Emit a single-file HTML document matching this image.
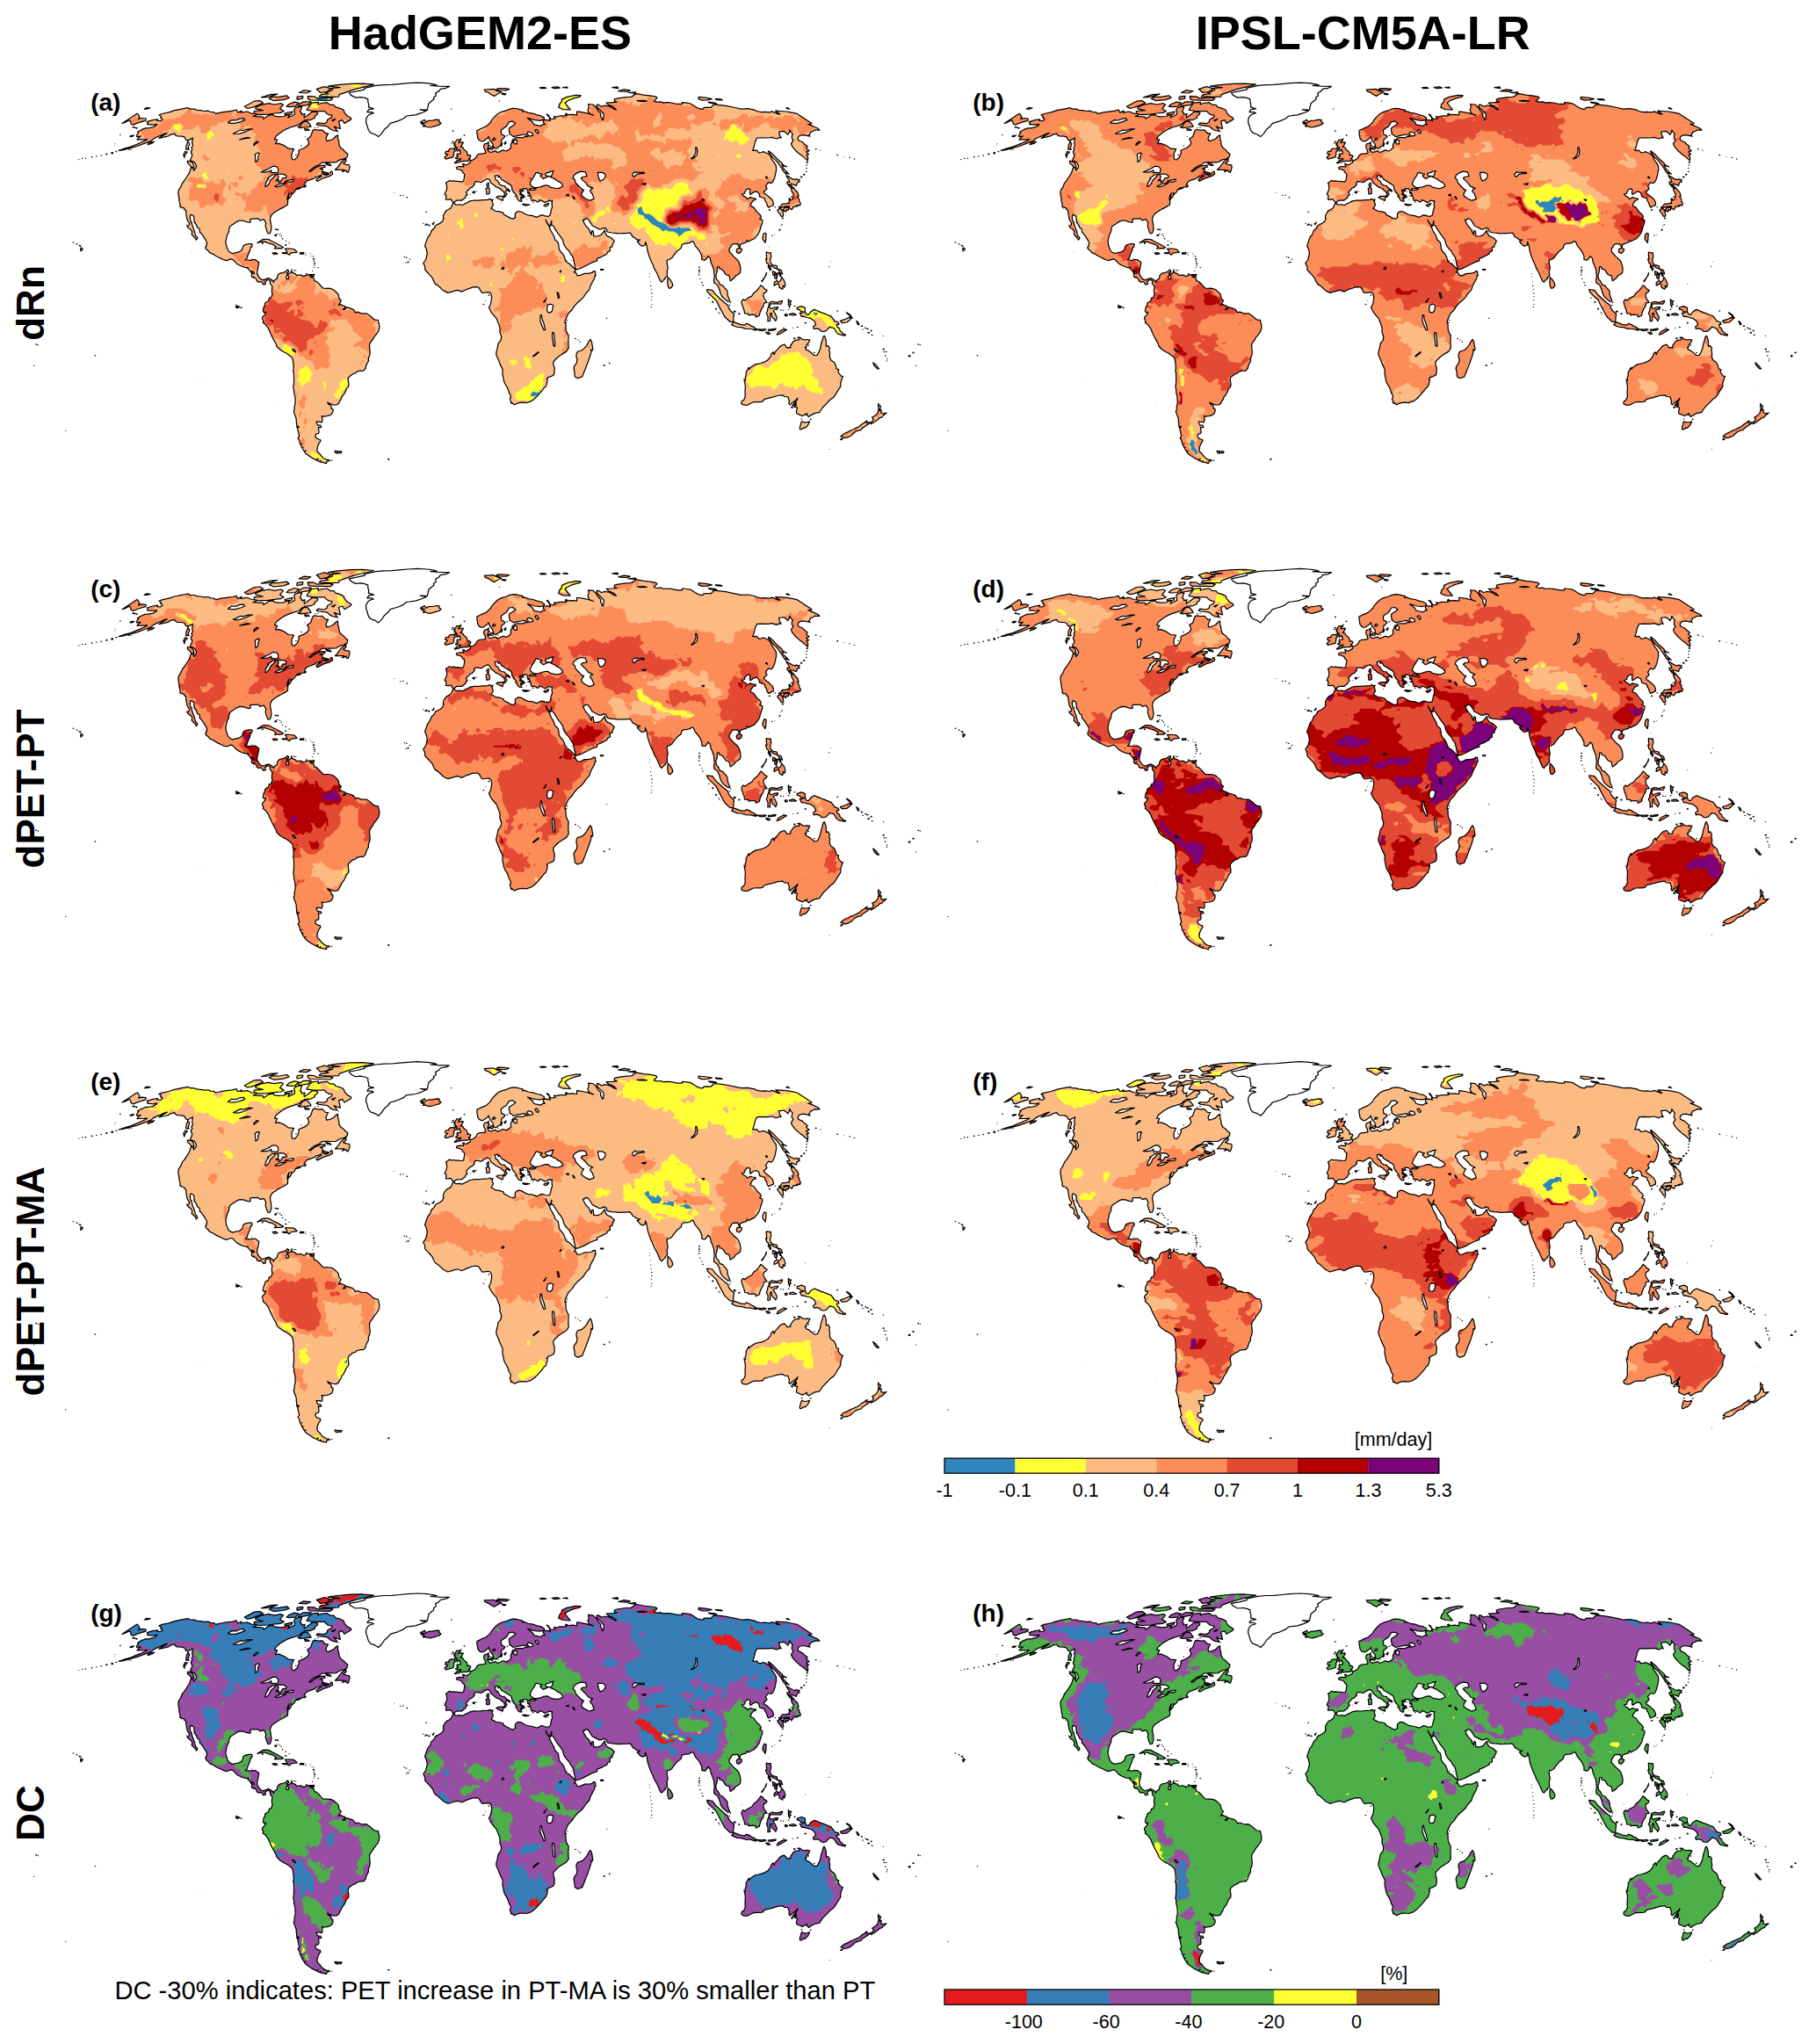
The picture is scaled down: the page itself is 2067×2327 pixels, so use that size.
<!DOCTYPE html><html><head><meta charset="utf-8"><title>fig</title><style>html,body{margin:0;padding:0;background:#fff}svg{display:block}text{font-family:"Liberation Sans",sans-serif;fill:#000}</style></head><body>
<svg xmlns="http://www.w3.org/2000/svg" width="2067" height="2327" viewBox="0 0 2067 2327">
<defs>
<path id="L" fill-rule="evenodd" clip-rule="evenodd" d="M-364.2 -208.8l6.6 -2l5.7 -0.8l-0.9 1.4l3.7 0.3l2.4 -1.4l-0.3 -1.4l-1.8 -0.6l0.6 -1.9l-2.4 -1.3l3.4 -1.5l8 -1.6l6.3 -2.2l7.1 -1.4l8.3 -1.6l2.3 1.4l4.9 0.1l2.6 1.1l4.6 0.4l4.1 0.8l4.4 -0.3l2.6 1.3l3.8 0.2l2.2 1.7l4.2 -1l4.1 -0.8l6.2 -0.8l4.7 -0.6l4.5 -1.2l0.4 1.5l1.2 1.6l4.2 -2l-1 2l7.4 -1.1l4.9 2.2l5 0.3l0.3 1.8l-3.6 1.1l6.3 0.4l5.1 0.3l0.5 2.2l3.3 -2.2l2.6 -1.9l5.3 -0.6l0.9 1.4l4.6 0.8l6.5 -0.3l3.8 -1.9l2.4 0.8l-1.4 2.5l4.2 -1.9l3.2 -1.7l0.2 -2.4l-0.8 -2.7l1.1 -2.2l4.4 -1.7l3.4 0.6l-0.8 2.4l-1.3 3l1.8 1.1l0 1.9l3.9 -0.8l-1.2 2.5l0.4 1.9l2.3 -1.6l4.2 -3.1l2.3 -1.9l4.5 0l2.1 1.4l-0.9 1.9l-2.8 1.9l0.3 1.7l-5.4 2.5l-3.9 0l-2.7 0.3l-2.4 3.4l-4.5 1.8l-4.3 1.4l-4.8 1.4l-4.3 1.8l-5.2 2.9l-3.5 2.7l-3.2 2.6l-1.7 3.6l3.1 0.2l-2 4.9l4 -0.4l5.7 2.3l5 3.6l6.2 0.5l-2.4 5.1l-0.2 3.7l0.8 3l2.5 0.4l3.2 -3.1l1.9 -5l-0.4 -2.6l6.8 -2.9l3.6 -2.7l1.4 -2.8l-0.9 -2.7l-1.1 -1.8l3.8 -2.7l1 -2.9l1.7 -4.5l2 -0.7l4.1 0.7l4.6 -0.2l2.1 2.3l1.5 1.5l3.1 0.1l-2.1 4l-0.5 2.4l1 2.3l3.7 -0.9l3.8 -1.7l2.8 -3l2.2 -1.2l0.1 4.2l1 3l0.4 4l1.7 3.3l3.4 2.5l1.8 2.1l3 2.5l-0.9 3.4l-3.8 2.3l-4.2 0.8l-4.6 2.8l-5.1 0.2l-4.9 -0.2l-6.1 0.4l-3.2 2.8l-3.8 1.3l-3.7 2.5l-3.9 3.2l1.9 0.3l5.3 -4.2l5.9 -2.5l5.1 -0.3l0.2 1.9l-5.9 1.7l3 0.8l-0.3 2.6l-0.4 2.5l2 1l2.9 0.6l1.8 -0.6l1.5 -1l2 -2.2l1.3 -0.3l0.6 3.1l-3.7 2.3l-7.1 2.2l-6.3 3.5l-1.5 -0.9l1.2 -2.3l4.7 -2.5l-0.6 -1.3l-2.2 1.3l-3.8 0.6l-0.4 1.3l-3.5 1.3l-2.4 0.9l-3.6 1.3l-1.9 1.9l-0.4 1.3l-1.1 1l0.6 1.3l1.5 0.3l-0.2 -0.9l0.2 1.2l-1.8 0.5l-2.2 0.2l-1.7 0.6l-4.6 1l3.6 -0.3l0.6 0.4l-4.3 1.2l-1.3 0l-0.3 0.9l-0.9 2l-2.8 2.4l-1.2 -1.5l0.5 2l-1 2.6l-2.7 2.7l0.5 -3.7l0.7 -3.2l-1.7 3.2l-0.7 4.2l0.9 0.3l-0.3 5.4l-3.2 2.1l-4.4 2.3l-3.5 1.9l-2.9 2l-3.3 2.2l-2.1 3.3l-0.5 3.2l0.9 4.9l0.5 5.5l-0.9 3.6l-0.9 1.6l-2 0.2l-1.4 -3.1l-0.7 -2.6l-0.9 -2.6l0.6 -3.2l-1.3 -3l-1.3 -1.6l-3.8 1.3l-2.8 -2.3l-2.8 0.4l-1.7 0l-3.3 0l-1 0.6l0.5 2.6l-0.8 1.1l-1.6 -0.4l-3.4 -0.7l-2.2 -1l-4.4 -0.3l-3.1 1.3l-3.9 2.6l-3.9 2.6l-1.4 3.9l0.1 2l-2.2 4.5l-1.5 7.2l0.7 4.5l1.9 4.9l1.6 2.2l3.2 1.8l4.4 -0.9l3.4 -0.7l3.5 -2.4l1.4 -4.6l1.3 -1.1l4.4 -1.3l3.9 0l0.6 1.8l-2.1 2.6l-0.5 2.9l-1.3 3.2l-1.2 2.6l-0.9 3.3l-2 1.9l2.8 0.2l2.9 0.3l2.6 -0.6l3.1 0l4.2 3.1l-0.6 3.2l-0.6 3.6l-0.8 2.9l-0.1 3.4l1.7 3.1l2.1 2.6l2.8 1.3l3.5 -1.3l2.9 -1.1l3.1 1.8l1.5 1.1l1.2 2.1l0.4 -1.9l3.5 -2.6l0.5 -3.3l1.8 -2.1l2.1 -0.8l3.4 -0.7l2.4 -1.3l1.5 -1.7l1.7 1.4l-0.7 1.6l-1.9 0.7l0.9 1.1l1.7 -0.1l2.1 -1.3l0.4 -0.8l0.6 -1.8l0.5 1.6l0.2 0.8l4 1.5l0.7 1.6l3.2 -0.3l2.3 0l3 1.6l2.4 -1.3l1.1 -0.5l3.8 -0.2l1.7 0l-2.1 1.3l0.8 1.3l2 0.4l1.9 1.3l0.2 2.6l2.8 0.9l2.8 2.6l1.7 2.1l2.7 2.8l3.8 0.3l2.3 -0.1l3.1 0.5l3.1 1.3l1.7 1.6l2 1.9l1.4 1.3l1.1 5.2l2.2 2l-1.4 2.9l-1.5 2.6l2.6 -1l2 1.3l2.6 0.7l0 1.9l-2.3 2l2 0l1.7 -2.8l3.8 1.1l3.7 1.3l2 2l0.9 1.9l2.6 -0.8l4 1.5l2 0.3l4.1 -0.1l4 2.7l3.5 3.3l2.3 1.3l3.4 0.3l0.7 3.2l0.9 3.1l-0.2 3.1l-1.1 3.6l-3 4.2l-2 2.3l-1.3 2.6l-2.5 3.2l-1.3 2.6l0.2 3.9l0.5 4.3l-0.5 4.5l-1.4 2.6l0.1 3.6l-1.4 2.3l-1.5 3.5l-0.2 2l-2.6 3.1l-3.3 0l-3.9 0.8l-2.1 1.9l-2.5 0.7l-4.2 3.2l-1.5 2l0 2.2l0.7 4.3l-0.2 2.9l-2.4 2.6l-1.3 3.2l-1.7 3.3l-2.3 2.8l-1.1 3l-1.6 2.1l-0.7 2.2l-2.8 1.7l-3.4 -0.1l-4.6 -1.5l-1.9 -1.4l0.5 1.9l2.5 1.3l1.2 1.6l0.1 2.3l1.8 0.7l0 2.5l-1.2 2.8l-2.6 1.8l-3.3 0.8l-3.9 0.5l-1.8 -0.5l0.6 2.1l0.2 2.6l-0.7 2.4l-3.3 -0.7l-2.9 0l1 2.8l0.6 1.3l3.1 0l1 2.1l-2 0.4l-1.4 -0.4l0.2 1.7l0.4 3.9l-0.5 1.6l-3 0.9l-0.6 2.3l0.9 1.9l2.8 1.4l1.9 0.5l0.4 1.7l-1.9 2.7l-1 2.2l-0.8 2.5l-0.3 2.8l0.5 1.9l2.7 2.4l0.6 1l0.7 1l2.3 2.5l3.7 2l3.5 0.6l0 0.9l-2.7 0.3l-0.8 2.6l-3.2 -0.9l-4 -0.9l-4.6 -2.2l-4.1 -2.1l-4.2 -2.8l-3.4 -2.5l-2.9 -4.4l-2.2 -4.1l-1.5 -3.1l-0.5 -3.2l-1.7 -2.5l1.6 -2.6l-0.8 -2.8l-0.6 -3.2l-0.6 -2.3l-1.1 -4.2l0.1 -1.9l-0.4 -1.3l-0.1 -3.8l-1.5 -4.2l-1.5 -4.3l0.9 -1.6l0.1 -3.9l1 -3.9l-0.2 -4l-0.2 -3.4l-1.4 -5.6l0.5 -1.3l-1.1 -3.5l0.7 -5.6l0 -5.5l-0.1 -5.7l-0.8 -1.9l0.7 -3.1l-0.5 -6.2l-1 -5.5l-3.1 -2.9l-4.3 -2.9l-2.9 -1.3l-4.5 -3l-3.2 -3.5l-0.5 -2.3l-2.8 -5.1l-1.8 -3.4l-1.6 -3.2l-1.3 -2.9l-1.3 -3.3l-2.8 -3.9l-3.5 -2.9l0.7 -1.3l-1.5 -3l0.3 -1.6l2 -2.2l1.1 -1l0.8 -2.6l-1.7 0.6l-1.6 -1.3l0.6 -3.9l0.7 -1.9l1 -1.5l0.2 -2.4l1.1 -0.6l2.4 -1.3l1.3 -3.8l2 -0.1l0.6 -2.3l1.2 -2l-0.9 -1.3l-0.1 -3.9l0.6 -3.5l-1.5 -2l-0.8 -1l-0.5 -1.8l0.9 -1.1l-2.2 -1.6l-1.7 -0.2l-0.9 1.2l-1.8 0.9l1 2.6l-2.6 1l-0.8 -1.3l-1.3 -1.6l-1.4 -0.7l-2.1 0.8l-1.1 -1.1l-1.1 -0.2l0.3 -1.1l-1.4 -1.9l-1.4 -0.7l-0.6 -1.3l-0.7 1.3l-1.6 -1.1l-0.4 -1.5l0.6 -1.8l-2.1 -3.4l-1.8 -1.9l-1.2 -1.2l0.8 -1.1l-1.4 0.3l-1.7 0l-3.6 -1.1l-2.8 -1.2l-3.7 -2.1l-4.3 -4.7l-2.2 -0.6l-5.3 1.8l-3.6 -1.2l-2.1 -1.1l-3.5 -1.6l-2.9 -1.5l-3.1 -2.1l-3.5 -1.3l-1.9 -2.5l-2.5 -1.9l-0.8 -2.3l1.4 -0.8l-0.5 -1.1l1.2 -2l-1 -2.9l-1.5 -2.3l-2.4 -3.9l-2 -2.6l-1.6 -1.3l-0.1 -3.5l-2.8 -2l-0.4 -1.9l-1.9 -3l-1.2 -3.5l0 -3.6l-1 -1.2l-2.8 -1.4l-0.9 2.6l0.5 3.9l1.1 2.6l1.1 3.2l0.7 2.3l1.7 4.2l0.9 3.9l0.7 2.1l1.3 0.5l0.6 2l-1.5 1.7l-0.8 -2l-3 -3l-1.3 -1.3l0.6 -3.2l-2.1 -2.9l-2 -1l-1.9 -2.5l2.2 -0.8l0.6 -2.2l-1.5 -2.3l-1.3 -2.9l-0.7 -4.6l-0.5 -2.6l0.2 -1.9l-2 -2.1l-0.4 -1l-1.7 -0.5l-2.9 -1l0.4 -2.3l-1.3 -4.5l0.2 -1.1l-0.5 -1.8l0.4 -1l-0.7 -1.3l-0.4 -3.5l0.3 -3.3l2.6 -3.8l1.6 -4.2l2.4 -2.9l2.8 -4.2l2.4 -3.8l0.8 -1.9l1.7 -5.1l2.5 0.8l0.6 2.7l2.5 -3.2l0.4 -2.2l-0.4 -0.9l-0.9 -1.6l-0.9 -1.6l-2.3 -0.9l-2.3 -0.9l0.2 -1.9l1.4 -2.5l0.5 -2.8l-1.2 -1.2l-0.2 -2.2l1.4 -2.1l-0.8 -1.9l1.5 -3l-0.9 -2.5l0.4 -2.7l0.4 -3l-5.7 3l-2.2 -0.9l-1.4 -3l-3.1 -1l-5.3 -0.2l-2.3 -1.3l-0.5 -1.6l-5.1 1.2l-2.2 1.7l-4.2 0.9l-6.4 1.5l3.3 -2.4l6 -3.5l-3.5 0.9l-4.7 2.3l-4.3 1.8l-3.4 1.8l-2.8 2.4l-8.2 3l-7.4 2.8l-7.5 2.1l-6.2 1.6l-3 0.7l-4.1 0.5l7.2 -2.5l6.4 -1.7l4.5 -1.9l6.1 -2.5l5.3 -2.4l2.9 -1.8l-3.6 0.2l-4.4 0.1l-3.6 0.2l1.5 -2l2.7 -2.1l-4.6 0.6l0.3 -2.3l1.8 -2.4l-1.1 -0.6l4.5 -2.6l4.4 -1.8l3.6 0l5.2 -1.1l4 -2.4l0.2 -1.1l-4.2 0.9l-3.3 -0.3l-3.4 -0.3l0.8 -1.4l-1.1 -1.5zM-15.9 -116.3l-1.2 3.2l-1.5 2.6l-2.1 1.3l-2.5 1.2l-2.1 2.7l-1.6 3l-0.2 2.9l0.7 0.6l-1.5 3.3l-3.1 2.4l-4.8 2.3l-1.4 3.1l-3.2 2.9l-1.5 4.2l-2.8 3.6l-1 2.9l-2.3 6.5l1.8 3.3l1 5.5l-1.6 6.8l-2.9 4.1l1.9 4l0.1 3.6l2.1 2.3l2.8 2.9l3.6 4.2l1.3 3.3l1.8 3.2l3.2 2l2 1.9l4.2 3.9l4.9 2.5l4.6 -1.3l5.7 -1.7l2.9 0.5l2.7 1.2l5.3 -2.6l3.5 -1.2l4 -1.4l2.8 -0.2l3.2 0.3l1.4 1.7l1.5 2.9l1.7 1.9l2.6 -0.3l3.7 -0.5l1.7 0.2l2 1.9l0.6 3l0 2.2l-0.7 3.9l-0.4 2.3l-2 3.6l1.7 3.9l1.1 1.9l3.7 4.6l2.5 2.9l1 3.2l0.5 1l1.7 4.6l0.5 4.2l-0.5 1.3l2 5.8l-0.7 4.4l-2.9 3.4l-1.1 5.9l-1.2 4.5l0 2.1l0.9 2.5l1.4 2.9l1.9 5.2l2.7 5.5l0.5 2.5l-0.3 3.4l1 4.8l0.7 3.8l1.5 3.4l1.9 2.9l1.5 3.4l0.8 3.1l2.1 3.6l0 1.6l-1.1 2l1.3 3.5l0 1.5l1.1 -0.7l1.1 1.2l1.8 1.1l2.9 -1.4l3.1 -1l3.5 -0.2l3.8 0.5l2.3 -0.7l3.5 -1.2l2.9 -2l3.3 -3.2l3 -3.3l3.2 -3.7l2.3 -3.1l1.8 -1.3l1.7 -4.9l0.3 -3.2l-0.9 -0.2l1.3 -2.1l2 -0.5l4.3 -2.1l1 -2l0.3 -5.8l-1.2 -3.9l-0.2 -3.4l2.5 -2.8l3.6 -3.5l3.5 -2.3l5.3 -3.3l2.6 -3.9l-0.3 -2.6l-0.1 -4l0.2 -6.4l-0.1 -1.7l-1.2 -1.5l-1.4 -3.6l-0.4 -3.9l0 -2.9l-1.1 -2.6l0.7 -2.9l1.6 -3.4l1.6 -3.6l2 -2.1l2.1 -2l2.7 -4.3l4.2 -4.6l3.8 -3.2l2.7 -2.8l2 -3.3l2.8 -3.2l1.5 -1.5l1.5 -4.7l2 -3.9l2.7 -4.9l0.3 -2.9l1.2 -0.1l-0.8 -2.2l0.2 -2.3l-2.2 -0.4l-1.1 1.4l-2.5 0.8l-3.4 0.4l-2.9 0l-2.8 1.1l-2.8 1.3l-2.8 -0.1l-1.6 -2.8l-1 -1l-1.3 0.2l1.7 -1.5l-0.1 -1.6l-1.6 -1.6l-3.1 -3l-2.7 -2.6l-2.1 -0.9l-1.9 -2l-0.9 -3.9l-2.1 -3.9l-2.2 -2.3l-1.9 -2.9l-0.5 -4.5l-0.7 -3.3l-3.6 -3.2l-0.8 -3.3l-1.7 -3.2l-2.1 -3.6l-1.5 -3.7l-1.2 -2.8l-1.8 -2.3l-1.1 -2.6l-0.2 -1.1l0.5 1.5l1.7 3l1.2 1.2l1.9 1.5l0.4 -1.5l0.4 -2.5l0.6 -1.9l-0.1 1.8l-0.4 2.9l1.7 0.3l1.5 2.1l2.4 3.8l2.5 4l2.5 2.9l2.6 4.1l1 4.3l1.7 3.2l2.4 2.9l1.8 1.6l1.9 3.6l2.7 3.6l0.9 3.6l0.6 3.2l1.1 4.9l0.6 2.1l1.6 0.2l2.8 -0.7l4.2 -1.9l3.9 -2l3.3 -1.8l3.9 -1.8l4.7 -1.6l-0.2 -2.3l2.5 -1.1l2.8 -1.1l3 -1.7l3 -1.4l0.6 -2.1l3 -1.3l-0.1 -4.3l2.2 -0.9l0.9 -2.3l1.9 -3.9l-3.7 -3.6l-4.7 -2.2l-2.1 -3.3l-0.3 -3.2l-0.8 0.9l-1.9 2.3l-2.2 2.6l-3.8 1.1l-4 -0.1l-0.2 -2.6l-0.3 -2.9l-1.2 -0.9l-0.9 2.2l0.2 2.4l-1.9 -2.8l-0.6 -2.7l-1.6 -1.8l-2.5 -2.6l-1.4 -2.5l-1.4 -2.6l-0.5 -1.9l1.7 0.2l1.4 -1.7l2.9 0.8l2.6 3.9l2.2 3.6l3.2 1.5l4.2 2.4l2.8 -0.1l3.3 -1.5l2.2 1.1l1.3 3.6l4.8 1l4.5 0.3l2.9 0.5l5.2 -0.3l3.1 0.1l5.2 -0.6l1.7 1.9l1.5 3l2.3 0.6l1.3 1.6l3.2 1.3l1.6 -0.5l-2.5 2.2l-0.9 -0.4l2 2.6l2.4 2.3l1.8 0.6l3 -1.2l0.1 -3.6l1.5 3.6l1.1 6.8l1.7 5.5l2.2 5.8l2.5 5.2l1.1 3.3l3.2 5.4l1.7 4.2l2.1 4.8l1.8 1.2l1.6 -2.3l2.3 -1.6l-0.3 -1l2.6 -2.3l-0.4 -5.2l1 -3.9l-1.1 -5.8l0.3 -3.3l2.5 -0.3l2.9 -1.9l2.4 -3.6l4 -4.6l3.9 -2.9l1.1 -3.9l2.9 -1.4l2.6 0l3.5 -0.8l2.3 -1.7l1.7 0.4l2.2 5l1.9 2.1l2.8 3.6l2.7 5.5l0.1 4.2l3.1 0.8l2.3 -1.8l1.6 -2.9l2.3 2.3l1 4.9l1.4 3.2l1.9 5.2l0.7 7.8l-0.6 3.6l0.2 3.4l2 1.1l2.2 2l2 4.9l1.2 4.5l1.8 3.3l2.8 2.6l3.7 2.9l1.7 -0.3l0.6 -0.4l-1.5 -3.5l-1.3 -3.9l0 -3.3l-1.1 -1.9l-2.5 -2.6l-1.7 -2.3l-3.2 -1l-1.7 -3.9l-2.4 -2.6l-0.6 -4.2l1.3 -4.2l0.4 -2.6l-0.3 -2.3l1.4 -0.7l1.2 0.4l0.2 2.2l2.3 0.2l1.8 1.5l2.4 3.9l1.5 1.3l2.9 0.6l1.3 5.9l1.4 -0.7l3.2 -2.6l1.6 -2.4l2.4 -1.2l2.7 -2.2l0.5 -3.6l-0.5 -4.2l-1.7 -4.9l-2.1 -2.6l-3.8 -3.3l-2.5 -2.9l-2.3 -2.6l0.1 -3.6l1.6 -1.3l0.3 -1.6l1.5 -1.6l1.5 -0.8l3.2 0.3l1.3 -0.5l0.7 2l1.7 2.4l0.5 -2.1l-0.4 -1l1.5 -0.8l2.7 -1l3.2 -0.8l0.6 -2.6l2 1.7l2 -1.3l4.4 -2l3.2 -3.7l1.9 -2.8l1.1 -2.3l1 -3.9l0.9 -2.6l1.2 -3.2l-0.1 -2.9l-3.1 -1.3l1.8 -2l-1.2 -2.6l-3.3 -2.9l-4 -5.5l-3.6 -1.7l-0.2 -0.9l1.5 -3l2.1 -2.5l2.5 -0.5l-0.1 -1.5l-3.8 -0.6l-2.2 -0.8l-3.6 2.1l-1.2 -2l-3.1 -1.6l-1.8 -2.1l1.5 -0.3l1.6 -0.5l0.5 -2.3l2.1 -2.6l2.4 -0.4l1.4 1.1l-0.5 3.2l0.6 2.3l1.6 -1l1.9 -1.6l2.9 -1l2.8 1.3l1.2 2.9l0 1.6l3.3 1.3l2.7 0.7l0.2 2.3l1.7 2.5l1.2 3.9l1.2 1.7l2.7 -1.3l3 -1.3l-0.2 -3l-1.5 -3.2l-3.9 -3.6l-4.7 -3.5l-0.8 -2l1.4 -0.9l2.3 -2.4l-1.6 -3.1l1.3 -1.6l1.9 -2.6l3.2 1l1.8 -1.6l1.7 -3.5l1 -3.6l0.7 -3.5l0.6 -2.8l-0.2 -4.8l-1.9 -3.1l-3.3 -4.7l-0.7 -2.5l-2.1 -2.8l-4.6 -2.2l-2.1 -0.9l-1.8 0.9l-3.3 0.3l-2.2 -2.7l-4.6 0.3l0.9 -3.1l0.9 -2.6l0.8 -4.1l2.3 -4.6l5.9 -0.2l6.3 0.2l4.7 -0.6l5.2 1.6l1.7 -0.6l1.8 -0.9l1.8 0.6l-1.7 -3.5l-0.8 -3.6l3 -0.3l2.6 -0.3l4.7 3.6l-0.3 0.3l0.9 -1.2l1.1 -2.1l0.1 -2l1.7 2.6l1.9 2.1l-0.8 1.4l-0.2 3.6l1.6 1.8l-1.1 2.1l-1.4 2.1l1.6 3.4l3.9 4.6l5.3 4.6l1.9 1.1l6.2 5.5l0.3 -1.9l-0.1 -2.2l-1.6 -2.5l2.7 -0.6l-3 -2.8l3.5 -1.2l-3.5 -3.1l1.6 -1.8l-3.7 -2.8l-2.1 -2.2l-1.8 -0.8l-3.1 -1.5l-0.3 -2.4l0.7 -1.8l2.4 -1.2l3.4 -0.5l7.3 1.6l-1.4 -1.4l1.4 -1.7l0.3 -1.5l2.3 -0.9l3.2 -1.7l5.1 0.2l-1.9 -2l-6.2 -2.9l-5.1 -2l2.6 0.3l1.7 -1.2l-16.7 -11l-6.1 -1.3l-5.9 -1.1l-7 -0.5l-5.6 -0.3l2.1 1.7l2.9 1.9l-1.7 0l-7.2 -3l-2.9 1.1l-5 -0.6l-4.8 0.3l-5 -1.1l-2.2 -1.3l-7.7 -1.5l-7.5 0.4l-7.4 -1.6l-10.1 -2.1l-4.8 -0.6l-9.2 -0.9l-0.8 1.2l-2.4 2.4l-4.4 -0.3l-3.7 0.3l-0.4 1.3l-1.8 0.5l-4 -1l-3.6 -2.1l-5 -3.2l-4 -0.8l-5.6 -0.5l-0.1 1.8l-5.5 0l-6.9 -1.5l-6.2 -0.3l-2.3 0.5l-3.5 -1.3l-4.6 0.3l-3.2 -1l3.1 -3.1l0.6 -1l-1.4 -1l-5.1 -1l-8.8 -1l-7.9 -1.5l-4 1.8l-0.3 1.2l-3 0.8l-4.4 0.2l-4.2 0.5l-6.6 1l-2.9 1l0 2.1l2.9 1l-5.4 0.5l-6.6 0.4l2.5 2.5l5.3 2.1l3.5 3.2l-2.5 -0.6l-4.9 -3.1l-5.4 -1.1l-1.6 0.5l-2.6 0.6l-3.6 -2.2l-1.8 0.3l0.6 3.2l4.4 4l3.2 3.3l-0.3 2.7l-0.1 3.4l-1.6 0.8l0 -1.6l-1.8 -3.1l0.3 -2.8l-3.7 -4l-1.4 -2.7l-3.8 -3.5l-5.3 -0.5l0.6 4l-1.3 2.7l1.2 2.7l1.5 1.9l4 1.4l-6.4 -2l-3.6 -0.8l-6.5 -1.2l-2.5 -0.2l0.1 2.2l-0.2 1.7l-4.5 -0.6l-5.1 0.3l-2.7 -1.4l-0.7 0.9l1.7 1.3l-1.8 0.6l-6.4 0l-3.7 1.1l-2.8 -0.6l1.4 2.6l-5.2 0.2l-2.9 -4.7l-1.6 -0.4l3.1 3.2l0.1 1.4l0.3 1.9l0.7 0.9l-3.6 -1.1l-4.2 0.2l-0.3 2.3l1.9 2.7l-2.2 -0.1l-2.7 2l-3.6 -0.9l-3.9 -0.8l-1.5 -2.9l-5.8 -4.6l6.1 1.8l2.3 0.5l5.6 0.6l3 -0.6l2.1 -1.4l-0.3 -1.4l-3.9 -2.2l-4.1 -0.8l-4.7 -1.7l-5.4 -0.8l-3.6 -1.6l-3 0.2l0.7 -1.6l-4.6 -1.1l-2.8 -0.8l-4 -0.2l-4.4 1l-2.8 1.4l-5.9 1.6l-3.8 1.9l-1.9 1.7l-3 3l-2.6 3.1l-0.9 2l-2 2l-3 2.6l-2.2 1.2l-4.3 1.7l-2 1.2l-2.2 0.8l0 3.6l0.5 1.7l0.3 3.3l0.8 1.1l1 1.6l2.5 1.2l2.2 -0.3l3.3 -2.4l2.4 -1.8l0.1 -1.2l0.9 2.4l0.7 2.1l1.8 2.1l1.8 2.5l-0.2 1.8l1.5 2.1l1 0.8l1.9 -0.2l0.4 -0.9l2.7 -1.4l1.7 -1.6l0.4 -3.4l0.1 -2.4l2.6 -2.1l1.6 -1.5l-1.1 -1.5l-3.1 -1.1l-0.4 -4.8l2.4 -2l3.6 -2.3l1.6 -2.6l1.7 -2.6l4 -0.5l3.3 2.2l-2.6 2.3l-2 1.2l-2.8 2l-0.1 3.2l0.9 1.5l-0.4 2.1l2.3 1.1l2.1 1.8l4.4 -1l4.4 -0.9l3.7 -0.7l4 2.3l-3.9 0.3l-0.9 1.1l-7.4 0l-2.8 0.7l0.2 1.5l2.5 1.1l-0.2 1.6l0 2.4l-2.4 0l-1.5 -2.2l-2.4 1l-0.8 2.8l0.6 2.4l-2.4 2.3l-2.9 1.7l-4.2 -1.1l-3.2 1.7l-3 0.9l-2.1 -1.8l-3.3 1.1l-2.9 0.6l-1.7 -1.4l-1.1 -1.2l0.4 -2.2l0.3 -2l1.6 -0.9l-1.5 -0.7l0.3 -2.5l0.2 -0.7l-2.5 1.8l-2.1 0.1l-1 1.9l0.1 2.9l1.4 2l0 1.8l0.8 1.2l-0.9 1.1l-1 -0.1l-2.6 0.6l-2.4 0l-1.5 0.6l-1.5 0.8l-0.6 1.7l-0.9 1.3l-1.5 1.5l-0.7 0.5l-2.1 0.9l-1.2 0.3l-0.6 0.8l-0.1 1.6l-1.2 0.7l-2.5 1.5l-1 0.6l-2 -0.3l-0.3 -1l-1.8 0l0.9 2.7l0.2 0.7l-1.2 -0.1l-2.5 -0.4l-2.6 0.2l-1.9 1l0.1 1.2l0.9 0.7l2.5 0.3l2.9 1.4l0.5 1.8l2.2 1.8l0.1 1.9l-0.4 2.9l-0.6 3.3l-1.4 0.9l-2.6 -0.1l-2.1 -0.4l-2.6 0.1l-2.7 -0.6l-3 0.3l-1.7 -0.8l-1.9 1.4l-2.3 1.5l1.1 2.2l-0.2 1.1l0.5 2.3l-0.4 1.6l-0.3 1.6l-1.5 2.6l-0.4 1.8l0.8 0.3l0.8 0.6l0 1.8l-0.4 3l2.9 0.1l2.6 -0.6l1.7 2.1l0.7 1.2l1.1 0.5l0.7 -0.4l2.6 -1.9l2.4 0l2.8 -0.3l0.7 0.3l3.3 -2.8l0.7 -0.1l0.6 -2.4l1.9 -1.2l-1.5 -2.3l0.9 -1.7l2.3 -2.4l1 -1.2l2.4 -0.9l3 -3.1l-0.8 -1.2l1.7 -2.2l3 0.1l1.4 0.2l1.4 0.6l1.9 -0.5l1.5 -1.4l4.3 -2.2l2.3 0.9l1.3 1.8l0.6 2l3.6 2.6l1.2 1.2l1 0.9l2.6 0.8l1.8 1.2l1.4 0.5l0.7 1.6l2.1 0.9l0.8 1.8l0.6 1.8l-1.3 2.2l1.1 0.6l1.4 -1.5l1.2 -2.2l-1.8 -2l1.7 -2.5l2.2 1.3l1 0.8l0.3 -1.1l-1.6 -1.5l-2.9 -1.6l-2 -2.5l-3.1 -0.3l-2.2 -1.6l-2 -3.6l-2.6 -1.5l-0.3 -2.8l-0.6 -1.5l3.7 -0.7l0.4 2.5l1.3 -1.5l2.4 3.9l3.3 1.9l4.5 2.8l2.8 1.7l1.1 2.5l0.3 2.8l1.5 1.9l0.8 1.2l1.5 1.8l1.6 2.1l-0.4 1.3l1.9 3.4l2.2 1.4l1.9 -0.1l-1.4 -3.6l1.9 0.5l-1.4 -1.6l1.7 -0.1l1.1 0.9l-0.3 -1.8l-3.9 -2.1l0.8 -1.6l1 0.5l-1.9 -2.6l0.5 -1.9l1.3 1.1l-0.2 1l1.9 0l1 -0.7l-1.8 -1.6l1.5 -0.9l3.9 0.3l1.2 2.5l-0.2 2l2.2 -0.3l-0.4 0.8l0.7 1.9l-1.5 1.3l2.1 -0.4l0.6 1.9l0.1 1.6l0.6 1l0 1.1l2.4 -0.5l2.3 0.7l1.6 1.4l2 -0.2l0.6 -2l3.6 1.1l2.4 1.6l3 -0.8l1.6 -1.6l2.1 0.8l2.1 -0.2l-0.5 1.9l-0.1 1.6l0.5 3.5l-0.7 1.8l-0.9 3.5l-0.4 2.4l-0.7 1.9l-1.6 1.1l-4.2 -0.4l-1.4 -0.8l-2.2 -0.3l-1.6 0.5l-1.3 0.8l-2.6 1.2l-4.8 -1.7l-5.8 -0.8l-3.3 -1.5l-3.8 -2.3l-2.9 -0.5l-2.1 0.8l-1.9 1.9l-0.1 3.6l0.4 0.6l-2.3 1.8l-3.4 -0.8l-3.9 -2.3l-3.4 -1.6l-0.9 -2.3l-5.3 -1.6l-3 -0.1l-1.5 -0.8l-1.3 -1l-2.8 -1.3l1.8 -2.7l0.7 -1.6l-0.7 -1.8l-0.6 -2.1l1 -2.2l-1.9 0.8l-1.3 -1.4l-2.9 1l-2.6 0.2l-2.4 0l-3 0.3l-1.9 0.2l-5.4 -0.1l-4.7 0.9l-3.3 1.9l-2 0.7l-2 1.3l-2.1 0.7l-2.1 -0.7l-2.6 0.2l-2.1 0.1l-1.6 -1.3l0 -0.9zM-392.5 -207.1l3.4 -1.1l5.3 -2.6l1 2.3l0.4 2l2.4 1.2l4.7 -2l4.8 -1.5l4.8 -1.4l0.4 -2.2l-4.6 -0.6l-4.1 1.1l1.5 -2.2l-1.5 -2.5l-0.8 -1.4l-1 -0.1zM-317.5 -186.5l1.8 3l-1.7 4.6l1.1 1.6l-3.6 0l0.5 -4.6zM-160.8 -161.5l4.7 0.9l1.5 1.6l-4.3 -0.6zM406.8 34.8l1.6 3.9l0.4 2.9l0.1 5.2l2.1 -0.7l1.8 2.6l-0.5 3l0.8 3.2l-0.3 4.2l1.5 3.4l3.7 2.5l1.8 3.7l0.8 3.7l2.6 1l-0.7 2.6l1 1.5l2.3 3.1l2.1 0.3l-1.4 3.6l-1.3 4.5l0.2 2.6l-0.5 1.5l-3.5 5.3l-2.2 3.8l-2.5 3.1l-2.6 1.6l-2.9 3.1l-2.1 2.1l-3.9 3.9l-3.2 4.5l-0.5 1.3l-6.1 1.3l-3.7 2l-2.7 1.9l-1.5 -1.6l-1.6 -1l1.3 -1.3l-1.9 1l-3.5 1.9l-3.2 -1.4l-3.1 -1.2l-0.6 -1.9l0.5 -2.6l0.6 -2.3l-2.2 -0.9l-1.2 0.1l2.3 -2.4l-0.3 -2.3l-2.1 3.1l-2.2 0.3l3.2 -4l2.2 -2.6l0.7 -2.3l-1.8 2.3l-2.3 1.6l-2.5 1.9l-2 2l-1.3 -1.3l0.4 -3.9l-0.8 -1.3l-0.6 -2.6l-4.3 -0.3l-1.8 -1.7l-6 0.7l-6.2 1.9l-4.5 1l-4.6 1.3l-1 2l-2.9 0.9l-2.9 -0.1l-5.2 0.2l-3.4 1.6l-3.4 1.9l-3.6 0l-1.7 -0.5l-1.7 -1.5l0.6 -2.7l2 -0.8l1.9 -4.2l-0.2 -3.3l-0.1 -2.3l0.4 -4.9l-0.3 -3.5l-1.1 -4.9l1.6 0.3l-0.5 -2.6l0.9 -2l0.2 -4.5l1.6 -2.9l1.5 -2.6l0.3 2l2.4 -2.5l5.1 -3.2l3.2 -0.5l2.4 -0.6l4.1 -1.3l4.1 -2.3l3.3 -4.1l0.8 -3.1l2 -1.9l1.2 2.9l1.1 -3.2l2.7 -2.6l2.5 -3.3l2.5 -1.6l2.8 -0.8l2.1 2.4l0.9 1.6l2.3 -0.5l1.7 0.2l0.1 -2.9l1.7 -2l1.1 -1.9l1.7 -1.2l2 -0.8l3.1 -0.1l0 -2.1l-1.6 -0.7l2.8 0l1.5 1.6l1.9 0.8l2.3 0.2l2.9 -0.3l2.5 0.6l-1.6 3.3l-2 1.9l-0.5 3.3l-1.4 -0.2l1.3 2.8l2.7 1l3.7 2.9l2.6 2.4l3.5 -0.1l2.6 -4.9l1.1 -3.3l0.8 -4.8l1.1 -2.8l1.4 -5.4zM-167.2 -242l7.5 -0.9l5.1 -3.7l-7.7 -2.3l-8.9 2.8l2.6 2.2zM-131.8 -211.6l-7.7 4.5l-2.4 -3.7l-4 1.5l1.8 8.3l-3.6 -0.9l-3.6 -1.6l3.9 5.4l-5.2 -0.9l-3.3 -1.7l-3.1 -2.9l-9.2 -1.2l-3.2 -1.1l1.7 -1.7l7.1 0.8l3.2 -1.7l0.6 -2.8l4.9 -2.8l0.4 -2.2l-3.9 -0.6l-2.9 -1.9l-1.6 -2.2l-7.2 0l-6.2 0l-7.2 -1.3l2.4 -4l3.5 -4l7.6 -0.8l-0.3 2.6l3.3 -1.5l6.6 -0.8l3.8 2.6l4 0l2.1 2.6l5.2 1.4l3.9 1.9l1.1 3.2l3.2 3.6l4.1 2.2zM327.6 26.3l3.3 1l-1.5 1.3zM-250 -224.2l-3.2 -2.1l7.5 -4l3.7 -2l6.5 -0.5l3.6 2.5l-6.1 2.6l-7 2.7zM-193.2 -234.1l6.2 -1.3l0.3 -2.7l-6.5 0.7l-0.5 2zM183.7 -242l8.3 -0.7l0 1.4zM312.8 -4.9l1.8 -1.9l1.9 1.3l3.1 -2.6l4.5 -2.3l2.7 -3.9l2.8 -1.9l2.7 -3.3l2.2 -3.2l2.6 1.9l1.2 1.8l3.3 2.1l-1.6 2.3l-2 0.8l-0.7 3.1l1.2 3.2l3 4.3l-3.5 0.6l-0.8 4.2l-1.9 2.5l-1.7 4l-0.7 3.6l-4.2 1.8l-0.3 -2.5l-4.3 -0.3l-3.5 0.7l-0.2 -1.7l-4.3 -0.3l-0.5 -3.4l-2.2 -5.8l-0.9 -3.4zM443.3 17.9l2.1 1.6l1 2.6l-1.7 -0.3zM-14.2 -162l1.8 -1.5l1.1 -1.3l3.9 -0.8l0.8 -1.2l-1.3 0.4l-1.9 -0.4l-2.4 0l-0.8 -0.9l3 -1.9l-1.6 -1l0.4 -1.8l3.7 0l0.5 -2.2l-1.7 -1.2l0.5 -1.4l-3.5 1l-0.6 -1.1l1.2 -1.4l-0.6 -1.4l-2 1.8l0.4 -2.1l0.3 -1.2l-1.7 -1l1 -0.9l0.1 -1.8l1.3 -1.9l0.7 -1.1l3.5 0l1.1 -0.1l-0.2 0.6l-2.2 1.8l-0.5 1l5.2 -0.6l0.5 0.6l-0.7 1.1l-1 1.7l-0.2 0.9l-1.5 1l2.6 0.3l0.2 0.3l1.4 2.4l2 1.5l1.2 1.2l0.5 1.6l0.6 1.4l-0.4 1l0.7 -0.4l2 0l1.1 1.4l-0.5 1.3l-0.7 0.4l-0.8 0.8l-0.6 0.6l1.8 0.4l-0.2 0.8l-0.9 0.6l-1.8 0.6l-2.5 0l-2.1 0l-2.1 0.7l-1.3 -0.6l-1 0.3l-0.7 1.2l-1.2 -0.4l-2.7 1.2zM361.7 10.4l2.5 -0.3l0.6 1.6l-2.4 0.6zM352.1 -36.4l1.8 0l-0.9 3.3l-0.3 2.2zM-184.9 -201l4.1 0.6l1.5 1.1l-4.7 0.3zM22.5 -137.6l2 -2l0.4 3.3l-0.7 1.9l-1.7 -1.6zM63.5 -115.3l2.7 0.3l4.9 0.6l-4.2 1l-3.4 -1.1zM-238.6 -71l5.9 -3.7l1.7 -0.5l5.3 0.2l3.9 2.2l4.5 2.3l4.3 2.3l4.1 2.4l-2.6 1.1l-2.2 -0.1l-5.4 0.3l1.9 -2.1l-3.6 -2.6l-5.4 -1.6l-4 -1.6l-4.3 0.3zM87.4 -113.7l1.8 -1.1l4.1 -1.2l-1.3 2.3l-2.6 1.3zM-178.3 -233.6l22.8 0.5l3 -2.3l-5.5 -1.2l-12.4 1l-3.6 -2l-7.3 -0.3l0.5 3zM39.7 -241.3l4.8 0.7l-1.5 1l-3 -0.7zM-145.9 -237.4l-7.8 0.3l-14.6 -0.5l2.3 -2.2l8.5 -1l-3.9 -1.4l8.6 -2.8l-1 -2.2l9.5 -0.7l-13.9 -1.4l10.6 -1.6l15.3 -1.3l13.8 -0.2l12.5 1.1l-7 2l-11.2 2.5l-7.5 2.2l-6.8 2.4l-6.9 2.4zM61.2 -126.3l3 0.9l1.5 2l-2.8 -1.7zM-145.5 166.2l3.1 0.3l-1.1 1.9l-2.1 -0.3zM-150.5 165.9l3.5 0.3l-0.1 2.5l-2.7 -0.9zM82.8 -247.6l5 -0.5l2.4 0.9l-5 0.4zM96.6 -248.1l6.5 -0.6l2.8 1.3l-6.5 0.6zM109.1 -247.9l4.7 -0.6l0.9 1.1zM342.9 27.6l3.2 -0.3l5.5 -0.7l-0.4 1.3l-5.2 1l-2.9 -0.3zM23.4 -178.3l2.1 -0.6l0.4 1.2l-1.7 0.2zM42.5 -184.4l1.9 -1.8l-0.2 1.8l-1.1 1.1zM-320.8 -174.9l2.6 0.6l-2.8 3.1l-0.6 3.1l-1.1 -3.1zM306.7 -62.4l1.2 -2.3l2.7 -0.6l2.5 1.5l-1 2.7l-2.5 2l-2.4 -1zM365.8 -6.8l1.5 1.9l2 0l-2 2.3l1.5 1.6l-1.7 1l0.2 2.6l-1.4 -3.6l0 -2.2zM-439.9 -64.3l0.9 -1.3l1.8 1.6l-2.2 2.4zM-210.5 -59.6l5.9 -0.5l-0.9 -2l-1.5 -2.2l4.8 0l4.8 0.3l2.1 1.3l2 2.3l-4.3 0.5l-3.4 0.8l-1.1 1.9l-2.9 -1.8l-3.7 0.2zM367.5 -134.6l1.4 -0.9l1 -0.2l-3.3 -1.9l1.8 0.3l0.9 -1l5.7 2.2l0.8 -3.4l2.9 -1.2l-3.4 -3.2l-1.9 1.1l-3.3 -1.1l-6.1 -3.7l-0.5 0.4l3.1 4.6l0.8 2.4l-2.9 -0.5l0.1 2.4l2.3 2.4zM369.8 -134.7l1.5 0.3l2 2.9l3 2.9l1.3 4.2l-1.4 0.3l2.1 3.9l0 2.3l1.6 1.8l-1 2.7l-1.3 -0.8l-1.3 0.2l0 1.6l-1.6 -1.3l-0.2 1.3l-3.2 0l0.1 1l-1.9 2.7l-2.8 -2.4l0.1 -1.5l-3.7 0.2l-3.8 0.8l-3.4 1.3l-0.9 -1.5l1.3 -0.1l1.2 -1.5l1.5 -2.1l3.3 0l2.4 -0.6l2.3 0.1l-0.6 -1l0.7 -1.9l-0.7 -2.3l1.3 -0.6l-0.2 1.4l1 1l2.1 -1.4l0.8 -2.5l0.1 -2.1l0.3 -0.9l-2.1 -3.3l-0.5 -2.2l-0.4 -2l1.8 1.2zM-53.1 -208.5l4.8 -2.7l2.1 2.7l2.5 -1.7l4.5 -0.1l4.4 -1l3.4 0.3l-0.6 1.9l2.6 1.9l-2.4 1.9l-1.6 0.4l-4.1 1.3l-4.6 1.1l-2.8 -0.4l-1.9 -0.9l-3.3 0.2l1.8 -1.5l-4.1 -1.7l4.5 -0.5zM-17.7 -178.5l3.3 0.5l1.2 2.2l-1.8 1.5l0.2 2l-0.8 3.6l-4.8 1.3l-3.8 1l-1.3 -2l1.8 -1.5l1.8 -1.9l-2.9 -0.6l0.4 -1.9l0.3 -0.9l3.4 0l-0.2 -0.9l1 -1.7zM-221.5 -59.5l3.9 -0.4l2.1 1.4l-3.8 0.7zM301.2 22.1l2.5 -2.9l2.2 0.6l5.1 2l5.1 0.8l1.8 -1.8l4.5 1.6l0.4 1l4.6 1.8l-0.1 1.4l0.4 1.8l-4.5 -1.4l-5.7 -0.2l-5.6 -1.6l-3.7 -0.2l-3.4 -1zM-207.6 -218.3l9.1 -2.2l-1.5 3.1l-6.7 0.5zM-362 -185.3l6.1 -0.9l-2.4 1.8l-5.1 1.6zM165.4 -247.9l5.9 -0.8l0.8 1.9zM263.5 -234.9l0.2 -2.2l9.3 1l5.9 1.2l-5.7 1.3l-5.4 0.2zM355.7 -110.1l2.6 0.9l0.2 1.2l1.7 1.4l-0.6 0.7l0.3 2.3l0.4 1.7l-1.5 1.2l-1.3 -0.9l-1.2 -2.4l-0.9 -0.9l-1.1 -1.3l-0.9 -1.7l0.4 -0.9l1 -0.4zM354.9 -37l1.9 1.6l0.8 2.6l-1.1 0zM331.8 27.3l2 0l-1 1.6zM340.8 -60.3l3.8 0.8l1.1 -0.4l0.5 4.7l-1.1 3.5l0.5 3.6l2.3 2.3l4.7 1l1.1 4l-2.5 -1.4l-2.1 -0.7l-2.8 -2.3l-3.1 0.4l-0.3 -2.3l-1.6 -1l-1.2 -4.5l1.2 0.3l-0.5 -4.6zM274.8 -231.3l7 0.8l2.5 1l-7.7 -0.5zM140.6 39l1.5 3.2l0.2 1.7l1.1 5.8l-0.9 2l-1.2 -1.3l-0.2 4.2l-1.4 4.4l-2.1 6l-1.6 4l-1.9 5.1l-2.9 7.2l-5.3 1.9l-3 -2l-0.5 -5.3l-0.9 -4.1l0.8 -2.6l2.5 -3.3l0.7 -4.2l-1 -3l0.1 -3.5l1.5 -2.6l2.4 -0.6l2.9 -1l2.7 -2.6l2.2 -2.6l1.2 -2.3l1.6 -2.9zM6.4 -128.6l1.8 -1.1l0.8 0.8l-0.8 1.3zM-223.5 -234.6l3.6 1.8l10.9 -1.1l6.6 -2.2l-2.5 -2.5l-9.5 1.5l-7.2 -0.3l-3.5 2.5zM358.3 -31.8l2.9 3.9l1.2 4.2l-0.9 3.2l-1.6 -1.9l-0.6 4.2l-3.6 -1.9l-0.8 -4.3l-1.7 0l-3.6 2l0.1 -3.3l3.2 -2.6l1.3 2.3l2.7 -1.9zM342.7 -43.9l2.4 0.4l1.1 2.6l-1 1.3l-1 -2zM350.8 -35.4l1.8 0.3l-0.4 5.5l-2.2 -1.9zM424.9 17.9l5 -1.7l5.9 -2.6l1 2.3l-4.2 3.6l-5.8 0.6zM462.2 65.3l3.5 2.9l3.2 4.2l-1.7 0l-3.6 -3.5zM-150.1 -154.2l2.9 -2.9l4.5 -6.3l5.1 -3.4l0 2.8l-3.2 2.5l3.3 1.3l3.6 0.6l0.5 2.5l-0.8 2.9l-1 3l-2.1 -0.8l-0.1 -1.6l-4.7 1.6l2.4 -2.2l-5.8 0zM375.9 2.6l4.9 -1.5l4 1.7l0.2 5l1.9 2.9l1.7 0.2l3 -3.8l3.8 -2.2l2.7 1.1l5.5 2.3l1.7 0.5l6.6 2.7l2.4 0.8l3.5 4.6l0.5 1l4.5 1.6l0.6 2.3l-2.5 0.1l0.4 2.5l2.7 2.2l0.6 2.6l2.6 2l1.3 1.6l2.5 0.5l-0.7 1.3l-3.4 -0.8l-4.1 -1l-2.2 -1.9l-2.1 -3.6l-1.3 -1.5l-2.3 -0.5l-1.9 -0.6l-2.5 2.6l-1.7 1.9l-2.9 0.7l-2.8 -0.3l-1.5 -2l-3.9 -1.3l-2.9 0.7l-0.7 -2.6l3 -2.3l-1.7 -4.2l-4.1 -3l-4.3 -0.9l-4.2 -1.3l-2 0.3l-1.3 -3.4l-0.9 -0.5l4.4 -1l0.8 -0.6l-3.7 -0.4l-1.6 -1.9l-2.9 -0.7zM432.6 8.4l3.3 2.3l2.7 3.9l-0.9 0.3l-2.9 -3.9l-2.5 -1.9zM282.8 -234.9l6.2 0.3l1.7 1l-6.3 -0.3zM33.2 -245.2l2.2 -1.8l7.2 0.2l5.5 0.7l-3 1.5l-7.3 -0.2zM104.2 -225.3l5.2 2.4l8.3 0.3l-3 -3.7l-3.2 -4l3.3 -2.5l6 -2.6l8 -2l0.7 -1.5l-5.8 -0.2l-9.9 2l-5.8 2.7l-0.2 2.8l-2.5 2.6zM-382.5 -193.1l3.6 -0.3l-2.3 1.5l-2.4 -0.3zM468.4 111.8l0.5 1.9l2.1 1l-0.6 2.3l-1.1 2.7l2.3 -0.8l-0.1 1.9l-0.2 1.5l2.1 1l4.1 -0.8l-3.7 3.2l-1.4 1.6l-3.3 1l0 0.6l-5 3.9l-4.3 2.3l-0.6 -1l2.5 -2.3l1.3 -2.1l-1 -0.8l-0.8 -1.3l1.5 -0.8l2.3 -1.4l1.7 -1.8l0.7 -0.8l0.6 -2.4l0.6 -2.1l-0.4 -3l-0.2 -1.1zM455.6 131.5l-0.6 1.1l-0.3 1.5l3.9 -1l-1.8 2.4l-3.2 2.1l-3.6 2.3l-1.6 2.2l-2.3 0.3l-4.1 1.6l-2.4 2.3l-2.7 2.4l-4 1.9l-4.1 0.5l-0.6 -1.3l-2.7 -0.2l1 -1.4l3 -2.2l3.3 -1.3l3.4 -1.9l3.4 -1.3l3.1 -1.6l2.9 -1.3l1.3 -0.8l2.4 -2.3l2.9 -1.6l1.4 -1.4zM172.3 -243.9l6.6 -1.8l6.9 1.1l-3.6 1.4zM38.9 -181l1.3 -3.4l-0.9 3.1zM335.2 -27.3l2.1 -2.6l3.1 -4.2l0.6 -2.9l-1.2 3.2l-2.4 4.6l-1.6 2.2zM347.9 -38.7l3.3 1.3l-1.2 2.6l-1.6 0.7zM-163.7 -152l5.6 1.4l-1.7 1.4l-3 -0.9zM-234.1 -236.6l8.3 -0.5l10.2 -3.2l-8.2 0.5zM-201.8 -225.8l6.6 -0.5l3.8 -4l-4.9 -1l-6.3 2.3l-2.7 2.7zM-189.9 -59.8l4.2 0l-0.1 1.3l-4.3 0zM-191.1 -242l8.6 0.5l4.8 -2.4l-8.1 -0.7zM51 -187.1l2.4 -1.2l0.6 0.9l-2.2 0.9zM343.7 -175.5l5.1 4.3l4.3 4.7l5.3 4.7l1.3 2.2l4.1 2l-5.4 -1.7l2.1 3.8l1.4 1.6l4.7 4.6l-3.3 -2.1l0.1 2.6l-3 -3.5l-3.5 -5.7l-2.8 -3.8l-2.3 -2.8l-4 -3.5l-3.3 -4.3l-1.6 -2.8zM356.2 -40.6l1.6 1l1.3 3.9l-2.4 -0.7l-2.4 -4.2zM21.6 -132.8l2.6 -1l1.3 1l0.3 5.5l-1.9 0.6l-1.6 0l-0.1 -2.9zM367.1 10.1l4.3 -1l3.7 1.9l-3.7 0.4l-4.3 -0.4zM359.5 -108.3l1.2 -1.7l0.5 -0.7l2.4 -0.9l1.9 0.5l0.8 1.3l-0.8 1.8l-2 -0.8l-0.5 2.5l-1 -0.6l-0.8 -1zM33.3 -122.8l2.2 -1.3l6.1 -0.1l-1 5l-3.1 -1.3zM151.9 -40.9l3.4 0l-0.2 0.8l-2.9 0zM-192.2 -226.3l11.7 -1.9l3.1 -3.4l-8.8 0l-4.5 2.6zM-187.2 -209.1l5.6 -0.2l3.5 4.5l0.6 1.5l-6.5 0.8l-5.9 0.6l-2.6 -1.1l3.5 -1.2l-0.7 -2.9zM19.7 -245.5l7.1 -0.4l3.5 -0.2l4.2 2.2l4.8 1.2l-4.9 2.4l-3.3 2.2l-4.2 -2.2l-2.1 -1.7l-3.9 -1.4zM228.6 -31.8l2.7 2.6l0.9 1.4l1.6 2.8l0.5 2.6l-1.7 2.3l-1.7 0.9l-1.2 -0.4l-1.1 -2.9l-0.3 -3.2l0.2 -3.2zM426.4 151.7l1.2 0.3l-1 1l-1.3 0zM-380.6 -202.5l5.2 0.6l-0.3 0.6l-3.7 -1.7zM343.8 -2.6l0.6 -0.3l2.8 -1.3l5.8 1l5.7 -2l0.5 0.7l-1.9 3.2l-4.3 -0.3l-4.3 0l-2.9 0l-1.1 1.6l-0.3 2.6l2.2 1.6l2.1 -1.3l5.1 -1l0.3 1.3l-4.1 2l-1.4 1l2.2 3.5l1.6 3.3l0.5 1.6l-1.6 3.3l-1.6 -2.3l-1.4 -1l-1.4 -1.9l-0.1 -3.9l-1.7 0.6l0 5.2l-0.1 3.3l-2.6 0.3l0.2 -5.2l-1.8 -3.9l1.2 -2.6l0.3 -2.6l1.5 -3.6zM273.1 -18l6.3 0.9l3.6 4.9l5 4.7l1.2 1l3.5 3.3l4.3 3.2l0.9 3.2l1.9 3l4.2 3.5l-0.6 4.9l-0.3 4.4l-1.7 -0.2l-2 0l-6.1 -5.8l-5.3 -9.9l-4.5 -8.8l-5.3 -5l-4.2 -4.2zM340.1 30.9l2.9 -0.4l2.1 2l-2.3 0.6zM334.1 27.6l4.3 -0.6l2 0.6l-1.5 1l-4.4 0.6zM339.2 -82.2l1.5 1l-0.4 3.2l0 3l-0.8 3.9l-1 -1.7l-1.8 -2.2l-0.2 -2.3l0.8 -2.6l0.6 -1.5zM381.3 132.2l2.7 1.2l3.6 -0.3l2.3 -0.8l-0.7 2.4l-1.5 2.3l-2.9 2.9l-1.4 -0.5l-2.7 2.1l-1.8 -0.3l0.1 -2.9l0.6 -1.3l0.7 -3.2zM352.7 33.5l1.7 -3l4.5 -2.6l4.4 -0.6l0.5 0.6l-5.1 3l-3.7 2.2zM-176.7 -34.8l2.8 -0.3l-0.3 2.3l-2.6 0zM-318 -164.3l5 1.2l1.5 2.2l0.9 3.5l-0.3 0.9l-2.9 -0.9l-1.6 -2.2l-2.7 -2.5zM-218.8 -218.5l-7.3 1.1l-11 0.5l-4.9 -1.4l-0.3 -2.7l10.1 -0.8l-8.3 -1.9l-0.2 -1.6l6.4 -2.9l8.7 -1.6l6.5 1.3l7.4 -1.3l2.6 1.3l-3.8 4.8l4.6 2.7l-3.8 1.9zM363.5 -224.2l1 -0.8l2.7 1.6zM-364.5 -225l4.1 0.5l-3.8 1.1l-3 0zM26.8 -178l0.1 -2.3l3 -0.1l-0.3 2.1l-0.8 1.3zM87.2 -3.6l2.9 -3.5l0.3 -0.7l-2 3.9zM149 -151.1l5.1 0l3.4 1.9l-0.1 3.2l-2.2 3.2l-3.5 1.3l-1.6 -2.9l-0.8 -3.8zM-258.7 -188.6l7.7 -2.4l4.4 0.3l-6.7 1.2zM255.5 -166.5l3.5 -1.6l2.8 -3.1l0.5 -4.6l-0.7 -3.7l-1.4 0l0.3 4.6l-1.4 4l-2.4 3.1l-1.6 0.7zM188.2 -149.2l2.6 -2.5l5.3 0.6l5 -0.3l1 1.3l-4.2 0.3l-4.9 0.6l-2.7 3.2l-1.7 -1.2zM76.5 -133.8l-3.2 -2.2l-1.5 -2l0.7 -2.2l1.5 -3.2l2.3 -3.2l2.1 -4.1l1.8 -0.4l1.4 0.7l2.7 0.9l1.5 0l-2.4 2.4l2.7 2.4l1 0.7l4 -2l2.5 -1.1l-2.5 0.2l-1.5 -1.3l-0.7 -1.3l1.6 -1.1l3.2 -0.8l1.8 -1.1l3.2 -0.5l-1.2 1.6l-0.3 2.2l-1.2 2.3l-1.7 0.6l1.7 0.7l1.4 0.6l3.7 1.9l1.9 1.6l3.7 1.9l2.2 2.8l0.2 1.6l-4.6 2.1l-3.4 0.1l-5.7 -1.1l-3.4 -2.4l-3.7 0.2l-4.8 1.7l-3.9 0.8zM121.7 -147.9l3.3 -2.5l4.6 -1.9l5.2 0.6l1.8 4.8l-5.4 0.9l-1.4 1.6l2.8 2.8l2.9 2.7l2.6 3.5l3.2 1.3l2.1 1l-2.4 0.9l-0.8 2.3l2.5 3.2l2 5.5l-5 2l-5 -2.3l-4.3 -3.2l0.2 -2.9l2.4 -3.6l-2.5 -1l-4.1 -4.3l-2.8 -3.1l-0.7 -3.2l-2.2 -1.9zM39.3 -41.6l2 -1.9l0.9 1.6l-1.7 1zM-218.6 -135.4l2.1 0.7l4.3 -1l6.3 -3.1l-2.5 -0.1l-4.2 0.6l-4.6 2zM-272 -207.6l3.8 0.5l4.4 0l6 -1.7l5.1 -2l-1.3 -1.9l-4.5 0.3l-4.1 1.9l-5.1 -0.3l-3.1 2zM-266.1 -195.4l3.5 0.4l3.8 -0.4l4.4 -1.2l7.2 -3.2l3 -0.9l-4.5 0l-6 1.7l-2.8 -0.5l-5 2.3zM-216.2 -148.8l2.9 -0.7l4.9 0.3l3 2.3l-0.9 2.2l-3.2 -0.3l-2.6 4.2l-2.3 1.2l0.6 -2.8l-3.7 0.6l2.4 -1.9l0.8 -2.9zM198.9 -138l4.8 -0.9l-1.1 1.9zM75.8 58.5l6.1 -4.9l-0.8 -0.3l-5.8 4.5zM339.9 -145.3l1 -1.3l1.2 1.9zM71.1 -192.3l4.1 -1.1l-0.9 -2.6l-4.4 -1.5l-1.8 2.1l2.3 2zM97.2 30.9l1.7 0.3l0.7 6.2l0.6 6.5l-0.1 2.9l-1.7 -0.7l-0.6 -5.5l-0.8 -4.9zM-204.4 -34.8l1.6 2.3l-0.4 2.6l-2.3 0l-0.2 -2.6zM70.5 -131.2l1.9 -1.8l3.6 -0.1l2.8 0.8l-2.3 1.1l-2.9 0zM-229.7 -135.2l0.9 -4.4l3.1 -4.8l-1.3 -0.1l3.6 -2.4l2 -1.6l4 -0.5l-2.6 3.4l-3.3 2.8l-2.2 4.8l-2.6 2.6zM-153.9 -210.5l4.2 -1.7l-2.4 2.3zM-244.9 -39l2.4 1.3l0.5 1.6l-2.3 -0.3zM80.6 -195.4l1.1 -1.8l-2.4 -2.9l-1.9 1.1l1.7 2.4zM-207.3 -140.5l2.1 0l5.2 0l2.4 -1l0.2 -1.9l-4.5 0.8l-4 1zM267.4 -120.5l2.8 0.3l-0.9 1.3zM-242.5 -181.9l5.1 -4l-1.9 -0.6l-3.3 3zM-234.4 -151.5l5.2 -2.4l3.7 -1.6l4.6 -2.8l4.1 0.4l2.1 2.6l-0.4 3.3l-0.5 1.3l-3.5 -0.4l-3.6 0.2l0 -2.9l-2.2 1.5l-4.2 0.9zM105.5 -38l1.7 -1.6l-0.5 1.9zM83.7 11l1.2 0l0.8 5.2l1.9 4.9l1.6 6.8l-1.7 0.4l-2.7 -6.2l-1.4 -4.2l0 -4.3zM193.6 -232.8l7.5 -0.3l3.8 0.8l-7.5 0.2zM-198.8 50l2.3 0.4l1.7 2.9l-2 -0.3zM102.6 -14.6l1.5 0.6l1.2 5.6l-1.5 0.3zM120.3 -124.1l1.6 1.3l0.9 2l-1.5 -0.7zM112.9 -125.4l2.8 -0.9l-0.2 1.9zM28.8 -188l1.7 -2.4l1.9 0.9l-1 1.5zM91.3 2.9l0.5 -3.2l3.5 -1l2.9 1.3l-0.6 3.2l-0.6 3.3l-2.3 1.9l-2.9 -0.6l-0.8 -2.9zM-240.7 -163.1l2 -0.9l1.3 -3.1l-0.6 -1.9l1.9 -3.7l-1.6 -1l-3.5 1.9l0.3 3.1l0.3 3.8z"/>
<path id="G" d="M-100.8 -191.9l-3.9 -2.6l-5.1 -1.8l-2.3 -3l-1.6 -5.5l-1.2 -3.4l0.2 -4.2l1.8 -3.1l2.1 -1.9l4.6 -1.4l-2.6 -1.1l-4.8 0l1.9 -3l5.7 -0.8l-6.1 -1.9l0.4 -2.9l-1 -3.1l0 -3l-3.8 -1.5l-4.2 -0.8l-6.1 0.5l-3.1 -1.5l-2.7 -1.7l-1.5 -2.4l8.8 -1.6l9 -2.1l-0.4 -1.5l6.6 -1.5l6.5 -1.4l9.2 -0.8l8.7 -0.2l9.1 -0.8l9.1 -0.9l11.4 -0.6l10.5 0.6l6.5 0.9l4.7 1.2l-7.1 0.6l10.2 0.8l11.3 0.2l-3.9 1.9l-6.4 1.1l-1.4 2.2l-4.2 2.4l0.8 2.9l-3 2l0.5 2l-2.3 1.8l-3.6 3l-0.7 2.9l-0.9 4.6l-8.1 -0.3l6.9 1.3l-5.7 2.5l-6.8 2.2l-6.6 0.8l-3.2 0.3l-4.1 3.3l-6.1 2.6l-2.7 0.8l-5.7 1.7l-2.7 3.5l-3.9 3.2l-3.4 5z"/>
<path id="D" d="M-263.6 1.9a2.2 1.76 0 1 0 4.4 0a2.2 1.76 0 1 0 -4.4 0zM-260.3 1.9a1.2 0.96 0 1 0 2.4 0a1.2 0.96 0 1 0 -2.4 0zM-257.8 2.9a1 0.8 0 1 0 2 0a1 0.8 0 1 0 -2 0zM-263.5 -0.0a0.9 0.72 0 1 0 1.8 0a0.9 0.72 0 1 0 -1.8 0zM-47.4 -91.9a1.4 1.12 0 1 0 2.8 0a1.4 1.12 0 1 0 -2.8 0zM-44.4 -91.0a1.2 0.96 0 1 0 2.4 0a1.2 0.96 0 1 0 -2.4 0zM-40.0 -92.6a1.3 1.04 0 1 0 2.6 0a1.3 1.04 0 1 0 -2.6 0zM-38.6 -94.2a1 0.8 0 1 0 2 0a1 0.8 0 1 0 -2 0zM-50.3 -93.2a0.8 0.64 0 1 0 1.6 0a0.8 0.64 0 1 0 -1.6 0zM-48.4 -91.3a0.7 0.56 0 1 0 1.4 0a0.7 0.56 0 1 0 -1.4 0zM-68.1 -49.1a1.1 0.88 0 1 0 2.2 0a1.1 0.88 0 1 0 -2.2 0zM-69.8 -54.3a0.9 0.72 0 1 0 1.8 0a0.9 0.72 0 1 0 -1.8 0zM-71.9 -55.2a0.8 0.64 0 1 0 1.6 0a0.8 0.64 0 1 0 -1.6 0zM-65.8 -52.3a0.8 0.64 0 1 0 1.6 0a0.8 0.64 0 1 0 -1.6 0zM-70.0 -48.4a0.7 0.56 0 1 0 1.4 0a0.7 0.56 0 1 0 -1.4 0zM-73.2 -125.4a0.8 0.64 0 1 0 1.6 0a0.8 0.64 0 1 0 -1.6 0zM-69.2 -122.8a1 0.8 0 1 0 2 0a1 0.8 0 1 0 -2 0zM-76.5 -125.1a0.8 0.64 0 1 0 1.6 0a0.8 0.64 0 1 0 -1.6 0zM-83.3 -128.3a0.6 0.48 0 1 0 1.2 0a0.6 0.48 0 1 0 -1.2 0zM-47.3 -106.2a0.9 0.72 0 1 0 1.8 0a0.9 0.72 0 1 0 -1.8 0zM-219.3 -79.6a1.5 1.2 0 1 0 3 0a1.5 1.2 0 1 0 -3 0zM-216.6 -86.1a1.2 0.96 0 1 0 2.4 0a1.2 0.96 0 1 0 -2.4 0zM-218.9 -86.4a1.1 0.88 0 1 0 2.2 0a1.1 0.88 0 1 0 -2.2 0zM-213.7 -80.6a0.8 0.64 0 1 0 1.6 0a0.8 0.64 0 1 0 -1.6 0zM-212.0 -78.6a0.8 0.64 0 1 0 1.6 0a0.8 0.64 0 1 0 -1.6 0zM-210.8 -75.7a0.9 0.72 0 1 0 1.8 0a0.9 0.72 0 1 0 -1.8 0zM-207.0 -73.4a0.8 0.64 0 1 0 1.6 0a0.8 0.64 0 1 0 -1.6 0zM-207.3 -68.5a1.1 0.88 0 1 0 2.2 0a1.1 0.88 0 1 0 -2.2 0zM-203.1 -70.8a0.8 0.64 0 1 0 1.6 0a0.8 0.64 0 1 0 -1.6 0zM-216.7 -81.2a0.8 0.64 0 1 0 1.6 0a0.8 0.64 0 1 0 -1.6 0zM-175.6 -52.6a1.2 0.96 0 1 0 2.4 0a1.2 0.96 0 1 0 -2.4 0zM-175.0 -50.0a0.9 0.72 0 1 0 1.8 0a0.9 0.72 0 1 0 -1.8 0zM-174.5 -47.4a1.1 0.88 0 1 0 2.2 0a1.1 0.88 0 1 0 -2.2 0zM-174.4 -45.2a0.8 0.64 0 1 0 1.6 0a0.8 0.64 0 1 0 -1.6 0zM-175.0 -42.9a0.7 0.56 0 1 0 1.4 0a0.7 0.56 0 1 0 -1.4 0zM-176.6 -39.3a0.7 0.56 0 1 0 1.4 0a0.7 0.56 0 1 0 -1.4 0zM-178.1 -56.2a0.6 0.48 0 1 0 1.2 0a0.6 0.48 0 1 0 -1.2 0zM-175.8 -55.6a0.8 0.64 0 1 0 1.6 0a0.8 0.64 0 1 0 -1.6 0zM-178.8 -58.8a0.6 0.48 0 1 0 1.2 0a0.6 0.48 0 1 0 -1.2 0zM-184.1 -57.5a0.7 0.56 0 1 0 1.4 0a0.7 0.56 0 1 0 -1.4 0zM-170.2 -42.9a0.8 0.64 0 1 0 1.6 0a0.8 0.64 0 1 0 -1.6 0zM-184.1 -59.5a0.6 0.48 0 1 0 1.2 0a0.6 0.48 0 1 0 -1.2 0zM-197.6 -39.6a0.9 0.72 0 1 0 1.8 0a0.9 0.72 0 1 0 -1.8 0zM-195.4 -39.6a0.7 0.56 0 1 0 1.4 0a0.7 0.56 0 1 0 -1.4 0zM-200.2 -40.6a0.7 0.56 0 1 0 1.4 0a0.7 0.56 0 1 0 -1.4 0zM-183.7 -35.7a1 0.8 0 1 0 2 0a1 0.8 0 1 0 -2 0zM208.3 -22.1a0.7 0.56 0 1 0 1.4 0a0.7 0.56 0 1 0 -1.4 0zM209.0 -17.9a0.7 0.56 0 1 0 1.4 0a0.7 0.56 0 1 0 -1.4 0zM209.6 -13.6a0.8 0.64 0 1 0 1.6 0a0.8 0.64 0 1 0 -1.6 0zM209.8 -9.7a0.7 0.56 0 1 0 1.4 0a0.7 0.56 0 1 0 -1.4 0zM209.3 -5.8a0.7 0.56 0 1 0 1.4 0a0.7 0.56 0 1 0 -1.4 0zM209.7 -1.0a0.7 0.56 0 1 0 1.4 0a0.7 0.56 0 1 0 -1.4 0zM209.1 1.9a0.7 0.56 0 1 0 1.4 0a0.7 0.56 0 1 0 -1.4 0zM207.2 -35.7a0.6 0.48 0 1 0 1.2 0a0.6 0.48 0 1 0 -1.2 0zM207.1 -32.5a0.6 0.48 0 1 0 1.2 0a0.6 0.48 0 1 0 -1.2 0zM208.2 -27.0a0.6 0.48 0 1 0 1.2 0a0.6 0.48 0 1 0 -1.2 0zM263.5 -43.2a1 0.8 0 1 0 2 0a1 0.8 0 1 0 -2 0zM263.4 -40.0a1.1 0.88 0 1 0 2.2 0a1.1 0.88 0 1 0 -2.2 0zM263.5 -37.7a0.9 0.72 0 1 0 1.8 0a0.9 0.72 0 1 0 -1.8 0zM263.2 -34.8a0.9 0.72 0 1 0 1.8 0a0.9 0.72 0 1 0 -1.8 0zM264.5 -29.9a0.8 0.64 0 1 0 1.6 0a0.8 0.64 0 1 0 -1.6 0zM266.7 -26.0a0.8 0.64 0 1 0 1.6 0a0.8 0.64 0 1 0 -1.6 0zM267.6 -22.7a0.9 0.72 0 1 0 1.8 0a0.9 0.72 0 1 0 -1.8 0zM122.6 38.0a0.9 0.72 0 1 0 1.8 0a0.9 0.72 0 1 0 -1.8 0zM125.9 39.6a0.7 0.56 0 1 0 1.4 0a0.7 0.56 0 1 0 -1.4 0zM128.0 41.6a0.8 0.64 0 1 0 1.6 0a0.8 0.64 0 1 0 -1.6 0zM161.3 66.0a1 0.8 0 1 0 2 0a1 0.8 0 1 0 -2 0zM155.1 68.5a1.1 0.88 0 1 0 2.2 0a1.1 0.88 0 1 0 -2.2 0zM158.4 14.9a0.7 0.56 0 1 0 1.4 0a0.7 0.56 0 1 0 -1.4 0zM111.9 19.8a1 0.8 0 1 0 2 0a1 0.8 0 1 0 -2 0zM113.3 16.9a0.8 0.64 0 1 0 1.6 0a0.8 0.64 0 1 0 -1.6 0zM23.9 -11.4a1 0.8 0 1 0 2 0a1 0.8 0 1 0 -2 0zM18.0 -1.0a0.9 0.72 0 1 0 1.8 0a0.9 0.72 0 1 0 -1.8 0zM20.6 -5.2a0.6 0.48 0 1 0 1.2 0a0.6 0.48 0 1 0 -1.2 0zM355.2 -86.1a1 0.8 0 1 0 2 0a1 0.8 0 1 0 -2 0zM354.9 -85.1a0.7 0.56 0 1 0 1.4 0a0.7 0.56 0 1 0 -1.4 0zM357.7 -91.9a0.9 0.72 0 1 0 1.8 0a0.9 0.72 0 1 0 -1.8 0zM358.2 -98.8a0.9 0.72 0 1 0 1.8 0a0.9 0.72 0 1 0 -1.8 0zM359.5 -99.4a0.7 0.56 0 1 0 1.4 0a0.7 0.56 0 1 0 -1.4 0zM346.5 -79.3a0.8 0.64 0 1 0 1.6 0a0.8 0.64 0 1 0 -1.6 0zM349.5 -80.6a0.6 0.48 0 1 0 1.2 0a0.6 0.48 0 1 0 -1.2 0zM343.3 -108.5a1.1 0.88 0 1 0 2.2 0a1.1 0.88 0 1 0 -2.2 0zM349.9 -111.8a0.8 0.64 0 1 0 1.6 0a0.8 0.64 0 1 0 -1.6 0zM368.6 -123.4a1 0.8 0 1 0 2 0a1 0.8 0 1 0 -2 0zM356.6 -90.3a0.6 0.48 0 1 0 1.2 0a0.6 0.48 0 1 0 -1.2 0zM386.1 -162.8a1.2 0.96 0 1 0 2.4 0a1.2 0.96 0 1 0 -2.4 0zM385.8 -159.6a0.9 0.72 0 1 0 1.8 0a0.9 0.72 0 1 0 -1.8 0zM385.5 -156.1a0.8 0.64 0 1 0 1.6 0a0.8 0.64 0 1 0 -1.6 0zM385.3 -152.3a0.9 0.72 0 1 0 1.8 0a0.9 0.72 0 1 0 -1.8 0zM382.5 -148.8a1.2 0.96 0 1 0 2.4 0a1.2 0.96 0 1 0 -2.4 0zM379.4 -146.0a1.3 1.04 0 1 0 2.6 0a1.3 1.04 0 1 0 -2.6 0zM377.0 -143.1a1.1 0.88 0 1 0 2.2 0a1.1 0.88 0 1 0 -2.2 0zM396.2 -177.7a1 0.8 0 1 0 2 0a1 0.8 0 1 0 -2 0zM401.7 -176.4a0.7 0.56 0 1 0 1.4 0a0.7 0.56 0 1 0 -1.4 0zM502.1 57.8a1.5 1.2 0 1 0 3 0a1.5 1.2 0 1 0 -3 0zM506.8 53.9a1.2 0.96 0 1 0 2.4 0a1.2 0.96 0 1 0 -2.4 0zM473.0 50.0a1.2 0.96 0 1 0 2.4 0a1.2 0.96 0 1 0 -2.4 0zM476.5 53.0a0.8 0.64 0 1 0 1.6 0a0.8 0.64 0 1 0 -1.6 0zM475.4 57.5a0.9 0.72 0 1 0 1.8 0a0.9 0.72 0 1 0 -1.8 0zM477.4 61.1a0.8 0.64 0 1 0 1.6 0a0.8 0.64 0 1 0 -1.6 0zM477.1 63.4a0.8 0.64 0 1 0 1.6 0a0.8 0.64 0 1 0 -1.6 0zM474.1 53.0a0.9 0.72 0 1 0 1.8 0a0.9 0.72 0 1 0 -1.8 0zM448.3 23.7a1.1 0.88 0 1 0 2.2 0a1.1 0.88 0 1 0 -2.2 0zM452.6 25.7a0.9 0.72 0 1 0 1.8 0a0.9 0.72 0 1 0 -1.8 0zM455.3 27.0a1 0.8 0 1 0 2 0a1 0.8 0 1 0 -2 0zM455.9 31.2a1.3 1.04 0 1 0 2.6 0a1.3 1.04 0 1 0 -2.6 0zM460.2 33.8a1 0.8 0 1 0 2 0a1 0.8 0 1 0 -2 0zM459.0 28.9a1.1 0.88 0 1 0 2.2 0a1.1 0.88 0 1 0 -2.2 0zM454.1 26.6a0.8 0.64 0 1 0 1.6 0a0.8 0.64 0 1 0 -1.6 0zM449.7 27.6a0.8 0.64 0 1 0 1.6 0a0.8 0.64 0 1 0 -1.6 0zM473.2 34.8a0.7 0.56 0 1 0 1.4 0a0.7 0.56 0 1 0 -1.4 0zM-491.4 44.5a1 0.8 0 1 0 2 0a1 0.8 0 1 0 -2 0zM-489.1 45.2a0.8 0.64 0 1 0 1.6 0a0.8 0.64 0 1 0 -1.6 0zM-493.6 68.9a0.7 0.56 0 1 0 1.4 0a0.7 0.56 0 1 0 -1.4 0zM-424.0 57.2a0.9 0.72 0 1 0 1.8 0a0.9 0.72 0 1 0 -1.8 0zM420.7 6.5a1 0.8 0 1 0 2 0a1 0.8 0 1 0 -2 0zM431.1 8.1a0.6 0.48 0 1 0 1.2 0a0.6 0.48 0 1 0 -1.2 0zM384.0 20.1a1.2 0.96 0 1 0 2.4 0a1.2 0.96 0 1 0 -2.4 0zM375.3 25.0a1 0.8 0 1 0 2 0a1 0.8 0 1 0 -2 0zM372.1 1.0a1 0.8 0 1 0 2 0a1 0.8 0 1 0 -2 0zM365.2 4.9a0.9 0.72 0 1 0 1.8 0a0.9 0.72 0 1 0 -1.8 0zM359.3 5.8a0.8 0.64 0 1 0 1.6 0a0.8 0.64 0 1 0 -1.6 0zM356.3 5.5a0.9 0.72 0 1 0 1.8 0a0.9 0.72 0 1 0 -1.8 0zM352.0 4.9a0.9 0.72 0 1 0 1.8 0a0.9 0.72 0 1 0 -1.8 0zM359.7 26.0a0.8 0.64 0 1 0 1.6 0a0.8 0.64 0 1 0 -1.6 0zM370.4 25.7a0.7 0.56 0 1 0 1.4 0a0.7 0.56 0 1 0 -1.4 0zM384.6 -24.4a0.6 0.48 0 1 0 1.2 0a0.6 0.48 0 1 0 -1.2 0zM411.5 -43.9a0.7 0.56 0 1 0 1.4 0a0.7 0.56 0 1 0 -1.4 0zM413.4 -49.4a0.5 0.4 0 1 0 1 0a0.5 0.4 0 1 0 -1 0zM342.9 -66.3a0.5 0.4 0 1 0 1 0a0.5 0.4 0 1 0 -1 0zM341.0 -52.0a0.3 0.24 0 1 0 0.6 0a0.3 0.24 0 1 0 -0.6 0zM305.1 19.5a0.3 0.24 0 1 0 0.6 0a0.3 0.24 0 1 0 -0.6 0zM308.6 9.7a1.2 0.96 0 1 0 2.4 0a1.2 0.96 0 1 0 -2.4 0zM303.2 7.1a1.5 1.2 0 1 0 3 0a1.5 1.2 0 1 0 -3 0zM299.0 -3.2a0.9 0.72 0 1 0 1.8 0a0.9 0.72 0 1 0 -1.8 0zM298.3 -0.0a0.8 0.64 0 1 0 1.6 0a0.8 0.64 0 1 0 -1.6 0zM312.0 -12.7a0.5 0.4 0 1 0 1 0a0.5 0.4 0 1 0 -1 0zM278.6 -3.6a1.2 0.96 0 1 0 2.4 0a1.2 0.96 0 1 0 -2.4 0zM282.4 4.2a1.1 0.88 0 1 0 2.2 0a1.1 0.88 0 1 0 -2.2 0zM285.8 8.1a0.8 0.64 0 1 0 1.6 0a0.8 0.64 0 1 0 -1.6 0zM274.5 -8.4a0.9 0.72 0 1 0 1.8 0a0.9 0.72 0 1 0 -1.8 0zM287.0 9.7a0.7 0.56 0 1 0 1.4 0a0.7 0.56 0 1 0 -1.4 0zM-445.0 -69.8a1 0.8 0 1 0 2 0a1 0.8 0 1 0 -2 0zM-441.5 -67.6a1.2 0.96 0 1 0 2.4 0a1.2 0.96 0 1 0 -2.4 0zM-449.0 -71.5a0.9 0.72 0 1 0 1.8 0a0.9 0.72 0 1 0 -1.8 0zM-442.3 -68.5a0.6 0.48 0 1 0 1.2 0a0.6 0.48 0 1 0 -1.2 0zM-435.1 -167.4a0.9 0.72 0 1 0 1.8 0a0.9 0.72 0 1 0 -1.8 0zM-427.9 -168.7a1 0.8 0 1 0 2 0a1 0.8 0 1 0 -2 0zM-422.6 -169.6a0.8 0.64 0 1 0 1.6 0a0.8 0.64 0 1 0 -1.6 0zM-417.3 -170.6a0.9 0.72 0 1 0 1.8 0a0.9 0.72 0 1 0 -1.8 0zM-411.4 -172.1a1.2 0.96 0 1 0 2.4 0a1.2 0.96 0 1 0 -2.4 0zM-405.3 -173.3a1.5 1.2 0 1 0 3 0a1.5 1.2 0 1 0 -3 0zM-400.2 -174.9a1 0.8 0 1 0 2 0a1 0.8 0 1 0 -2 0zM-438.7 -167.1a0.8 0.64 0 1 0 1.6 0a0.8 0.64 0 1 0 -1.6 0zM-442.4 -165.9a0.7 0.56 0 1 0 1.4 0a0.7 0.56 0 1 0 -1.4 0zM440.2 -166.5a0.8 0.64 0 1 0 1.6 0a0.8 0.64 0 1 0 -1.6 0zM434.9 -168.1a0.8 0.64 0 1 0 1.6 0a0.8 0.64 0 1 0 -1.6 0zM420.7 -170.9a1 0.8 0 1 0 2 0a1 0.8 0 1 0 -2 0zM428.9 -169.3a0.6 0.48 0 1 0 1.2 0a0.6 0.48 0 1 0 -1.2 0zM-385.4 -177.3a0.8 0.64 0 1 0 1.6 0a0.8 0.64 0 1 0 -1.6 0zM-382.9 -177.3a0.7 0.56 0 1 0 1.4 0a0.7 0.56 0 1 0 -1.4 0zM-401.1 -184.1a0.6 0.48 0 1 0 1.2 0a0.6 0.48 0 1 0 -1.2 0zM-401.4 -182.2a0.5 0.4 0 1 0 1 0a0.5 0.4 0 1 0 -1 0zM-395.5 -193.9a0.9 0.72 0 1 0 1.8 0a0.9 0.72 0 1 0 -1.8 0zM-90.4 175.2a1.2 0.96 0 1 0 2.4 0a1.2 0.96 0 1 0 -2.4 0zM-18.5 -223.4a0.8 0.64 0 1 0 1.6 0a0.8 0.64 0 1 0 -1.6 0zM36.3 -232.6a0.7 0.56 0 1 0 1.4 0a0.7 0.56 0 1 0 -1.4 0zM-16.7 -198.4a1 0.8 0 1 0 2 0a1 0.8 0 1 0 -2 0zM-4.0 -193.4a1 0.8 0 1 0 2 0a1 0.8 0 1 0 -2 0zM-7.8 -189.5a0.9 0.72 0 1 0 1.8 0a0.9 0.72 0 1 0 -1.8 0zM-17.0 -186.2a1.1 0.88 0 1 0 2.2 0a1.1 0.88 0 1 0 -2.2 0zM-15.8 -184.4a1 0.8 0 1 0 2 0a1 0.8 0 1 0 -2 0zM-18.0 -184.4a0.8 0.64 0 1 0 1.6 0a0.8 0.64 0 1 0 -1.6 0zM-15.0 -181.9a0.8 0.64 0 1 0 1.6 0a0.8 0.64 0 1 0 -1.6 0zM-11.6 -174.9a0.7 0.56 0 1 0 1.4 0a0.7 0.56 0 1 0 -1.4 0zM-15.4 -179.8a0.6 0.48 0 1 0 1.2 0a0.6 0.48 0 1 0 -1.2 0zM35.0 -177.7a0.7 0.56 0 1 0 1.4 0a0.7 0.56 0 1 0 -1.4 0zM44.9 -193.1a0.9 0.72 0 1 0 1.8 0a0.9 0.72 0 1 0 -1.8 0zM51.5 -189.2a0.8 0.64 0 1 0 1.6 0a0.8 0.64 0 1 0 -1.6 0zM24.3 -184.4a0.4 0.32 0 1 0 0.8 0a0.4 0.32 0 1 0 -0.8 0zM38.2 -116.6a0.6 0.48 0 1 0 1.2 0a0.6 0.48 0 1 0 -1.2 0zM3.1 -126.3a0.6 0.48 0 1 0 1.2 0a0.6 0.48 0 1 0 -1.2 0zM10.1 -129.7a0.7 0.56 0 1 0 1.4 0a0.7 0.56 0 1 0 -1.4 0zM74.5 -117.6a0.9 0.72 0 1 0 1.8 0a0.9 0.72 0 1 0 -1.8 0zM71.6 -122.5a0.6 0.48 0 1 0 1.2 0a0.6 0.48 0 1 0 -1.2 0zM68.5 -124.7a0.8 0.64 0 1 0 1.6 0a0.8 0.64 0 1 0 -1.6 0zM68.9 -127.3a0.9 0.72 0 1 0 1.8 0a0.9 0.72 0 1 0 -1.8 0zM66.1 -129.6a0.6 0.48 0 1 0 1.2 0a0.6 0.48 0 1 0 -1.2 0zM67.5 -120.5a0.6 0.48 0 1 0 1.2 0a0.6 0.48 0 1 0 -1.2 0zM66.0 -123.1a0.5 0.4 0 1 0 1 0a0.5 0.4 0 1 0 -1 0zM54.2 -124.1a0.8 0.64 0 1 0 1.6 0a0.8 0.64 0 1 0 -1.6 0zM52.0 -128.6a0.7 0.56 0 1 0 1.4 0a0.7 0.56 0 1 0 -1.4 0zM55.1 -122.8a0.5 0.4 0 1 0 1 0a0.5 0.4 0 1 0 -1 0zM72.9 -115.3a0.5 0.4 0 1 0 1 0a0.5 0.4 0 1 0 -1 0zM140.2 -84.8a0.5 0.4 0 1 0 1 0a0.5 0.4 0 1 0 -1 0zM155.1 -87.1a0.6 0.48 0 1 0 1.2 0a0.6 0.48 0 1 0 -1.2 0zM164.7 -66.3a0.7 0.56 0 1 0 1.4 0a0.7 0.56 0 1 0 -1.4 0zM118.6 -51.0a0.6 0.48 0 1 0 1.2 0a0.6 0.48 0 1 0 -1.2 0zM113.1 -51.3a0.7 0.56 0 1 0 1.4 0a0.7 0.56 0 1 0 -1.4 0zM-189.2 -181.3a0.8 0.64 0 1 0 1.6 0a0.8 0.64 0 1 0 -1.6 0zM-195.5 -171.2a0.9 0.72 0 1 0 1.8 0a0.9 0.72 0 1 0 -1.8 0zM-185.0 -191.9a0.6 0.48 0 1 0 1.2 0a0.6 0.48 0 1 0 -1.2 0zM-170.4 -202.7a0.8 0.64 0 1 0 1.6 0a0.8 0.64 0 1 0 -1.6 0zM-173.3 -201.9a0.7 0.56 0 1 0 1.4 0a0.7 0.56 0 1 0 -1.4 0zM-146.8 -196.9a0.6 0.48 0 1 0 1.2 0a0.6 0.48 0 1 0 -1.2 0zM-156.3 -153.9a0.5 0.4 0 1 0 1 0a0.5 0.4 0 1 0 -1 0zM-155.7 -142.6a0.4 0.32 0 1 0 0.8 0a0.4 0.32 0 1 0 -0.8 0zM-184.4 -134.1a0.5 0.4 0 1 0 1 0a0.5 0.4 0 1 0 -1 0zM-185.9 -134.4a0.5 0.4 0 1 0 1 0a0.5 0.4 0 1 0 -1 0zM-326.0 -110.5a0.6 0.48 0 1 0 1.2 0a0.6 0.48 0 1 0 -1.2 0zM-322.9 -108.5a0.5 0.4 0 1 0 1 0a0.5 0.4 0 1 0 -1 0zM-319.7 -91.6a0.6 0.48 0 1 0 1.2 0a0.6 0.48 0 1 0 -1.2 0zM-311.2 -94.2a0.8 0.64 0 1 0 1.6 0a0.8 0.64 0 1 0 -1.6 0zM-313.8 -95.2a0.7 0.56 0 1 0 1.4 0a0.7 0.56 0 1 0 -1.4 0zM-299.9 -69.8a0.5 0.4 0 1 0 1 0a0.5 0.4 0 1 0 -1 0zM-313.7 -61.1a0.4 0.32 0 1 0 0.8 0a0.4 0.32 0 1 0 -0.8 0zM-245.5 -66.3a0.7 0.56 0 1 0 1.4 0a0.7 0.56 0 1 0 -1.4 0zM-233.8 -70.5a1.1 0.88 0 1 0 2.2 0a1.1 0.88 0 1 0 -2.2 0zM-245.6 -53.3a0.6 0.48 0 1 0 1.2 0a0.6 0.48 0 1 0 -1.2 0zM-229.9 -62.7a0.4 0.32 0 1 0 0.8 0a0.4 0.32 0 1 0 -0.8 0zM-233.1 -40.6a0.3 0.24 0 1 0 0.6 0a0.3 0.24 0 1 0 -0.6 0zM-194.2 138.6a1.8 1.44 0 1 0 3.6 0a1.8 1.44 0 1 0 -3.6 0zM-189.0 157.7a1 0.8 0 1 0 2 0a1 0.8 0 1 0 -2 0zM-187.8 161.8a1 0.8 0 1 0 2 0a1 0.8 0 1 0 -2 0zM-184.8 165.9a1 0.8 0 1 0 2 0a1 0.8 0 1 0 -2 0zM-171.1 175.2a1.2 0.96 0 1 0 2.4 0a1.2 0.96 0 1 0 -2.4 0zM-167.6 177.3a1 0.8 0 1 0 2 0a1 0.8 0 1 0 -2 0zM-155.0 176.7a0.9 0.72 0 1 0 1.8 0a0.9 0.72 0 1 0 -1.8 0zM-220.0 109.5a0.3 0.24 0 1 0 0.6 0a0.3 0.24 0 1 0 -0.6 0zM-304.3 88.0a0.3 0.24 0 1 0 0.6 0a0.3 0.24 0 1 0 -0.6 0zM412.1 164.0a0.6 0.48 0 1 0 1.2 0a0.6 0.48 0 1 0 -1.2 0zM-457.4 142.8a0.7 0.56 0 1 0 1.4 0a0.7 0.56 0 1 0 -1.4 0zM435.7 102.3a0.2 0.16 0 1 0 0.4 0a0.2 0.16 0 1 0 -0.4 0zM464.0 94.2a0.3 0.24 0 1 0 0.6 0a0.3 0.24 0 1 0 -0.6 0zM390.2 129.9a1 0.8 0 1 0 2 0a1 0.8 0 1 0 -2 0zM380.2 129.6a0.9 0.72 0 1 0 1.8 0a0.9 0.72 0 1 0 -1.8 0zM368.6 116.3a1.4 1.12 0 1 0 2.8 0a1.4 1.12 0 1 0 -2.8 0zM387.6 45.5a1 0.8 0 1 0 2 0a1 0.8 0 1 0 -2 0zM371.5 37.7a1.3 1.04 0 1 0 2.6 0a1.3 1.04 0 1 0 -2.6 0zM394.5 53.9a0.9 0.72 0 1 0 1.8 0a0.9 0.72 0 1 0 -1.8 0zM314.6 83.5a0.5 0.4 0 1 0 1 0a0.5 0.4 0 1 0 -1 0z"/>
<clipPath id="c"><use href="#L"/></clipPath>
</defs>
<rect width="2067" height="2327" fill="#fff"/>
<g transform="translate(531.5,347.5)">
<g clip-path="url(#c)"><rect x="-456" y="-266" width="950" height="465" fill="#fdbb84"/><path fill="#fc8d59" fill-rule="evenodd" d="M-155 -242l-3 -1l1 -3l3 1zM-111 -244l-9 -1l9 -1l1 1zM-219 -100l-7 -1l-3 -13l-3 1l0 4l-3 3l-10 0l-2 -2l-6 2l-1 -3l2 -2l0 -8l-1 -1l-2 2l-2 -6l-7 -1l1 -5l6 4l2 -2l4 0l1 1l-2 2l1 3l1 -3l4 -2l0 -4l5 -3l3 -5l6 -2l0 -4l3 -3l2 2l1 -1l-2 -2l2 -2l-1 -1l-6 -2l-4 -4l-3 -1l0 -6l6 -6l-2 -2l2 -2l-4 -4l0 -4l-4 -2l0 -6l2 -4l-4 -2l-3 -7l-6 0l-2 4l-4 0l-1 -1l4 -4l-3 -1l-2 -4l-6 -2l-4 4l-4 -2l-4 2l-4 0l-2 4l-6 0l-1 3l-5 5l-6 0l-2 -10l-8 6l-10 0l-1 -1l2 -2l-5 -5l-2 2l-6 0l-1 3l-5 5l-4 0l-4 8l-10 0l-2 2l-7 -3l0 -2l-4 -4l0 -4l7 -1l2 2l4 0l2 -2l4 0l8 -10l12 0l2 -2l4 0l4 -4l2 0l4 -6l3 1l1 3l4 2l4 0l2 2l2 -2l6 0l2 2l2 -2l4 2l4 -6l10 0l2 -4l5 3l0 4l-2 4l5 1l1 -1l-2 -2l3 -3l4 2l2 -4l6 0l2 -4l6 0l12 -8l6 0l4 2l2 -10l2 2l8 0l5 3l1 3l2 -4l6 0l2 2l8 0l7 7l-4 6l1 1l4 -2l6 0l2 -6l12 -4l2 -4l4 0l2 2l6 -6l2 2l2 -2l10 -2l2 4l10 0l2 -2l4 2l4 0l1 1l-3 3l-2 -2l-3 1l1 3l5 1l0 4l-2 2l-2 10l-2 2l2 2l0 4l-7 1l-4 -2l-1 1l2 2l-1 3l-10 0l-3 3l0 2l4 4l-6 2l0 8l2 2l-2 2l0 8l-4 4l2 4l-6 6l0 2l-7 5l-6 0l-4 4l-2 -4l-6 0l-1 3l-3 1l-3 5l0 6l-9 9l-4 0l-3 3l0 6l-5 5l-4 0l-2 2l-4 -2l-4 6l-4 0l-4 2l-1 1l2 4zM-121 -242l-1 -1l1 -1l1 1zM221 -238l-3 -1l3 -1l1 1zM63 -236l-1 -1l1 -1l1 1zM137 -98l-2 0l-3 -3l4 -2l-6 -2l0 -8l-3 -3l-2 0l-4 -6l-4 0l-2 -2l-2 2l-6 0l-2 2l-4 -2l-4 4l-2 0l-4 -4l-6 0l-2 -4l-6 0l-3 3l-2 6l-3 1l-3 -7l-3 -3l-6 -2l-12 -10l-3 -1l0 -4l-7 -9l-4 2l-6 0l-4 4l-2 0l-2 4l-6 0l-4 2l-1 1l2 2l-1 1l-8 0l-3 -3l2 -2l0 -6l-2 -2l4 -2l-3 -1l-2 2l-1 -5l-3 -3l-6 0l-2 -2l-4 0l-2 -4l-6 -2l-3 -3l0 -2l1 -1l2 2l2 -4l4 0l7 -7l-2 -2l1 -1l6 0l3 -3l1 -5l4 0l4 2l8 -6l2 2l2 -4l4 0l4 -2l4 -8l2 -2l4 0l2 -6l6 0l4 -2l3 -7l3 -3l2 4l5 -5l1 -3l8 0l4 2l4 -4l4 2l4 -2l1 3l-4 4l9 9l4 -2l3 5l0 4l-2 2l0 6l-4 4l-2 6l3 1l4 4l2 -2l2 6l2 -2l10 0l2 -2l5 5l-2 4l-6 4l3 11l8 0l2 -2l6 0l2 -4l4 2l2 -4l4 4l4 -2l3 3l-2 2l1 1l4 -4l2 2l4 0l2 -2l6 2l2 -2l1 7l-2 4l3 3l2 0l4 -4l6 0l3 -3l0 -6l-2 -2l2 -4l-3 -1l-6 -6l-4 0l-6 -4l-14 0l-4 2l-2 -4l-4 0l-2 2l-4 -2l-2 2l-2 -2l-6 0l-1 5l-1 1l-3 -1l1 -7l6 0l2 -2l4 2l2 -4l4 0l2 -2l6 0l6 6l8 -10l4 0l1 3l3 1l1 -3l4 -2l0 -4l-6 -6l-1 -3l-2 0l-2 4l-4 0l-2 -2l-6 4l-4 -2l-8 6l-4 -4l-3 -1l2 -4l-1 -1l-4 4l-4 0l-1 -3l-4 -2l0 -2l7 -3l2 -4l4 0l2 -4l2 2l2 -2l4 0l2 -4l4 0l2 -2l1 5l3 1l1 -3l-2 -4l1 -1l2 2l2 -4l2 2l6 0l2 2l2 -2l2 2l2 -2l2 2l6 0l2 4l4 -4l2 4l4 0l2 2l8 -8l2 0l2 -4l2 0l4 4l8 0l6 6l2 0l5 -3l4 -4l1 -3l3 3l-2 4l7 5l4 -2l2 2l3 -3l0 -2l5 -3l2 8l4 2l6 0l2 2l4 -2l3 3l0 6l-3 5l-10 2l-6 4l-8 -4l-1 3l2 4l-5 3l-4 -4l-4 0l-2 2l-4 -2l-8 0l-1 3l-4 2l2 2l-1 3l-4 0l-2 -2l-6 0l-2 -2l-4 4l-2 -2l-4 0l-2 2l-3 -3l-1 -5l-5 3l2 2l1 9l4 0l8 -4l8 4l2 -2l2 2l6 0l2 4l2 -8l4 0l2 2l12 0l2 -2l4 2l2 -4l3 3l0 6l-6 8l4 4l-2 4l1 1l4 -4l7 7l-5 1l-2 -2l-1 5l7 7l6 0l1 1l-1 1l-4 0l-3 3l0 2l-4 2l-1 3l-8 -4l-12 0l-8 6l-6 0l-2 4l-10 0l-4 -4l-2 0l-1 3l-6 6l-2 4l0 4l-6 8l0 2l-7 7l-4 2l-2 0l-2 -4l-8 0l-3 -3l0 -4l2 -2l-2 -2l6 -8l-2 -2l0 -8l-9 -9l-4 0l-3 3l2 2l-1 1l-4 -2l-4 0l-2 -2l-5 3l6 4l-2 2l2 4l-2 2l0 4l4 8l0 8l-2 4l-3 1zM142 -221l-3 -3l-1 1l1 3zM113 -212l-4 0l-4 -4l-4 2l-1 -5l7 -3l4 4l6 0l1 1l-3 1zM-31 -196l-4 -2l-4 -6l-4 0l-2 -2l-5 -1l4 -4l-2 -2l1 -5l4 -2l4 6l4 -2l2 6l2 -2l3 1l2 4l0 6zM214 -203l6 -2l0 -6l2 -2l-1 -7l-3 1l0 2l-6 8l0 6l1 1zM256 -211l4 -2l0 -2l-3 -3l-7 3l0 2l3 3zM383 -194l-5 -1l-3 -9l-2 0l-3 3l2 2l-1 3l-2 -2l-8 0l-4 2l-4 -6l-2 2l-2 -2l-4 0l-2 -6l-4 0l-4 2l-4 4l-4 0l-8 6l-2 0l-3 -3l0 -4l2 -2l-1 -3l-4 6l-2 -4l-8 0l-2 4l-4 2l-4 0l-2 2l-1 -5l-2 -2l2 -2l1 -5l2 2l2 -2l4 0l2 2l2 -2l4 0l4 -2l4 -4l6 0l2 6l2 -4l2 2l4 -2l8 0l2 4l6 -4l2 0l2 4l4 -2l4 0l2 2l2 -4l10 0l1 3l3 1l2 4l3 -3l-3 -1l-1 -1l1 -1l4 -2l6 0l3 3l6 12zM-369 -204l-2 -2l-4 2l-4 0l-2 -2l-4 2l-7 -1l3 -5l6 0l6 -6l4 6l4 -2l1 1zM-136 -209l-3 -3l-3 1l3 3zM-363 -202l-1 -1l1 -7l3 5zM142 -209l-1 -1l-3 1l1 1zM-265 -206l-1 -1l1 -1l1 1zM283 -204l-5 -3l5 -1l1 1zM129 -204l-1 -1l1 -1l1 1zM198 -205l-1 -1l-1 1l1 1zM194 -203l-1 -1l-1 1l1 1zM-45 -198l-1 -1l1 -1l1 1zM167 -198l-1 -1l1 -1l1 1zM-9 -194l-1 -1l1 -1l1 1zM174 -195l-1 -1l-1 1l1 1zM265 -188l-3 -1l3 -1l1 1zM381 -186l-3 -3l1 -1l3 1zM230 -187l-1 -1l-1 1l1 1zM-353 -184l-1 -1l1 -1l1 1zM387 -174l-2 0l-3 -5l1 -7l4 0l3 5l0 4zM230 -155l1 -5l2 2l4 -2l6 2l3 -3l0 -4l4 -4l0 -2l-3 -1l-2 2l-1 -1l2 -4l-1 -1l-2 2l-4 0l-4 -4l-14 6l-2 -8l-6 2l-5 5l11 9l4 -2l1 7l5 5zM-142 -173l-1 -1l-1 1l1 1zM-295 -164l-2 0l-5 -5l3 -3l4 4l3 1zM389 -164l-3 -3l1 -3l3 1zM221 -166l-1 -1l1 -1l1 1zM-27 -158l-1 -1l1 -1l1 1zM265 -156l-3 -1l3 -1l1 1zM-143 -154l-1 -1l1 -1l1 1zM238 -155l-1 -1l-1 1l1 1zM-17 -152l-1 -1l1 -1l1 1zM-147 -148l-1 -1l1 -1l1 1zM307 -28l-4 0l-6 -6l-4 0l-2 -2l-4 2l-4 -4l-6 0l-1 5l-4 2l2 2l-1 1l-11 -3l0 -10l6 -4l0 -6l-4 -4l0 -2l3 -3l2 0l2 4l2 -2l10 0l4 -2l1 -3l6 -4l-6 -4l0 -6l5 -1l2 -2l4 0l1 -1l-1 -3l-8 4l-5 -3l0 -6l-3 -3l-5 1l0 6l2 2l-1 1l-6 0l-2 -2l-8 0l-8 -8l-12 0l-2 2l-6 0l-2 2l-9 -7l0 -4l2 -2l0 -6l5 -3l10 0l1 -7l5 -7l10 0l6 -8l4 0l4 -2l5 5l0 4l-2 4l3 3l2 0l4 6l3 1l-2 4l-4 2l0 4l3 3l1 -3l4 -4l-2 -4l5 -1l3 -7l-9 -7l-2 2l-1 -5l2 -4l4 -2l2 -4l0 -4l5 -1l1 -3l3 -1l2 -4l4 2l2 -2l4 0l2 4l4 2l4 0l2 2l4 0l2 -2l8 0l2 2l2 -4l4 2l12 0l1 5l-3 1l-5 5l0 2l-4 2l6 4l-3 3l-6 -4l-4 0l-4 2l-5 7l0 8l6 6l-2 2l0 12l-5 1l-5 7l2 2l0 4l-5 1l-2 2l-4 0l-2 2l-1 -3l-1 -1l-1 1l2 4l0 6l-2 4l1 1l4 -2l1 3l4 4l0 10l-8 8l0 4zM-259 -142l-1 -5l3 -1l3 3zM-301 -110l-3 -1l-1 -7l-4 -2l-4 2l-5 -3l2 -2l0 -10l4 -4l-1 -3l-5 -1l0 -2l3 -3l6 0l2 2l4 -2l4 6l6 0l4 -2l2 4l6 0l1 -5l3 -1l3 7l-4 6l0 8l3 1l1 3l-4 4l0 2l-1 1l-4 -4l-4 0l-4 4l-2 -2l-4 0zM-263 -144l-1 -1l1 -1l1 1zM-283 -142l-1 -1l1 -1l1 1zM289 -142l-1 -1l1 -1l1 1zM-222 -141l-1 -1l-1 1l1 1zM-263 -134l-7 -5l9 -1l1 3zM54 -139l-1 -1l-3 1l1 1zM172 -137l-1 -3l-3 1l3 3zM-315 -136l-1 -1l1 -1l1 1zM-298 -133l2 -2l-1 -3l-10 0l-1 1l1 3l6 0l2 2zM-269 -128l-3 -5l1 -5l3 3zM365 -110l-7 -1l1 -3l7 -1l0 -4l-2 -2l2 -4l-2 -2l3 -3l6 0l4 -4l2 0l3 3l2 6l-9 9l-6 2zM140 -125l-1 -1l-1 1l1 1zM318 -107l2 -2l0 -8l-7 -1l-6 -8l-4 2l-4 0l-3 3l3 3l7 1l0 4l2 2l-4 4l1 1l4 0l2 -2l4 2zM-261 -120l-1 -1l1 -1l1 1zM337 -118l-1 -1l1 -1l1 1zM-39 -86l-3 -1l3 -1l1 1zM-43 -82l-1 -1l1 -3l1 1zM-45 -76l-1 -1l1 -1l1 1zM151 -72l-1 -1l1 -3l1 1zM-201 -66l-4 0l-2 -2l-4 2l-1 -3l5 -5l4 0l3 5zM147 -36l-2 -2l-2 2l-2 -2l-6 2l-2 -6l-12 -4l-1 -9l-2 -4l3 -1l2 -4l4 0l4 -6l4 0l4 6l2 -2l10 0l3 -7l5 -1l1 1l0 10l-1 1l-4 -2l-1 3l2 2l-3 3l-2 0l-2 4l-3 1l4 8l0 4zM41 34l-1 -3l-4 -2l2 -4l0 -18l-3 -1l-2 2l-3 -3l3 -3l2 0l3 -5l0 -6l2 -2l-4 -8l9 -1l1 -3l6 -6l0 -2l4 -2l-2 -4l5 -1l3 -7l-3 -1l-7 7l-1 5l-4 -4l-3 -1l4 -2l-1 -1l-4 0l-5 -3l0 -4l3 -3l2 4l1 -1l0 -8l3 -3l4 0l4 -2l2 -4l4 2l4 -4l3 1l-2 2l1 1l2 0l4 -4l1 1l0 6l-2 2l2 2l-2 4l1 1l8 -6l2 2l6 0l10 -8l1 7l3 1l1 5l4 2l-1 3l-2 -2l-4 2l-4 0l-2 2l-4 -2l-6 0l-4 4l-4 0l-3 -7l-3 -1l-3 3l4 2l-5 1l-3 3l7 7l4 0l3 3l4 4l-2 2l1 1l4 -2l1 1l0 6l6 10l-2 4l2 4l-5 5l-6 -2l-2 2l-4 0l-2 4l-6 0l-6 4l-6 -2l-1 3l-4 4l0 4l2 2l-2 4l-3 3l-4 0zM-235 -30l-5 -5l2 -2l-1 -3l-4 0l-6 -6l-4 2l-4 0l-1 -1l2 -2l-6 -4l-3 -5l-3 -1l3 -3l6 2l2 -2l6 0l4 -4l4 0l3 3l2 6l4 4l0 2l-4 2l0 4l4 2l0 10zM89 -62l-1 -1l1 -1l1 1zM308 -61l-1 -1l-1 1l1 1zM130 -59l-3 -1l-1 1l1 1zM27 -42l-8 0l-4 -6l-4 4l-4 0l-1 -7l7 -1l6 -4l2 2l2 -2l2 2l4 -2l3 3l-2 4l2 4l-1 1l-2 -2zM107 -52l-1 -1l1 -3l1 1zM314 -55l-1 -1l-1 1l1 1zM-189 -48l-1 -1l1 -1l1 1zM58 -49l-1 -1l-1 1l1 1zM-171 74l-3 -3l0 -4l-4 -2l2 -2l-7 -1l-4 -4l-4 0l-3 -7l-3 -3l-8 -4l-4 0l-6 -6l-9 -1l-2 -2l0 -6l-3 -3l-2 0l-1 -5l-4 -2l0 -4l2 -2l-2 -2l0 -4l-4 -2l0 -2l6 -8l-2 -2l5 -3l2 2l1 -5l5 -1l2 -6l8 6l2 -2l2 4l2 -2l6 0l4 -4l3 -1l0 -4l-2 -2l6 -6l2 -4l-2 -2l0 -4l-4 -4l1 -1l4 0l3 3l-2 2l3 3l4 2l4 -2l3 3l0 4l-2 2l4 6l0 4l-2 2l1 5l2 0l4 -4l9 5l1 5l4 0l2 -2l6 0l5 7l-2 2l3 3l4 2l4 -2l4 0l2 2l6 0l4 6l4 2l1 -1l-2 -2l1 -3l8 4l3 3l-3 1l-1 3l-4 4l4 2l0 8l-6 12l4 4l-1 5l-6 0l-2 -4l-4 0l-4 -4l-4 2l-3 -1l5 -5l7 -3l-12 -10l0 -4l-6 -6l-1 -3l-10 0l-2 2l-4 -2l-3 3l0 6l1 1l4 -2l1 3l-3 3l-4 0l-3 3l2 6l-4 2l6 8l-2 4l2 2l0 6l-2 2l2 2l0 4l-3 3l-4 0l-2 -2zM119 -44l-1 -1l1 -1l1 1zM35 -42l-1 -1l1 -1l1 1zM-181 -40l-3 -1l3 -1l1 1zM-207 -22l-2 0l-3 -3l0 -2l5 -1l2 -6l6 0l2 2l2 -2l3 1l-7 9l-2 0l-2 -4zM317 -32l-1 -1l1 -1l1 1zM-231 -24l-3 -1l1 -5l5 1l0 2zM-176 -25l-1 -1l-1 1l1 1zM-169 -24l-1 -1l1 -1l1 1zM-213 -18l-3 -1l1 -5l3 1zM80 -19l2 -2l-1 -1l-3 1l0 2l1 1zM333 18l-6 -2l-3 -3l2 -4l4 -2l-1 -1l-4 2l-1 -1l-2 -6l-4 -4l1 -3l4 0l2 2l2 -2l6 0l2 -2l1 7l1 1l2 -2l3 3l-2 6l-4 4l0 4zM336 7l-1 -3l-1 3l1 1zM107 16l-3 -5l1 -3l6 -2l5 3l0 2l-3 3l-4 0zM46 21l-1 -1l-3 1l1 1zM111 38l-1 -3l2 -2l-2 -2l0 -6l1 -1l4 2l2 -2l2 2l4 -2l1 5l-7 5l-2 -2zM35 40l-3 -1l2 -2l0 -4l3 -1l3 5zM45 34l-1 -1l1 -1l1 1zM115 56l-4 0l-3 -3l0 -2l4 -4l-2 -4l3 -3l5 7l-2 2zM121 44l-1 -1l1 -1l1 1zM139 48l-1 -1l1 -3l1 1zM143 50l-1 -3l3 -1l1 1zM-123 52l-1 -1l1 -1l1 1zM-115 60l-3 -1l1 -3l3 3zM117 58l-1 -1l1 -1l1 1zM-172 59l-1 -1l-3 1l1 1zM-119 66l-1 -1l1 -3l1 1zM-121 68l-1 -1l1 -1l1 1zM-193 104l-1 -1l1 -5l1 1zM-185 118l-2 0l-5 -5l0 -4l4 -2l1 -5l2 0l3 5l-2 2zM467 128l-2 -2l-4 2l-3 -3l0 -2l7 -5l2 2l4 -4l2 0l1 1l-2 4l2 2l-3 1zM-189 128l-3 -3l3 -5l1 1zM-183 124l-1 -1l1 -1l1 1zM481 126l-1 -1l1 -3l1 1zM-185 126l-1 -1l1 -1l1 1zM-183 136l-3 -1l0 -4l3 -3l1 1zM457 132l-1 -1l1 -1l1 1zM455 138l-1 -1l1 -3l1 1zM-185 140l-3 -1l3 -1l1 1zM447 150l-4 -2l-4 0l-2 -2l-2 0l-2 4l-5 -1l5 -5l6 0l4 -4l4 2l4 -4l3 3l-3 1l-2 4l-2 -2l-1 1l2 2zM-189 146l-1 -1l1 -1l1 1zM-185 160l-5 -1l0 -4l3 -5l3 3zM431 156l-3 -3l1 -1l3 1zM-183 166l-1 -1l1 -1l1 1z"/><path fill="#e34a33" fill-rule="evenodd" d="M25 -152l-3 -5l1 -3l6 0l2 -2l4 4l5 1l-1 3l-4 0l-2 -2zM55 -150l-3 -3l0 -4l7 -1l3 3zM65 -146l-2 0l-3 -3l1 -3l5 1zM-207 -146l-3 -1l3 -1l1 1zM-195 -120l-2 0l-3 -3l2 -2l-1 -3l-4 2l-2 -2l-2 4l-1 -1l0 -4l4 -4l-4 -2l0 -6l3 -1l2 6l5 -5l-2 -4l1 -3l2 0l4 4l4 -2l2 2l6 -2l1 9l-9 7l-7 1l0 4l2 2zM73 -140l-3 -5l1 -1l3 1zM183 -108l-6 0l-3 -5l-4 -2l4 -8l3 -3l4 4l3 -3l0 -2l-6 -8l3 -3l2 0l4 -6l4 0l2 2l2 -2l6 0l1 5l-6 6l0 2l-4 2l2 2l0 6l-5 5l-5 1l2 4zM131 -136l-1 -1l1 -3l1 1zM137 -110l-3 -3l0 -4l-6 -4l0 -2l-5 -5l-4 0l-3 -3l1 -5l4 -2l4 0l3 7l1 1l2 -2l3 3l0 4l2 2l-2 2l4 2l0 4l2 2zM273 -86l-8 0l-6 -6l-4 -2l-12 0l-6 4l-6 0l-5 -5l0 -6l5 -7l10 0l3 -3l3 -9l6 2l8 -4l1 -5l3 -3l2 0l1 7l4 4l0 2l8 6l-4 6l0 14zM-283 -118l-2 0l-3 -3l0 -4l3 -3l3 3zM373 -120l-3 -1l0 -2l5 -1l2 -2l1 3zM-247 -54l-3 -1l0 -2l3 -3l1 1zM-189 54l-3 -3l0 -2l-11 -9l-4 2l-3 -3l1 -3l3 -1l-5 -5l-4 2l-4 0l-1 -9l-1 -1l-4 2l-5 -5l0 -6l-2 -2l0 -10l6 -2l1 -7l6 2l4 4l6 0l2 -2l8 0l1 3l-8 8l3 1l6 -4l1 5l-2 2l3 1l3 -3l-2 -4l3 -1l5 5l0 2l-3 3l-2 -2l-1 1l3 3l10 2l5 5l1 3l3 -1l3 -9l2 2l5 1l2 4l-4 4l0 2l-7 5l-4 0l-2 4l-4 0l-3 3l0 10l-5 1zM-191 2l-5 -5l3 -3l4 0l3 3l-1 3l-2 -2zM-151 2l-1 -1l1 -5l1 1zM-187 4l-3 -1l3 -1l1 1zM-228 5l-1 -1l-1 1l1 1zM-143 12l-4 0l-2 -2l-4 0l-2 2l-3 -5l5 -3l4 0l7 7zM-185 14l-1 -1l1 -1l1 1zM-212 27l-1 -1l-5 1l1 1zM-211 36l-3 -1l3 -1l1 1zM-173 44l-1 -1l1 -3l1 1zM-171 48l-1 -1l1 -1l1 1zM-179 58l-1 -5l3 -3l3 3z"/><path fill="#b30000" fill-rule="evenodd" d="M269 -88l-2 -2l-4 0l-2 -4l-4 0l-2 -2l-14 0l-6 4l-4 0l-3 -3l0 -6l7 -5l6 0l5 -5l1 -3l6 0l2 -2l4 0l8 -4l4 6l5 3l-2 4l0 16zM-221 20l-3 -3l1 -1l3 1z"/><path fill="#7a0177" fill-rule="evenodd" d="M269 -92l-5 -5l-1 -7l-2 2l-4 -2l-4 6l-2 0l-3 -3l0 -2l1 -1l2 2l2 -4l4 0l6 -6l2 2l6 0l1 1l0 10l-2 2l2 2zM241 -98l-3 -1l2 -4l5 -1l1 1zM261 -96l-3 -1l1 -3l3 3z"/><path fill="#ffff33" fill-rule="evenodd" d="M-123 -246l-2 -2l-7 -1l3 -5l4 0l5 5zM-111 -248l-1 -1l1 -3l1 1zM-159 -232l-8 0l-2 -2l-4 0l-5 -5l7 -1l4 2l2 -2l8 0l1 5zM111 -222l-2 0l-3 -3l2 -2l-2 -4l3 -1l4 -6l10 0l2 -2l2 2l5 1l-3 3l-4 -2l-2 2l-6 0zM-171 -224l-7 -1l2 -4l-2 -4l1 -1l2 0l3 3l0 2l4 2zM-327 -196l-4 -4l-3 -1l1 -5l6 0l3 3l-2 2zM313 -182l-2 0l-4 -6l-4 2l-4 0l-2 -4l-4 2l-1 -1l2 -4l0 -4l4 -2l3 -7l4 0l1 3l6 4l4 4l1 3l2 0l3 3zM-293 -188l-3 -1l0 -6l3 -3l2 0l3 3l0 2l-3 1zM211 -192l-1 -1l1 -1l1 1zM-309 -170l-1 -1l1 -3l1 1zM311 -168l-4 0l-1 -3l5 -1l1 1zM287 -168l-1 -1l1 -1l1 1zM-303 -152l-1 -1l1 -1l1 1zM-295 -144l-4 0l-3 -5l5 -3l1 5l2 2zM-271 -150l-1 -1l1 -1l1 1zM241 -62l-3 -1l2 -2l-1 -1l-2 0l-8 -6l-2 4l-6 0l-2 -2l-4 2l-1 -3l-6 -6l0 -2l-6 -6l2 -2l-1 -3l-8 4l-9 -7l0 -4l-2 -2l8 -8l0 -6l6 -4l2 -4l0 -6l7 -7l6 4l2 -2l8 0l2 -2l4 2l4 0l4 -6l4 -2l6 0l5 3l0 4l4 4l-1 3l-2 -2l-4 2l-4 0l-3 3l-5 11l-8 0l-4 2l-1 7l-2 2l0 6l3 3l4 0l2 4l8 0l2 -2l4 2l10 0l8 6l4 0l4 2l1 5l-9 1l-2 -6l-2 2l-6 -2l-1 5l-4 2l0 6l-5 1zM-299 -134l-8 0l-1 -3l5 -1l2 2l2 -2l1 1zM163 -106l-2 0l-3 -3l0 -2l3 -3l1 5l2 2zM147 -94l-2 0l-3 -3l0 -2l1 -1l2 2l1 -5l3 -3l4 -2l4 0l1 3l-3 3l-4 0l-3 3zM11 -100l-3 -1l0 -2l3 -3l1 1zM-7 -86l-1 -5l-4 -2l5 -5l2 0l1 9zM123 -92l-1 -1l1 -1l1 1zM169 -92l-3 -1l3 -1l1 1zM-21 -76l-1 -1l1 -1l1 1zM53 -74l-3 -1l3 -1l1 1zM273 -68l-1 -1l1 -3l1 1zM209 -68l-1 -1l1 -1l1 1zM41 -62l-3 -1l1 -3l3 3zM-23 -50l-1 -7l3 -1l3 5zM39 -56l-1 -1l1 -1l1 1zM43 -54l-1 -1l1 -1l1 1zM111 -26l-5 -1l2 -2l-2 -2l3 -3l3 1zM29 -22l-3 -1l1 -3l3 3zM-27 -18l-5 -1l5 -1l1 1zM285 -6l-4 0l-3 -5l3 -1l4 2l1 1zM425 32l-6 0l-4 -4l-2 0l-1 -3l-9 -11l-6 0l-4 4l-2 0l-5 -5l0 -4l-3 -1l-3 -3l0 -2l3 -3l4 0l8 6l4 0l2 2l6 0l5 5l0 2l4 2l0 2l4 4l1 3l4 0l2 -2l3 3zM349 12l-1 -5l-2 -2l1 -3l3 3zM-199 58l-2 -2l-4 0l-5 -5l0 -4l3 -3l13 9zM403 102l-2 -2l-6 0l-8 -4l-4 -6l-8 6l-2 0l-2 -4l-4 2l-2 -2l-4 0l-2 -4l-4 2l-1 3l-5 3l-4 -4l-16 0l-2 2l-4 0l-5 -9l2 -4l6 -6l0 -2l5 -5l12 4l4 -6l6 -2l3 -3l1 -5l6 0l2 -2l8 0l2 -2l4 2l2 4l6 2l1 3l4 4l0 4l2 2l0 4l-2 2l5 5l3 1l0 8l6 2l-2 2l2 2zM73 72l-4 0l-3 -3l0 -6l-2 -2l1 -3l7 3l0 6l2 2zM53 68l-3 -1l-2 -4l1 -1l6 0l3 3zM-187 92l-2 0l-1 -1l2 -2l-4 -2l0 -4l2 -2l-2 -4l2 -4l3 -1l4 -4l7 9l0 2l-2 2l0 6l-5 1zM69 110l-2 -2l-10 0l-3 -5l2 -4l3 -1l4 -4l6 -2l3 -3l0 -2l4 -2l1 -3l2 0l4 -4l4 0l1 3l-2 4l2 4l-2 2l0 6l-2 4l-3 3zM-147 106l-2 0l-3 -5l3 -1l1 -3l4 -4l-2 -4l5 -5l4 0l3 3l0 2l-4 4l0 2l-6 4l2 2zM-161 96l-3 -1l2 -2l-2 -4l1 -3l3 3zM-141 104l-1 -1l1 -1l1 1zM-161 178l-6 -4l-6 0l-4 -2l-1 -5l1 -1l10 6l4 0l2 -2l1 1z"/><path fill="#2f86bd" fill-rule="evenodd" d="M-161 -232l-6 0l-9 -7l5 -1l2 2l8 0l2 -2l1 5zM193 -110l-1 -1l1 -1l1 1zM241 -78l-1 -3l-5 -3l-6 0l-2 -2l-4 2l-4 -4l-8 -4l-6 -6l-2 0l-2 -4l-6 -2l-1 -5l3 -3l2 0l1 5l3 3l4 0l4 2l6 6l10 4l4 4l8 0l2 -2l2 2l10 0l3 3l-7 1zM397 12l-3 -3l1 -1l5 1zM-135 88l-1 -1l1 -1l1 1zM83 98l-1 -1l1 -1l1 1zM77 104l-5 -1l2 -4l3 -1l2 2l2 -2l1 3z"/></g>
<use href="#L" fill="none" stroke="#000" stroke-width="1.25" stroke-linejoin="round"/>
<use href="#G" fill="#fff" stroke="#000" stroke-width="1.25" stroke-linejoin="round"/>
<use href="#D" fill="#000"/>
</g>
<g transform="translate(1535.6,347.5)">
<g clip-path="url(#c)"><rect x="-456" y="-266" width="950" height="465" fill="#fc8d59"/><path fill="#e34a33" fill-rule="evenodd" d="M179 -242l-1 -1l1 -3l1 1zM235 -180l-2 -4l-4 2l-8 0l-4 -2l-6 4l-10 0l-4 -4l-6 0l-8 -6l-6 0l-2 -4l-4 0l-4 -4l-14 0l-2 -2l-4 4l-3 1l0 4l-3 3l-2 0l-4 -4l-5 5l2 2l-1 1l-4 0l-2 -2l-10 2l-2 -4l-4 -2l-4 0l-10 -6l-4 0l-4 -4l-2 2l-8 0l-2 2l-4 -6l-6 0l-2 -2l-2 4l-2 -2l-6 0l-1 -1l2 -2l-1 -1l-6 0l-1 1l2 2l-1 1l-4 0l-4 4l-2 0l-1 3l2 2l-3 3l-8 0l-2 -2l-6 0l-1 -1l2 -2l-5 -5l-3 -1l3 -3l14 0l11 -13l-2 -2l1 -1l12 0l1 -3l-2 -2l3 -3l2 0l2 4l2 -2l4 0l4 2l4 4l3 1l-2 2l3 3l4 -2l6 4l14 0l3 -3l0 -2l3 -1l1 3l4 4l0 2l5 1l8 -4l10 0l2 -2l6 0l2 -2l4 0l4 -4l6 -2l4 -4l2 2l6 0l1 -3l-3 -3l-2 0l-3 -5l3 -1l4 -4l6 0l4 2l2 4l4 2l4 0l2 2l10 0l3 -3l0 -4l3 -3l6 0l1 3l5 5l4 0l2 -6l12 -4l2 2l8 0l2 2l7 1l-2 2l0 6l-5 1l-1 1l2 2l-3 3l-4 0l-9 5l0 2l3 3l6 -2l3 3l0 2l-3 3l-5 1l0 4l6 2l-4 6l0 2l4 4l0 4l-7 1zM161 -238l-3 -1l3 -1l1 1zM61 -228l-3 -1l3 -1l1 1zM-187 -210l-6 0l-1 -3l3 -3l2 0l3 5zM144 -211l-1 -1l-3 1l1 1zM-211 -198l-10 0l-1 -3l3 -3l2 0l2 -4l6 0l2 -2l4 0l3 5l-3 3l-6 0zM44 -205l-1 -1l-3 1l1 1zM184 -199l-1 -1l-1 1l1 1zM-205 -164l-14 0l-9 -7l1 -1l4 2l5 -1l-6 -6l-1 -3l-9 -3l2 -2l0 -6l-2 -2l1 -3l10 -2l5 5l0 6l8 6l1 3l3 1l1 5l5 1l-6 4l2 2zM178 -197l-1 -1l-3 1l1 1zM147 -192l-1 -1l1 -1l1 1zM204 -189l-1 -1l-1 1l1 1zM375 -188l-7 -1l7 -1l1 1zM-209 -184l-1 -1l1 -1l1 1zM191 -180l-1 -1l1 -1l1 1zM233 -178l-1 -1l1 -1l1 1zM197 -176l-1 -1l1 -1l1 1zM377 -172l-3 -1l3 -1l1 1zM-169 -132l-3 -1l0 -4l-4 -4l8 -4l-4 -2l4 -4l1 -3l6 0l6 6l5 1l0 6l2 2l-1 1l-6 -2l-4 4l-4 2l-4 0zM21 -140l-4 0l-5 -3l5 -3l8 0l6 -6l2 0l5 5l-5 3l-10 0zM-160 -147l-1 -3l-3 1l1 3zM339 -136l-4 0l-3 -3l7 -1l1 1zM341 -122l-16 0l-1 -3l3 -3l4 0l8 -4l1 3l4 4zM345 -130l-3 -1l3 -1l1 1zM221 -92l-2 0l-6 -6l-4 0l-8 -6l-2 0l-8 -10l-10 2l-1 -1l1 -3l4 0l2 -2l4 2l1 -3l-5 -3l-4 0l-3 -3l0 -2l5 -1l6 4l4 0l1 5l6 8l3 3l6 0l1 3l3 1l6 6l4 2l1 -1l0 -2l-4 -4l1 -1l4 2l6 0l3 3l-1 5l-12 0zM363 -116l-7 -1l0 -4l2 -2l-4 -4l1 -1l4 0l2 2l2 -2l3 1l-2 4l4 4zM-317 -120l-5 -5l1 -1l2 0l3 3zM121 -108l-6 0l-3 -5l0 -6l5 -5l3 3l0 2l-3 1l-1 3l1 1l4 -2l3 1l0 2l-4 2l2 2zM131 -122l-1 -1l1 -1l1 1zM251 -118l-1 -1l1 -1l1 1zM173 -116l-1 -1l1 -1l1 1zM261 -96l-4 0l-2 -4l-3 1l2 2l-1 1l-4 0l-3 -3l0 -2l-3 -1l-5 -5l2 -2l-3 -1l-3 -5l5 -3l4 2l4 0l2 -2l4 4l2 -2l4 2l4 -4l2 2l4 0l3 5l0 4l3 1l1 3l-5 1zM329 -72l-4 0l-2 -2l-10 0l-7 -9l2 -2l-6 -4l0 -4l2 -4l-6 -2l5 -5l4 0l3 -3l0 -2l-6 -4l1 -1l6 0l2 -2l4 0l4 4l8 0l1 1l-2 2l1 1l6 0l1 3l4 2l2 4l-2 6l6 8l-7 1l-1 7l-5 1zM351 -114l-1 -1l1 -1l1 1zM133 -106l-2 -2l-2 2l-7 -1l5 -5l2 0l2 2l5 1zM293 -104l-1 -1l1 -3l1 1zM289 -104l-3 -1l3 -1l1 1zM263 -94l-1 -1l1 -1l1 1zM285 -92l-1 -1l1 -1l1 1zM289 -90l-3 -1l3 -1l1 1zM201 -84l-5 -1l1 -5l10 0l1 1l-3 1zM211 -72l-9 -3l1 -1l10 0l1 1zM123 -70l-5 -1l5 -3l1 1zM69 6l-7 -1l0 -6l-2 -2l-1 -5l-6 0l-2 2l-6 0l-2 2l-6 -8l-5 -1l4 -4l-1 -3l-4 0l-4 4l-8 -4l-2 0l-4 4l-4 0l-3 -3l0 -2l-3 -1l-1 1l2 4l-1 5l-6 0l-6 -4l-10 0l-2 2l-6 0l-1 -1l1 -1l4 0l1 -3l6 -4l-7 -1l-1 -3l-3 -1l-4 -4l-7 -1l6 -6l-2 -4l5 -1l2 2l4 0l2 -2l20 0l6 -4l4 0l2 2l14 0l4 -4l6 0l2 2l12 0l2 2l4 -4l2 4l4 0l2 -2l14 0l2 2l10 0l8 4l4 -4l3 -1l1 -5l4 0l2 2l4 -2l12 0l1 -3l-4 -4l2 -4l-2 -4l3 -3l4 0l2 -2l10 0l2 2l2 -2l10 0l1 1l-6 4l1 3l10 -2l4 -4l5 1l-4 4l-2 6l-3 3l-2 0l-4 6l-8 4l-4 0l-12 12l-6 2l-1 -5l-3 -1l-4 6l-5 1l5 1l2 2l4 0l2 2l6 0l2 2l5 1l-5 5l-4 0l-3 3l0 6l-4 2l0 4l4 2l0 2l-3 3l-6 0l-2 -2l-8 0l-4 2l-2 -2l-4 0l-1 -1l2 -2l-1 -1l-16 0l-4 4l-6 0zM331 -70l-1 -1l1 -1l1 1zM-227 -34l-10 0l-2 -2l-4 0l-5 -5l-1 -3l-2 2l-1 -7l2 -2l-3 -1l-4 2l-3 -5l-4 -2l2 -2l0 -6l3 -3l8 0l2 2l10 0l1 3l-2 4l2 2l0 4l-8 2l3 1l6 8l10 4l1 1zM239 -32l-12 0l-1 -1l5 -1l1 -3l-3 -3l-4 0l-3 -3l2 -2l-2 -2l6 -2l-2 -6l-4 -2l0 -2l3 -3l8 4l4 -2l4 0l3 3l-6 4l5 1l1 1l-2 2l4 2l-2 2l3 3l5 1l-3 5l-4 0l-2 -2zM251 -44l-3 -3l1 -1l3 1zM90 -41l-1 -1l-5 1l1 1zM221 -36l-1 -1l1 -3l1 1zM-207 2l-4 -4l-4 4l-2 0l-4 -4l-6 0l-1 -5l4 -2l-2 -4l1 -3l2 2l7 -1l-6 -6l2 -4l-2 -2l1 -1l10 0l6 -8l4 0l1 1l-2 2l3 3l9 1l-5 1l-1 3l-4 2l-2 4l4 8l-4 4l2 4l-3 1zM225 -34l-1 -1l1 -1l1 1zM-141 98l-5 -1l0 -6l-4 -2l2 -2l-1 -3l-4 0l-4 4l-2 0l-12 -10l-4 0l-4 -2l-1 -3l-3 -1l-5 -5l0 -6l-3 -3l-2 0l-4 4l-7 -1l6 -6l0 -2l-2 -2l0 -10l-4 -4l2 -4l0 -4l-4 -2l0 -2l5 -3l4 0l4 4l2 0l1 -5l2 -2l-4 -8l0 -2l4 -2l-7 -3l-3 -3l0 -2l1 -1l10 0l1 -9l3 -3l4 0l1 -7l3 -1l6 -6l6 0l4 2l5 5l-2 4l3 5l4 2l6 0l4 6l6 2l4 4l7 1l-9 7l-20 0l-2 2l-6 0l-4 4l-4 0l-5 7l0 6l3 5l6 0l4 2l4 -4l5 1l0 4l2 2l-3 1l-1 3l4 4l-5 1l-1 3l13 5l3 3l1 5l14 2l1 -3l5 -5l5 3l-12 10l4 4l-1 1l-6 0l-11 7l2 6l4 2l0 4l-7 1zM116 -17l-2 -2l2 -2l-3 -1l-2 -4l-2 0l-3 3l4 4l1 3zM104 -17l-1 -1l-1 1l1 1zM-225 4l-9 -3l7 -1l3 3zM-119 12l-3 -3l3 -3l2 0l1 1zM-111 18l-5 -1l5 -1l1 1zM-123 20l-1 -1l1 -1l1 1zM-125 22l-1 -1l1 -1l1 1zM-164 39l-1 -1l-3 1l1 1zM-160 57l0 -2l-5 -1l-2 -4l-5 -1l0 -4l3 -1l1 -1l-1 -1l-6 0l-3 3l4 2l-2 2l3 1l2 4l2 0l4 4zM-141 44l-5 -1l5 -1l1 1zM-147 50l-1 -1l1 -1l1 1zM-145 52l-1 -1l1 -1l1 1zM-113 70l-1 -1l1 -3l1 1zM401 94l-2 -2l-10 -2l-5 -5l0 -2l5 -3l2 2l3 -3l1 -7l8 0l1 -1l-1 -1l-3 -1l3 -3l6 0l3 3l0 4l-2 2l3 3l2 0l1 3l-7 3l-1 3zM-113 74l-5 -1l5 -1l1 1zM-183 78l-1 -1l1 -1l1 1zM97 86l-7 -1l3 -7l1 5l3 1l1 1zM415 86l-1 -1l1 -1l1 1zM-140 87l-1 -1l-3 1l1 1zM421 104l-3 -1l0 -10l3 -3l8 0l1 1l-2 4l-6 6zM-119 94l-1 -1l1 -1l1 1zM-191 114l-5 -1l0 -2l4 -4l0 -4l-2 -2l1 -3l3 1l0 14zM-135 102l-3 -1l1 -3l3 1z"/><path fill="#b30000" fill-rule="evenodd" d="M223 -94l-4 0l-6 -6l-6 0l-4 -4l-2 0l-5 -5l0 -4l-4 -4l2 -2l-4 -2l0 -2l1 -1l5 1l2 10l4 4l1 3l8 0l8 8l2 0l3 3zM261 -96l-4 0l-2 -4l-2 0l-1 3l-3 1l-3 -3l0 -2l-6 -4l0 -4l-4 -6l1 -1l10 0l2 -2l4 4l2 -2l4 2l4 -4l2 2l4 0l3 5l0 4l3 1l1 3l-5 1zM325 -80l-6 -2l-11 -9l9 -1l3 -3l-2 -2l2 -2l0 -4l-2 -2l1 -3l3 1l1 5l6 0l2 2l4 0l3 3l-4 4l0 4l2 2l-2 4l-7 1zM233 -94l-7 -1l0 -4l-2 -2l1 -3l2 2l6 0l3 3l0 2zM-241 -36l-2 0l-3 -3l0 -2l3 -3l2 0l3 3l0 2zM69 -12l-12 0l-4 -2l-1 -3l3 -3l2 0l4 4l8 0l2 -2l7 1l-1 3l-4 -2zM-147 0l-4 -2l-4 2l-8 0l-3 -5l2 -2l-2 -6l5 -1l2 -2l2 4l6 2l5 5l-2 2l2 2zM-217 -6l-3 -1l3 -5l7 1zM-177 6l-2 -2l-8 0l-1 -3l9 -1l3 3zM-187 58l-6 -2l-3 -3l2 -2l-4 -6l1 -1l2 0l5 5l1 3l5 3zM-175 72l-4 0l-5 -7l2 -4l5 -3l5 1l-2 2l0 10zM-191 112l-3 -1l2 -2l0 -6l-2 -2l1 -3l3 3l0 10z"/><path fill="#7a0177" fill-rule="evenodd" d="M261 -96l-2 0l-9 -9l0 -4l-4 -4l1 -3l4 2l6 0l2 2l4 -4l7 5l0 4l4 2l-7 3zM233 -94l-5 -1l1 -7l2 0l5 5zM-191 112l-1 -1l1 -1l1 1z"/><path fill="#fdbb84" fill-rule="evenodd" d="M-181 -262l-1 -1l1 -1l1 1zM-175 -236l-2 -2l-4 2l-7 -7l4 -2l-8 -6l4 -2l1 -3l20 0l10 8l4 2l6 0l3 3l-1 3l-6 0l-2 2l-8 0l-5 -3l2 -2l-1 -3l-4 0zM-129 -248l-5 -1l5 -1l1 1zM-127 -244l-3 -1l3 -1l1 1zM-158 -241l4 -2l-1 -1l-7 1l3 3zM-291 -60l-7 -3l0 -6l-2 -2l2 -6l-1 -1l-10 0l-1 -1l3 -1l1 -3l-8 -6l4 -2l0 -6l-4 -2l0 -4l2 -2l-2 -4l2 -2l-2 -2l4 -8l-4 -6l3 -3l10 0l2 -4l4 0l5 -3l-5 -1l-5 -5l-1 -3l-9 -1l5 -1l3 -3l-1 -1l-6 0l-2 2l-3 -3l0 -2l4 -4l1 -3l6 -2l4 -4l4 0l3 -3l-8 -6l4 -2l-1 -1l-7 -1l4 -2l0 -2l-3 -1l-1 -3l-4 -4l2 -4l-7 -3l-5 -5l0 -4l3 -3l4 2l4 0l4 -2l1 1l-2 2l1 1l2 -2l6 0l4 4l4 0l3 3l0 6l4 2l-2 4l1 1l4 2l4 0l4 4l4 -2l1 5l5 3l10 0l8 10l6 2l4 4l4 0l1 1l-2 2l2 2l-2 2l0 4l3 1l5 5l-3 3l-4 0l-6 4l-2 -2l-5 1l2 4l0 4l6 2l-3 3l-6 0l-3 3l4 4l-1 3l-6 0l-2 2l-4 0l-4 4l-8 0l-2 2l-6 0l-2 2l-5 1l-2 4l2 4l0 4l-8 6l10 8l-4 2l-1 5l-9 1l6 4zM-319 -194l-4 -4l-6 -2l-1 -3l5 -1l4 2l3 5zM321 -190l-5 -1l5 -3l1 1zM329 -178l-10 -2l-3 -5l3 -3l4 0l6 4l7 1zM161 -174l-10 0l-1 -1l0 -2l6 -4l-3 -3l-2 0l-1 -1l1 -1l10 0l1 1l0 4l2 4zM49 -182l-1 -1l1 -1l1 1zM97 -182l-1 -1l1 -1l1 1zM-311 -180l-1 -1l1 -1l1 1zM65 -158l-8 0l-5 -3l-1 -3l-4 0l-2 -4l-6 0l-1 -1l2 -4l4 -2l-2 -4l5 -1l4 2l2 -2l4 0l2 4l8 0l4 -2l2 2l20 0l2 2l9 1l-5 1l-4 4l-6 0l-4 4l-4 0l-2 2l-4 -4l-2 2l-6 0zM-311 -174l-1 -1l1 -3l1 1zM-309 -168l-1 -1l1 -5l3 3zM137 -168l-6 0l-1 -5l5 -1l3 3zM147 -170l-5 -1l5 -3l1 1zM323 -156l-6 0l-4 -4l-7 -1l0 -2l5 -3l4 2l3 -1l-6 -6l1 -3l4 2l2 4l4 0l3 3l2 6zM267 -88l-4 0l-8 -4l-16 0l-3 -3l0 -4l-3 -3l-6 0l-4 -2l-1 1l4 4l-1 3l-4 -2l-6 -6l-2 0l-2 -4l-4 -2l-2 2l-5 -5l0 -4l-2 -2l2 -4l0 -4l-4 -2l1 -3l8 0l2 -4l4 2l6 0l8 -6l4 0l3 -3l-5 -1l-2 2l-12 0l-2 2l-7 -3l4 -4l-2 -4l4 -2l-1 -3l-5 -1l2 -2l-2 -4l6 -4l-4 -4l1 -1l8 0l6 6l22 0l11 9l-4 4l1 1l6 0l8 6l4 0l4 -2l1 3l-4 6l5 5l4 0l2 4l6 2l2 4l4 0l5 5l-5 3l-2 -2l-6 0l-3 3l0 4l2 2l0 10l2 2l-5 3l-10 2zM227 -170l-3 -1l3 -1l1 1zM-305 -166l-1 -1l1 -3l1 1zM11 -148l-4 0l-1 -1l2 -2l-1 -1l-6 0l-1 -3l2 -2l-4 -2l5 -5l2 2l2 -2l8 0l4 -4l6 -2l1 3l-2 2l4 2l-2 2l4 6l-5 3l-8 0l-2 -2l-4 0l-1 1l2 4zM86 -169l-1 -1l-3 1l1 1zM147 -166l-1 -1l1 -1l1 1zM218 -163l-1 -1l-3 1l1 1zM323 -152l-3 -1l3 -1l1 1zM351 -150l-1 -1l1 -1l1 1zM-15 -118l-6 0l-3 -7l-3 -3l-2 0l-1 -3l5 -3l12 0l4 4l4 0l1 1l-3 3l-6 0l-3 3l2 4zM155 -108l-2 -2l-6 0l-3 -9l3 -1l4 -4l4 0l2 -4l3 3l0 8l2 2zM264 -95l0 -2l3 -3l9 -3l0 -2l-4 -2l0 -4l-3 -5l-4 0l-2 -2l-4 4l-4 -2l-2 2l-3 -3l2 -2l-1 -1l-4 4l-4 0l-4 -2l-5 3l2 4l4 2l-2 2l5 5l2 0l4 6l4 0l1 -1l-2 -2l3 -1l2 4l4 0l2 2zM-7 -74l-8 0l-2 -2l-4 2l-4 0l-7 -7l2 -6l-2 -4l-4 -2l0 -6l3 -5l8 0l2 -2l5 -1l-1 -3l-6 0l-1 -1l1 -1l6 0l2 -2l8 0l4 2l2 -4l14 -2l3 3l-4 4l0 4l-6 4l13 7l4 0l1 3l-3 3l-8 4l-4 0l-2 8l-4 -2l-2 4l-4 0zM-4 -107l-1 -1l-1 1l1 1zM75 -62l-5 -1l2 -4l-1 -3l-6 0l-4 -4l-6 0l-2 -4l-6 0l-2 2l-4 0l-1 -5l-6 -2l0 -2l4 -4l1 -3l6 0l7 -7l-2 -2l1 -3l6 0l2 2l4 0l3 3l-2 4l1 1l4 0l2 2l2 -2l4 2l10 0l4 4l3 1l-4 4l2 6l-6 4l3 3l6 2l1 3l-3 1l-4 -4l-6 0l-2 4l-4 0zM53 -72l-1 -1l1 -1l1 1zM93 -70l-1 -1l1 -1l1 1zM49 -66l-4 0l-1 -3l3 -1l3 3zM-191 -8l-3 -1l2 -4l-4 -4l3 -5l8 0l3 3l-8 8zM273 -16l-1 -1l1 -1l1 1zM287 2l-6 0l-3 -3l2 -2l-2 -4l-5 -1l-3 -3l1 -5l2 2l6 0l3 3l-2 2l3 3l7 3l0 2zM333 2l-2 -2l-10 0l-1 -5l3 -3l12 0l3 3l-4 4zM291 10l-4 0l-3 -3l0 -2l5 -1l3 3zM319 6l-3 -1l3 -1l1 1zM405 16l-24 0l-5 -3l2 -2l-4 -4l5 -1l2 2l2 -2l8 0l2 2l6 0l2 2l4 0l5 3zM59 18l-8 0l-2 -2l-6 0l-3 -3l7 -1l2 2l8 0l3 3zM-205 20l-2 0l-3 -3l1 -3l7 1zM417 28l-6 -2l-4 -4l-3 -1l5 -1l4 -4l6 0l4 -2l3 5l-2 2l2 4l-7 1zM85 72l-4 0l-2 -4l-9 -3l-2 -6l4 -4l-2 -2l2 -2l-4 -4l-1 -3l-4 0l-2 -2l-5 -1l4 -4l-6 -4l0 -4l2 -2l-6 -2l5 -5l6 2l4 -4l2 0l8 6l4 0l2 2l6 0l8 10l6 0l2 2l2 -2l4 0l1 3l-2 2l3 1l4 4l4 0l1 3l4 4l-6 4l-1 7l-4 0l-2 -2l-2 2l-6 0l-2 -2l-4 6l-6 0zM-215 22l-3 -1l3 -1l1 1zM115 40l-1 -1l1 -1l1 1zM397 40l-5 -1l5 -1l1 1zM401 42l-1 -1l1 -1l1 1zM379 60l-6 -6l-3 -1l0 -2l3 -3l4 0l4 2l4 -4l10 0l2 -2l8 0l6 4l4 0l3 3l0 2l-3 3l-4 0l-2 2l-14 0l-2 -2l-10 0zM59 50l-1 -1l1 -1l1 1zM94 63l2 -2l-1 -1l-3 1l0 2l1 1zM41 64l-1 -1l1 -1l1 1zM39 66l-1 -1l1 -1l1 1zM133 86l-2 0l-3 -3l0 -2l4 -2l3 -13l5 1l-2 2l1 3l8 -6l7 1l-1 3l-6 0l-5 5l4 4l-1 5l-10 0zM71 72l-3 -3l1 -1l3 1zM-189 92l-3 -1l0 -10l-2 -2l1 -7l5 1l-2 2l0 4l2 2l0 10zM127 76l-1 -1l1 -1l1 1zM337 82l-1 -1l1 -1l1 1zM345 104l-2 -2l-6 0l-1 -5l-6 -2l2 -4l-4 -6l1 -1l6 0l2 2l8 0l5 3l2 6zM75 110l-2 -2l-4 0l-2 2l-14 0l-2 -2l-5 -1l4 -2l-2 -2l2 -2l1 -5l16 -8l6 6l6 0l1 5l4 4l-5 1zM60 101l-1 -3l-3 1l1 3zM-165 180l-2 0l-3 -3l0 -2l-6 -4l0 -2l-6 -6l0 -6l-4 -2l0 -2l4 -4l0 -6l-2 -2l0 -2l4 -4l-2 -4l4 -6l0 -4l5 -5l6 0l3 3l0 2l-3 3l-5 1l8 10l-2 2l0 4l-6 4l2 6l-4 4l0 6l2 2l0 4l10 8l0 2zM-159 144l-1 -1l1 -1l1 1zM-165 154l-3 -1l3 -1l1 1zM-167 158l-3 -1l3 -1l1 1z"/><path fill="#ffff33" fill-rule="evenodd" d="M-323 -200l-4 0l-1 -3l3 -1l3 3zM265 -88l-3 -3l2 -2l0 -4l12 -6l0 -2l-4 -4l-1 -7l-8 -4l-4 4l-2 0l-6 -6l-6 6l-4 -2l-6 2l-1 1l2 2l0 6l4 4l1 3l2 0l6 6l2 -2l4 0l2 2l5 1l-1 1l-14 0l-2 -2l-6 0l-1 -5l-5 -5l-10 0l-2 4l-6 -6l-10 -4l-7 -9l2 -4l0 -4l-2 -4l7 -1l2 -2l10 0l6 -4l6 0l4 4l6 0l6 -4l4 0l8 6l6 0l6 8l6 -2l7 9l0 6l2 2l0 10l2 2l-5 3l-6 0l-2 2l-2 -2zM-307 -122l-2 0l-3 -3l1 -5l5 1l-2 2l2 2zM-275 -122l-3 -1l3 -3l1 1zM-289 -90l-2 -2l-10 0l-4 -2l-2 -4l-3 -1l3 -5l6 -2l4 -4l8 0l5 -5l1 -3l6 -2l3 3l-8 8l-2 4l0 4l2 2l0 6l-5 1zM253 -116l-1 -1l1 -1l1 1zM223 -98l-1 -1l1 -1l1 1zM-191 78l-3 -1l1 -5l5 1zM-189 92l-3 -1l2 -2l-2 -4l1 -5l3 1l0 10zM-173 170l-2 0l-1 -3l-3 -1l-3 -5l0 -4l2 -2l0 -12l-2 -2l1 -5l3 3l0 4l2 2l-2 2l0 4l2 2l0 8l4 6zM-165 178l-5 -3l5 -1l1 1z"/><path fill="#2f86bd" fill-rule="evenodd" d="M233 -106l-12 0l-1 -1l2 -4l-5 -1l-5 -5l0 -2l3 -1l2 4l2 -2l8 0l8 -6l2 2l4 -2l1 3l-3 3l-5 1l0 4l2 2zM243 -118l-1 -1l1 -1l1 1zM283 -100l-1 -1l1 -1l1 1zM-173 170l-2 0l-1 -3l-4 -2l0 -4l-2 -2l3 -7l3 3l0 6l4 6z"/></g>
<use href="#L" fill="none" stroke="#000" stroke-width="1.25" stroke-linejoin="round"/>
<use href="#G" fill="#fff" stroke="#000" stroke-width="1.25" stroke-linejoin="round"/>
<use href="#D" fill="#000"/>
</g>
<g transform="translate(531.5,900.8)">
<g clip-path="url(#c)"><rect x="-456" y="-266" width="950" height="465" fill="#fc8d59"/><path fill="#e34a33" fill-rule="evenodd" d="M185 -110l-4 -2l-6 0l-2 2l-4 0l-2 -4l-10 -4l-3 -5l0 -4l-2 -2l0 -2l4 -4l-6 -2l4 -2l0 -6l-5 -3l-4 0l-4 -6l-10 0l-2 -2l-4 4l-4 0l-3 -5l0 -4l-4 -2l3 -3l2 2l2 -2l2 2l6 -6l4 -2l4 2l6 -4l12 6l2 -2l4 2l2 -4l4 0l4 -4l4 0l2 2l2 -2l10 0l2 2l4 -4l2 0l1 7l4 2l-6 4l7 9l2 0l2 -4l4 0l1 1l-2 2l1 1l2 -2l2 6l4 -2l2 4l14 0l3 3l2 4l-3 3l-6 2l-8 6l-6 0l-2 2l-4 -4l-4 0l-4 -4l-4 2l-4 0l-2 2l-8 0l-4 4l-4 -2l-1 5l3 3l6 2l5 5l-4 2zM15 -174l-1 -1l1 -1l1 1zM51 -126l-2 -4l-6 2l-3 -3l4 -2l2 -4l0 -6l-1 -1l-2 2l-5 -1l0 -4l-8 -6l2 -4l-4 -4l-1 -3l-2 0l-2 4l-8 0l-8 6l-8 0l-3 -3l0 -2l-6 -4l3 -1l8 -8l4 2l18 -2l2 2l2 -2l6 0l2 -2l3 3l0 4l3 5l1 -5l5 -3l8 4l2 -4l4 0l2 -2l2 2l4 0l4 4l4 -2l2 2l1 -1l-2 -4l3 -1l4 6l4 -4l2 0l4 -6l1 1l0 10l3 1l7 7l-2 4l6 2l-4 2l0 4l-2 4l-5 3l-4 -4l-4 2l-3 -5l2 -2l-2 -4l-5 -1l-3 5l2 2l-1 1l-10 0l-7 9l0 4l-3 3l-2 0l-2 -4zM9 -172l-1 -1l1 -1l1 1zM41 -172l-1 -1l1 -1l1 1zM-281 -70l-2 -2l-6 0l-3 -3l0 -14l-4 -2l-1 -5l-2 2l-4 0l-1 -3l-6 -4l2 -2l-1 -3l-6 0l-1 -5l-3 -1l-2 -4l-2 2l-4 -4l-2 2l-1 -1l0 -2l3 -3l5 -1l0 -4l2 -2l0 -6l2 -2l0 -8l2 -2l0 -4l1 -1l4 2l1 -1l0 -4l-2 -2l4 -8l-2 -4l5 -3l4 0l4 2l1 1l-2 2l3 3l4 0l2 4l5 1l-4 4l0 2l3 1l1 3l4 4l0 4l-2 2l2 4l8 4l0 2l-4 2l2 2l-2 2l2 2l0 4l-2 4l2 2l-7 7l-6 2l-3 3l0 2l3 3l8 -4l6 2l1 5l2 2l0 6l-6 4l-2 6zM-237 -110l-2 -2l-4 2l-7 -1l2 -2l0 -4l7 -7l2 0l3 -5l-6 -2l0 -2l4 -4l-2 -2l2 -2l0 -12l-4 -2l1 -3l8 0l5 5l-2 2l1 1l4 -4l4 -2l4 0l5 5l1 3l5 -1l-2 -2l3 -1l2 -4l3 7l3 1l1 -3l-2 -2l4 -4l-2 -2l1 -3l8 0l2 8l2 -4l6 0l3 -3l-2 -4l1 -1l4 -2l2 2l6 -2l1 1l0 12l1 1l4 -4l3 1l0 6l2 4l-2 2l-1 5l-2 -2l-2 2l-8 0l-2 -2l-4 2l-2 -4l-4 0l-8 6l-2 4l-6 0l-3 5l0 4l-3 3l-2 0l-1 3l-3 1l-2 4l-6 0l-6 -6l-2 0l-4 4l-4 -2zM68 -165l-1 -1l-3 1l1 1zM140 -159l-1 -1l-1 1l1 1zM239 -154l-1 -1l1 -1l1 1zM-3 -148l-3 -1l3 -3l1 1zM239 -150l-1 -1l1 -1l1 1zM253 -142l-8 0l-1 -5l-4 -2l3 -3l4 4l4 0l1 -1l-2 -2l1 -1l4 0l1 5zM-9 -124l-4 -4l-3 -1l-1 -5l-9 -3l3 -3l4 0l4 -4l2 2l3 -3l0 -2l3 -1l3 3l0 6l2 2l-2 4l-4 2zM305 -32l-6 -2l-5 -5l2 -2l0 -8l-6 -8l0 -4l-4 -2l1 -5l4 2l3 -7l3 -3l5 -1l0 -2l-3 -3l-2 2l-7 -1l-2 -4l0 -4l2 -4l-4 -6l0 -4l10 -2l2 -4l0 -4l-2 -2l4 -2l-2 -6l4 -4l0 -2l3 -3l6 4l3 -3l-4 -4l2 -4l-4 -4l5 -3l4 0l4 -2l2 2l4 0l3 3l2 4l0 12l1 1l2 -2l3 5l0 6l-5 5l-2 -2l-1 1l2 2l0 8l-4 4l6 6l0 4l2 2l0 4l-2 2l2 2l-4 2l2 4l-1 3l-4 -2l-4 2l-4 0l-1 7l-3 3l-11 3l4 4l0 6l2 2l-6 6l-2 4l2 2zM241 -144l-1 -1l1 -1l1 1zM322 -141l-1 -1l-1 1l1 1zM307 -134l-1 -1l1 -1l1 1zM123 -112l-10 0l-1 -1l2 -2l-7 -5l-8 4l-2 -4l-4 0l-2 2l-4 -2l-4 4l-4 0l-1 -1l4 -4l0 -2l-4 -2l0 -6l3 -3l4 0l4 4l2 -2l4 0l8 4l6 -6l4 2l1 3l6 4l0 4l6 6zM123 -130l-1 -1l1 -1l1 1zM349 -130l-1 -1l1 -1l1 1zM359 -110l-1 -3l2 -4l-2 -2l5 -1l5 -5l-1 -3l-5 -1l7 -1l1 5l4 2l-2 2l0 4l6 2l-3 3l-2 -2l-6 0l-4 -2zM345 -126l-1 -1l1 -1l1 1zM351 -124l-1 -1l1 -1l1 1zM375 -124l-1 -1l1 -1l1 1zM-296 -113l5 -5l3 -1l-1 -3l-6 -2l-2 6l-2 -2l-2 2l-2 -2l-1 1l3 7zM-17 -98l-5 -5l0 -8l3 -1l1 1l-2 2l3 1l1 -3l4 -2l-2 -4l3 -3l3 1l-2 2l1 1l6 0l8 -4l4 6l10 0l2 -2l2 4l5 1l0 6l-3 3l-4 0l-4 -4l-4 0l-4 2l-2 -4l-4 0l-2 4l-4 -4l-2 0l-2 4l-4 0zM-221 -110l-1 -1l1 -5l1 1zM271 -96l-4 -6l-6 0l-2 -2l-2 2l-2 -2l-8 4l-4 -2l-6 6l-2 0l-4 -4l-4 0l-1 -3l1 -1l4 2l1 -1l-2 -2l0 -10l9 -1l6 4l2 -2l4 0l4 6l4 -2l8 0l5 7zM-273 -112l-1 -1l1 -1l1 1zM-312 -111l-1 -1l-1 1l1 1zM61 -82l-2 -4l-4 0l-8 -4l-6 2l-3 -3l0 -2l5 -5l6 0l1 -3l3 -1l8 4l6 0l2 4l4 0l4 2l7 -5l0 -4l-2 -4l1 -1l2 2l6 0l1 -1l-2 -2l1 -3l4 2l4 6l3 1l-2 4l0 4l-5 3l-8 0l-4 4l-4 0l-2 -4l-4 0l-4 2l-2 4l-4 0zM129 -108l-1 -1l1 -1l1 1zM-251 -106l-1 -1l1 -1l1 1zM85 -106l-1 -1l1 -1l1 1zM133 -98l-3 -1l0 -4l-2 -2l3 -3l5 1l-2 2zM105 -102l-1 -1l1 -3l1 1zM35 -96l-6 -2l-1 -3l1 -1l4 2l3 3zM75 -96l-1 -1l1 -1l1 1zM285 -86l-1 -1l1 -1l1 1zM334 -85l-1 -1l-1 1l1 1zM91 58l-2 -2l-5 -1l2 -4l-1 -5l-4 0l-2 2l-1 -1l0 -2l3 -3l2 0l6 -6l3 -1l-2 -4l1 -1l2 2l1 -1l-8 -6l4 -6l0 -2l-3 -3l-2 4l-4 0l-2 2l-8 0l-2 2l-2 -4l-4 2l-4 0l-3 3l2 2l-6 4l2 4l-4 4l0 2l4 2l-4 4l-1 3l-4 2l-3 -3l0 -2l4 -2l0 -4l2 -2l-4 -2l0 -2l4 -2l0 -4l-8 -16l0 -10l-2 -2l0 -4l-4 -8l2 -2l0 -4l3 -5l10 0l4 -6l4 0l4 -4l2 2l1 -1l-1 -3l-6 -2l-2 -4l-2 2l-6 0l-8 4l-4 4l-6 0l-1 -1l2 -2l-1 -3l-4 -2l-4 4l-8 -6l-1 1l2 2l-1 5l-4 -2l-2 0l-2 4l-6 0l-2 -2l-4 0l-1 3l-3 1l-6 -8l-8 -6l-4 2l-3 -1l0 -4l2 -2l-1 -3l-2 2l-2 -2l-6 0l-9 -5l3 -3l2 2l5 -5l0 -4l5 -3l6 6l2 0l4 4l3 1l-2 2l1 3l4 0l1 -1l-2 -2l5 -1l3 -3l0 -4l6 -2l-2 -2l3 -3l2 4l2 -2l1 1l-2 4l1 1l6 0l2 -2l2 2l4 -2l10 2l1 -3l-1 -1l-2 2l-1 -3l7 -1l2 -2l8 0l4 4l4 -2l8 0l2 2l8 -4l2 4l2 -2l8 0l8 -4l4 4l6 0l1 5l6 4l2 6l3 3l2 -2l4 2l1 -3l-6 -6l-2 -4l3 -7l2 0l2 4l2 0l7 -7l0 -2l4 -2l1 -3l8 0l4 4l4 0l2 -2l2 4l2 -2l6 0l7 7l2 4l-3 3l-2 0l-6 8l-4 0l-6 6l-2 -2l-2 2l-4 -2l-5 5l0 2l4 4l0 4l4 2l-6 4l0 4l2 2l-4 4l0 4l-10 8l0 6l-5 3l-4 -2l-1 1l4 8l-2 4l2 4l-3 3l-4 0l-1 3l-6 6l1 3l5 1l2 10l-4 2l2 2l-5 5l-8 0l-1 3l2 2zM93 -76l-3 -1l3 -1l1 1zM-41 -70l-1 -1l1 -1l1 1zM11 -66l-1 -5l3 -1l3 3zM-227 -26l-4 -4l-4 2l-4 0l-4 -4l-7 -1l2 -2l0 -6l-3 -3l-2 0l-7 -9l4 -4l0 -4l2 -2l-2 -2l1 -3l4 0l2 -2l3 1l0 10l3 1l7 7l0 4l10 10l2 4l-2 2zM38 -69l-1 -1l-1 1l1 1zM221 -30l-3 -1l0 -4l-5 -5l-2 2l-3 -3l0 -10l2 -2l0 -10l-4 -2l1 -3l6 0l1 3l-2 2l5 1l2 2l2 -2l10 0l5 3l-4 2l2 4l0 6l-4 2l4 2l-2 4l2 4l-3 3l-8 0zM44 -65l-1 -1l-1 1l1 1zM78 -65l-1 -1l-1 1l1 1zM233 -64l-1 -1l1 -1l1 1zM-267 -58l-1 -1l1 -1l1 1zM-205 -42l-1 -1l1 -1l1 1zM-189 76l-10 0l-3 -3l2 -4l-2 -2l2 -2l-2 -2l0 -4l-5 -1l-3 -3l0 -4l-5 -1l-3 -3l0 -6l-4 -2l0 -2l3 -1l3 -5l-4 -2l2 -4l0 -6l-1 -1l-2 2l-3 -1l2 -6l-4 -2l0 -4l-3 -1l-3 -5l0 -8l6 -6l0 -6l-2 -4l9 -1l2 2l5 -9l0 -4l5 -5l2 0l6 8l6 2l4 -4l8 4l1 3l5 3l3 -1l0 -6l3 -1l4 4l3 1l2 4l-2 2l3 3l4 0l4 -6l6 0l2 -2l1 3l-2 2l0 4l3 1l1 3l4 4l-2 2l0 4l-2 4l3 3l4 -4l7 7l0 4l3 3l4 0l2 2l4 -4l4 2l8 0l3 3l0 6l-2 4l6 6l-6 6l0 2l1 1l2 -2l4 0l3 3l-7 1l-3 3l2 2l0 8l-5 1l-2 4l-6 -2l-2 -4l-2 2l-3 -3l2 -2l0 -4l-2 -2l2 -2l-3 -1l-5 -5l0 -18l2 -2l-1 -1l-2 2l-6 -4l-4 0l-2 2l-2 -2l-7 11l2 2l0 8l-2 4l-11 11l-2 0l-3 3l-2 4l2 2l-2 4l-9 7l-8 0l-8 -8l-1 1l0 6l2 2zM-183 -38l-3 -1l3 -1l1 1zM19 -34l-3 -1l3 -1l1 1zM213 -32l-1 -1l1 -3l1 1zM137 -26l-1 -1l1 -3l1 1zM-223 -26l-1 -1l1 -1l1 1zM-192 -11l6 -4l-3 -1l-4 -6l-8 0l-4 -4l-4 0l-2 -2l-1 1l0 4l-2 2l3 3l8 4l4 0l4 4zM-145 -26l-1 -1l1 -1l1 1zM-153 -24l-3 -1l3 -1l1 1zM137 -22l-1 -1l1 -1l1 1zM-222 -21l-1 -1l-1 1l1 1zM133 -20l-1 -1l1 -1l1 1zM-184 -19l-1 -1l-1 1l1 1zM339 -4l-6 0l-3 -7l3 -1l1 5l5 1l1 1zM321 -4l-1 -1l1 -1l1 1zM327 20l-4 -4l-2 2l-1 -3l-4 -4l2 -2l-2 -4l2 -2l-2 -2l13 -5l5 3l-2 2l1 3l2 -2l3 1l-2 2l0 4l-6 4l2 4zM98 11l-1 -1l-1 1l1 1zM106 13l-1 -1l-3 1l1 1zM107 30l-1 -1l1 -1l1 1zM-223 32l-1 -1l1 -1l1 1zM61 44l-3 -1l0 -4l5 -3l1 3zM69 38l-1 -1l1 -1l1 1zM79 40l-3 -1l1 -3l3 1zM43 42l-1 -1l1 -1l1 1zM65 92l-10 0l-4 -4l-7 -1l0 -4l4 -4l0 -2l-5 -1l-3 -3l2 -10l-3 -1l-3 -5l1 -7l2 0l2 4l2 -2l3 3l-2 4l5 7l2 -2l8 8l4 -2l2 6l2 -2l3 1l-2 4l4 4l0 4l-3 1l-4 -2l-1 1l2 2zM353 54l-3 -1l3 -3l1 1zM357 58l-1 -1l1 -1l1 1zM87 62l-1 -1l1 -1l1 1zM419 94l-4 -2l-4 2l-1 -1l2 -4l-6 -4l2 -4l0 -4l4 -4l-2 -4l3 -1l4 -4l5 5l-2 2l0 6l-2 2l4 2l-2 2l0 4l6 2l-5 1zM407 70l-1 -1l1 -1l1 1zM71 72l-1 -1l1 -1l1 1zM77 86l-1 -1l1 -3l1 1zM-197 90l-1 -1l1 -1l1 1zM-195 110l-1 -3l2 -2l1 -5l4 2l2 -2l3 1l-3 3l-4 0z"/><path fill="#b30000" fill-rule="evenodd" d="M313 -116l-3 -3l-2 -4l1 -1l5 1zM317 -116l-1 -1l1 -5l1 1zM129 -52l-10 0l-1 -1l2 -2l0 -8l4 -2l2 -6l3 -3l4 4l4 -6l2 2l4 0l2 4l8 0l3 3l-3 1l-4 4l-2 0l-2 6l-8 0zM-233 -32l-10 -2l-1 -7l-4 -4l0 -2l-6 -4l0 -4l2 -2l-4 -8l1 -3l9 1l0 8l-2 2l3 3l7 3l0 4l6 8zM61 -48l-6 0l-2 -2l-4 2l-2 -2l-16 0l-1 -1l1 -1l12 0l2 -2l2 2l2 -2l4 0l2 2l4 -2l1 1l-2 2l1 1l2 -2l1 1zM119 -36l-6 0l-5 -3l2 -2l1 -7l2 0l4 4l3 1zM-187 50l-2 -2l-6 2l-1 -3l-3 -1l-7 -7l2 -6l-4 -4l0 -4l-2 -2l2 -4l-12 -8l1 -3l2 2l1 -1l-4 -8l2 -2l-3 -1l-2 4l-3 -1l4 -10l3 -3l6 0l4 -2l2 4l4 2l4 0l4 4l2 -4l4 -2l2 2l4 -6l4 6l6 0l1 -1l-2 -2l3 -1l3 7l3 1l2 4l4 0l4 -2l4 -6l2 2l4 -2l3 3l-6 4l6 10l-2 4l-3 3l-4 -2l-4 2l-6 0l-4 -4l-3 3l0 6l5 1l3 3l0 4l2 2l0 8l-1 1l-1 -1l-1 -5l-1 3l-5 5l-4 0l-4 -6l-2 0l-1 1l2 2l0 6l-3 3l-4 -2zM-172 -5l-1 -1l-1 1l1 1zM-221 4l-1 -1l1 -1l1 1zM-219 16l-1 -1l1 -1l1 1zM-221 18l-1 -1l1 -1l1 1zM-223 20l-1 -1l1 -1l1 1zM-161 46l-1 -1l1 -5l1 1zM37 52l-1 -1l1 -1l1 1zM41 60l-3 -1l1 -7l3 5zM-169 66l-8 0l-3 -9l1 -1l2 2l4 0l2 -2l3 5zM-193 62l-3 -1l3 -1l1 1zM-195 68l-3 -1l1 -3l3 1z"/><path fill="#7a0177" fill-rule="evenodd" d="M-249 -60l-4 0l-1 -3l5 -1l1 1zM-149 12l-2 -2l-4 2l-4 -2l-4 0l-1 -5l3 -3l4 0l6 -4l3 3l-2 2l1 1l2 -2l1 5l2 2zM-197 36l-2 0l-3 -3l5 -5l2 0l3 3l-3 1z"/><path fill="#fdbb84" fill-rule="evenodd" d="M-307 -184l-3 -1l2 -2l-1 -3l-4 2l-5 -3l-1 -3l-10 -4l-3 -3l0 -2l3 -1l2 2l6 0l4 6l4 0l2 2l3 -1l-1 -5l-4 0l-4 -4l-8 -4l-16 0l-3 3l-1 5l-4 0l-4 4l-2 -2l-4 0l-1 -3l4 -4l2 -10l3 -3l8 -4l8 0l2 -2l12 0l2 4l4 0l2 4l1 -3l-2 -2l3 -3l6 0l2 -2l2 2l2 -2l2 4l11 5l-2 4l3 3l4 -4l2 0l1 3l3 1l4 -4l2 2l8 -4l3 -3l1 -5l14 -2l2 -4l4 4l1 -1l-4 -4l3 -3l4 0l4 4l2 0l1 -3l-3 -1l-1 -3l5 -1l2 -4l4 0l8 4l4 0l2 4l4 0l6 -4l6 0l2 4l2 -2l6 2l2 -2l4 0l2 -4l4 0l2 -2l1 3l3 1l4 -6l8 -4l4 0l2 -2l4 0l2 2l2 -2l2 4l4 0l2 -6l6 -2l4 4l8 -6l1 5l2 2l-3 3l-6 0l-2 -2l-1 3l1 1l10 0l7 9l-5 1l-3 3l0 4l-8 6l2 2l0 6l-3 5l-2 0l-1 -5l-3 -1l-4 2l-8 10l-2 0l-1 -3l-3 -1l-4 2l-1 3l-5 3l-16 0l-2 4l-2 -4l-6 0l-4 -6l-10 0l-4 2l-7 -7l0 -2l-3 -1l-2 4l-10 0l-2 6l-7 1l2 2l-1 1l-6 0l-4 -4l-2 2l-2 -2l-3 5l2 2l-3 3l-2 -2l-2 4l-4 -6l-6 4l-2 -2l-10 0l-4 2l-2 4l-4 0l-4 -4l-14 2l-2 2l-2 -2l-4 2zM-165 -246l-8 0l-3 -3l7 -1l2 -2l3 5zM-137 -250l-1 -1l1 -1l1 1zM29 -244l-7 -1l7 -1l1 1zM35 -240l-4 0l-1 -3l7 -1l1 1zM303 -168l-2 -2l-2 2l-4 0l-4 -4l-4 2l-4 0l-1 -5l2 -2l-7 -5l-4 2l-2 -2l-6 0l-2 -2l-4 0l-4 2l-6 -4l-2 2l-2 -2l-8 0l-2 -4l-8 -4l-14 0l-2 -2l-2 4l-10 0l-2 2l-4 -2l-8 0l-3 -3l-2 -10l-3 -3l-8 0l-6 -4l-2 2l-6 0l-4 2l-2 10l-10 -4l-2 2l-8 0l-2 4l-2 -4l-6 6l-2 -4l-6 4l-4 -4l-8 -4l-4 0l-3 -5l3 -3l12 0l2 -2l4 0l2 -4l7 -3l-2 -2l3 -3l2 2l4 -4l10 0l2 -4l4 2l1 -7l7 -1l4 -6l4 0l3 3l-2 4l1 3l4 2l8 0l4 -2l4 6l8 -12l1 5l3 1l1 -9l3 -1l2 2l4 0l4 2l4 6l2 -2l4 2l8 -6l2 0l1 1l-2 2l1 3l6 0l4 -2l4 4l4 -4l6 2l4 -6l2 4l6 0l2 2l4 0l2 6l6 0l2 2l1 -3l5 -3l4 2l8 0l2 -2l4 2l10 0l12 6l1 5l3 3l2 -2l2 2l6 -4l2 4l2 -2l4 0l4 2l12 -6l6 0l6 4l4 0l2 -2l1 3l-2 4l5 1l4 4l3 1l2 10l-5 1l-6 6l-3 -5l0 -4l6 -4l-1 -5l-2 2l-6 -2l-4 6l-4 0l-1 -3l-3 -1l-1 3l-4 2l-1 5l-13 3l4 4l-3 3l-6 0l-2 -2l-6 0l-2 -2l-3 3l1 1l2 -2l1 3l-5 3l-3 -1l-1 -5l-2 2l-4 0l-4 -2l-4 4l-6 0zM111 -224l-5 -3l2 -4l-2 -2l1 -3l6 0l4 -4l4 4l4 -4l5 1l0 4l-3 3l-12 0l-3 3l2 2zM167 -238l-1 -1l1 -1l1 1zM169 -234l-1 -1l1 -3l1 1zM-222 -233l-1 -1l-1 1l1 1zM-295 -224l-1 -1l1 -1l1 1zM63 -224l-1 -1l1 -1l1 1zM73 -200l-1 -3l-5 -3l-2 0l-4 4l-4 0l-1 -1l2 -2l-6 -2l4 -6l-1 -1l-2 2l-2 -4l-4 0l-1 -7l5 -1l6 6l4 -2l4 0l3 3l2 6l4 2l0 4l2 2zM318 -221l-1 -3l-1 3l1 1zM-29 -196l-10 -2l-4 -4l-6 0l-3 -3l2 -4l-2 -2l0 -10l1 -1l3 1l-2 4l3 1l6 6l8 0l2 -6l2 2l4 0l3 3l0 2l4 2l-3 3l-2 0l-1 3l-3 1zM341 -220l-1 -1l1 -1l1 1zM345 -218l-1 -1l1 -1l1 1zM-118 -217l-1 -1l-1 1l1 1zM-19 -212l-1 -1l1 -1l1 1zM49 -212l-3 -1l3 -1l1 1zM51 -210l-1 -1l1 -1l1 1zM354 -211l-1 -1l-1 1l1 1zM81 -204l-1 -1l1 -5l3 3zM146 -207l-1 -3l-5 3l1 1zM348 -209l-1 -1l-1 1l1 1zM157 -204l-1 -1l1 -1l1 1zM-162 -203l-1 -1l-1 1l1 1zM-55 -202l-1 -1l1 -1l1 1zM65 -202l-1 -1l1 -1l1 1zM392 -203l-1 -1l-1 1l1 1zM-244 -201l-1 -1l-1 1l1 1zM-154 -201l-1 -1l-1 1l1 1zM75 -198l-1 -1l1 -1l1 1zM377 -198l-1 -1l1 -1l1 1zM-375 -196l-1 -1l1 -1l1 1zM-235 -196l-1 -1l1 -1l1 1zM-23 -196l-1 -1l1 -1l1 1zM-35 -194l-3 -1l3 -1l1 1zM-247 -186l-1 -1l1 -1l1 1zM-303 -184l-1 -1l1 -1l1 1zM-157 -172l-2 -2l-10 0l-1 -1l2 -4l-2 -4l3 -1l2 2l4 0l1 -1l-2 -2l3 -1l4 4l9 3l-5 5l-4 0zM-177 -178l-3 -3l1 -1l3 1zM-171 -178l-1 -1l1 -1l1 1zM309 -178l-1 -1l1 -1l1 1zM-273 -158l-1 -1l1 -5l1 1zM241 -138l-1 -1l1 -1l1 1zM283 -106l-4 0l-3 -3l-2 -4l2 -2l-3 -3l-2 2l-2 0l-2 -4l-4 2l-6 0l-7 -5l2 -2l-1 -1l-4 0l-2 2l-2 -2l-4 0l-2 4l-4 -2l-1 3l-5 5l-10 0l-2 -4l-8 0l-3 -3l3 -3l4 2l4 -4l2 2l6 -4l6 0l3 -3l0 -2l5 -3l4 2l4 0l2 -2l6 0l4 4l8 4l1 -7l5 -1l3 3l0 4l2 2l-2 2l3 3l4 -2l1 7l3 3l2 -2l3 5l0 4l-5 1zM203 -128l-3 -1l1 -3l3 1zM268 -125l-1 -1l-3 1l1 1zM179 -76l-2 -2l-2 2l-1 -3l-4 -2l0 -6l-4 -2l0 -6l-6 -6l7 -7l2 2l6 0l5 5l0 4l5 5l2 0l1 -5l-4 -2l3 -1l4 -4l2 2l3 -1l-2 -4l0 -6l-2 -2l5 -3l3 1l1 7l2 0l10 8l4 0l4 2l2 4l4 0l2 2l6 0l2 2l16 0l4 4l3 1l-9 5l-6 0l-2 -4l-16 0l-2 4l-4 -2l-1 3l-3 1l-4 -2l-2 -4l-14 0l-2 -2l-6 0l-5 3l2 2l-3 1zM204 -99l-1 -1l-1 1l1 1zM-13 -92l-3 -1l3 -3l1 1zM216 -89l-3 -7l-5 1l3 7zM211 -80l-1 -1l1 -1l1 1zM215 -76l-3 -1l1 -3l3 1zM221 -78l-1 -1l1 -1l1 1zM399 16l-4 -4l-3 -1l2 -2l-2 -2l1 -1l4 0l2 4l2 -2l3 1zM403 24l-3 -3l0 -2l3 -3l3 5zM-153 110l-4 0l-4 -2l-1 -3l-7 -7l-9 -1l2 -4l0 -4l2 -2l-2 -4l1 -1l6 0l4 -2l4 6l8 4l10 0l8 -6l2 0l5 5l-2 6l-3 3l-2 0l-6 6l-4 0l-2 4l-4 0zM-172 91l-1 -1l-1 1l1 1zM385 94l-1 -1l1 -1l1 1zM85 106l-6 -2l-3 -5l3 -1l4 4l2 0l1 1zM-163 112l-1 -1l1 -1l1 1zM-161 114l-1 -1l1 -1l1 1zM-151 114l-1 -1l1 -1l1 1zM-173 166l-3 -3l1 -1l3 1zM-169 164l-1 -1l1 -1l1 1zM-163 180l-2 0l-7 -7l5 -3l4 2l1 1z"/><path fill="#ffff33" fill-rule="evenodd" d="M-121 -248l-5 -1l3 -3l2 0l1 1zM-109 -248l-3 -3l1 -1l3 1zM-169 -248l-1 -1l1 -1l1 1zM-167 -246l-1 -1l1 -1l1 1zM-155 -236l-3 -3l0 -2l5 -5l4 0l2 -2l5 3l-1 5l-4 -2l-2 4l-2 -2zM25 -244l-1 -1l1 -1l1 1zM33 -240l-3 -3l1 -1l7 1zM-227 -234l-1 -3l3 -1l4 -4l4 2l4 0l3 3l-5 1l-2 -2l-2 2l-6 0zM111 -226l-5 -1l2 -2l1 -7l4 2l2 -4l4 0l2 2l4 -4l5 1l0 2l-3 3l-4 0l-2 2l-8 0zM-171 -224l-4 0l-3 -3l0 -4l5 -3l5 3l-2 2zM-143 -210l-5 -9l1 -5l4 4l3 1l0 4l2 2zM-329 -202l-1 -1l1 -1l1 1zM-331 -200l-1 -1l1 -1l1 1zM-313 -190l-2 0l-8 -8l-2 0l-3 -3l5 -1l6 6l3 1l2 4zM255 -84l-6 0l-2 -2l-2 2l-4 -4l-4 2l-8 -4l-6 0l-2 -2l-4 0l-1 -3l-3 -1l-2 -4l-4 2l-4 -4l-4 0l-5 -5l0 -6l-2 -2l7 -1l1 5l3 3l2 0l6 6l6 0l4 2l1 3l7 5l18 0l6 4l7 1zM-141 96l-1 -3l3 -5l1 5zM79 102l-1 -1l1 -3l1 1zM-163 178l-6 -2l-1 -3l1 -1l2 2l4 -2l1 1l-2 2l2 2z"/></g>
<use href="#L" fill="none" stroke="#000" stroke-width="1.25" stroke-linejoin="round"/>
<use href="#G" fill="#fff" stroke="#000" stroke-width="1.25" stroke-linejoin="round"/>
<use href="#D" fill="#000"/>
</g>
<g transform="translate(1535.6,900.8)">
<g clip-path="url(#c)"><rect x="-456" y="-266" width="950" height="465" fill="#fc8d59"/><path fill="#e34a33" fill-rule="evenodd" d="M149 -210l-5 -1l3 -3l2 0l1 1zM155 -212l-3 -1l3 -1l1 1zM147 -138l-10 -8l-5 -1l9 -1l4 2l3 -3l-3 -5l-8 0l-2 2l-6 0l-2 -2l-4 2l-2 -2l-4 0l-6 4l-1 -3l4 -4l-4 -2l1 -1l14 0l3 -3l-4 -4l5 -3l6 2l1 -1l-2 -2l7 -5l6 2l4 -4l8 0l2 -2l12 0l3 -3l0 -2l-4 -4l2 -6l-3 -3l-4 0l-1 3l-5 3l-2 -2l-4 0l-4 4l-6 -2l-4 4l-10 0l-2 -2l-16 0l-2 -2l-4 0l-1 -5l7 -3l4 -4l4 0l2 4l6 0l4 -4l3 3l0 2l3 3l2 0l1 -3l-2 -2l5 -5l8 -4l16 0l2 -2l4 2l2 4l6 0l2 4l12 0l9 9l0 4l3 3l2 0l1 3l-8 2l0 2l-4 4l2 4l-9 13l-2 0l-4 4l-6 0l-3 3l0 4l6 4l-5 3l-4 0l-6 -4l-12 0l-2 4l-6 0zM93 -198l-1 -1l1 -1l1 1zM172 -173l2 -2l-1 -3l-2 0l-3 3l3 3zM158 -171l-1 -3l-5 1l1 3zM-223 -108l-2 0l-3 -3l2 -4l-3 -1l-11 -11l5 -1l3 -3l-2 -4l3 -3l14 0l2 -2l6 0l1 -3l6 -4l-4 -2l-1 -3l-7 -3l4 -4l-2 -2l5 -5l10 0l3 3l-4 4l1 1l4 -2l2 2l10 -2l10 8l10 0l1 1l0 4l4 4l-1 1l-8 0l-2 2l-6 -2l-4 2l-1 -1l2 -2l-7 -3l-7 5l0 6l7 7l3 1l-1 3l-6 -2l-2 2l-6 0l-2 2l-8 0l-1 1l2 2l-4 4l-1 5l-12 0zM63 130l-2 -4l-4 0l-2 4l-8 0l-8 -8l-6 0l-9 -5l6 -4l-1 -3l-6 0l-5 -3l0 -6l6 -4l-5 -1l-3 -3l2 -4l-2 -4l5 -1l2 -2l2 2l4 -2l4 0l5 -3l-3 -1l-1 -1l1 -1l7 -1l-5 -1l-1 -1l2 -2l-1 -1l-6 0l-8 -6l-9 -1l4 -2l-2 -2l1 -1l5 -1l-6 -4l0 -4l4 -4l0 -2l5 -1l4 -4l9 -1l-1 -3l-7 -1l0 -2l4 -2l-1 -1l-6 -2l-3 -3l2 -4l6 -4l-5 -1l-4 -4l-4 2l-10 0l-2 -2l-4 2l-4 -2l-4 2l-2 -2l-4 2l-10 0l-2 -2l-6 0l-2 -2l-14 0l-2 2l-4 0l-2 -2l-6 0l-3 -3l0 -2l3 -3l4 0l4 -2l3 -3l0 -2l-6 -4l3 -1l7 -9l-3 -1l-1 -3l4 -2l0 -4l4 -4l0 -2l-7 -5l-4 2l-3 -3l3 -3l5 -1l-12 -10l2 -2l-3 -1l-5 -5l0 -4l-3 -3l-4 0l-3 -3l5 -1l2 -4l8 0l2 -4l8 0l1 -1l-2 -2l1 -1l6 0l1 -1l-1 -1l-2 0l-4 -4l-4 4l-3 -1l5 -7l12 0l1 -3l-2 -2l4 -4l1 -3l4 0l2 2l4 -4l6 -2l6 -6l8 0l4 -2l3 -3l-5 -5l-8 0l-3 -3l5 -5l8 -4l10 0l3 5l-2 2l2 2l-3 3l-4 0l-1 3l3 3l2 0l2 -4l6 0l4 2l1 -5l-3 -1l-5 -5l0 -4l3 -3l12 0l6 -6l8 0l8 -4l2 2l4 0l1 -3l-6 -4l1 -1l8 0l10 10l6 2l3 3l-2 2l3 3l12 0l4 -6l6 0l4 -4l2 0l5 5l0 4l-3 1l-2 4l-4 0l-3 3l0 2l5 3l8 0l2 2l4 0l4 6l8 0l2 2l16 0l4 4l2 0l11 -9l-2 -4l5 -5l6 -2l2 -4l4 0l3 5l-2 2l3 1l7 7l-2 2l2 2l-2 6l3 3l6 2l4 4l4 0l2 2l6 0l2 -4l4 2l18 0l2 -2l4 0l2 2l6 0l4 6l6 0l2 2l6 0l2 2l6 0l5 -5l1 -3l3 3l0 2l4 2l1 3l4 0l2 -4l4 0l3 -3l0 -10l-5 -5l-2 0l-3 -3l0 -2l-6 -4l-1 -3l-2 0l-3 -3l2 -2l-1 -3l-7 -1l2 -4l-1 -1l-4 0l-4 -6l-4 0l-4 4l-2 0l-4 -4l-4 0l-1 -5l5 -5l4 4l4 0l6 -6l4 0l1 -1l-1 -1l-3 -1l1 -3l2 2l10 0l4 2l3 3l2 6l5 5l9 1l-5 1l-1 1l1 1l4 0l2 -2l4 2l6 0l3 3l0 8l-2 2l3 3l5 1l-6 2l4 8l0 8l8 8l-2 4l3 3l5 1l-8 4l4 2l-2 2l0 4l2 4l-6 2l1 3l8 0l1 1l-2 4l-3 1l-2 -2l-4 0l-5 3l2 2l-1 1l-4 0l-3 3l7 3l3 3l-2 4l2 2l-3 3l-8 0l-3 -3l-2 -6l-3 -1l-4 -4l-2 0l-4 -4l-10 2l-1 -1l2 -2l-2 -4l-5 -5l-3 -1l2 -4l0 -4l-7 -1l-4 -4l-4 0l-2 4l-4 0l-6 4l-2 -2l-4 0l-5 5l2 2l1 7l6 -2l1 5l5 5l5 1l-4 4l-1 3l-4 0l-6 4l-7 1l0 2l4 4l-1 3l-10 0l-1 1l7 1l4 4l3 1l-2 4l0 4l-4 6l0 6l2 2l0 4l-2 2l0 4l2 2l-1 1l-8 0l-6 4l-12 0l-4 2l-2 4l-4 -2l-6 0l-4 -4l-8 4l-10 -2l-5 -3l4 -4l-1 -1l-8 4l-4 0l-8 4l-10 10l-3 1l1 3l5 1l0 2l-3 3l-8 0l-4 4l-3 1l1 5l6 0l3 3l0 4l6 2l-1 1l-10 0l-2 -2l-6 0l-2 -2l-3 3l3 1l1 1l-1 1l-8 0l-1 -1l2 -4l-1 -1l-4 -2l-6 0l-5 -5l5 -1l3 -3l-1 -1l-6 0l-2 4l-4 0l-1 -1l4 -4l-3 -3l-10 0l-2 2l-10 0l-7 -7l-1 -3l-8 0l-1 1l6 6l0 2l4 2l0 4l-2 4l3 3l16 0l6 4l6 0l1 5l-4 4l1 1l4 -2l10 0l2 2l4 -2l4 0l2 2l7 1l-7 1l-3 3l1 3l12 0l1 -1l-2 -4l6 -2l-2 -2l1 -3l3 3l1 5l7 3l-2 2l0 4l2 2l-20 12l9 1l4 4l2 0l5 5l-7 1l-1 1l2 4l3 3l2 0l4 6l2 0l3 3l-5 3l-10 0l-2 2l-4 0l-6 -4l-4 0l-4 -4l-4 2l-4 6l-4 0l-7 -5l8 -2l-7 -1l-6 4l-6 0l-2 4l-10 0l-12 6l-4 0zM311 -150l-1 -1l1 -1l1 1zM-241 -132l-1 -1l1 -1l1 1zM191 -130l-3 -1l1 -3l3 3zM281 -128l-3 -3l1 -1l3 1zM153 -126l-1 -1l1 -1l1 1zM377 -112l-4 -4l-4 2l-10 -2l-2 4l-2 0l-1 -3l2 -4l6 -4l1 -5l8 0l2 2l5 1l0 4l2 4zM-303 -124l-3 -1l3 -1l1 1zM159 -124l-5 -1l5 -1l1 1zM337 -120l-1 -1l1 -1l1 1zM-301 -114l-3 -1l3 -3l2 0l1 1zM-212 -117l-1 -1l-1 1l1 1zM-47 -104l-3 -1l3 -1l1 1zM246 -101l-1 -1l-3 1l1 1zM-169 144l-12 0l-2 -2l-7 -1l4 -6l-4 -8l2 -2l0 -6l-4 -4l1 -1l4 2l1 -1l-4 -4l0 -4l-6 -4l0 -8l2 -4l-4 -4l4 -6l-2 -2l2 -2l-3 -3l-3 3l2 2l-3 3l-4 0l-2 -4l-6 -2l-3 -3l0 -4l-2 -2l2 -2l-2 -2l4 -6l-6 -2l2 -6l-4 -8l-5 -3l-12 0l-1 -1l2 -4l-4 -8l2 -4l-4 -4l0 -4l-10 -2l1 -3l4 0l2 2l1 -1l0 -6l2 -2l-2 -4l2 -4l7 -3l3 -3l0 -4l-4 -2l2 -4l-2 -2l5 -3l8 0l1 -3l-2 -4l-3 -3l-6 0l-4 2l-2 4l-4 -2l-1 -1l0 -10l-2 -2l0 -2l4 -2l-1 -3l-28 0l-2 -2l-10 0l-2 -2l-6 0l-1 -5l-2 -2l2 -6l-4 -4l10 -8l-6 -6l1 -1l4 0l2 2l6 -2l6 8l6 -6l1 1l4 10l-6 6l0 2l4 4l-6 2l3 3l4 -4l4 0l4 -4l8 0l2 -2l6 0l3 3l-4 2l3 1l1 3l4 4l0 2l8 6l0 4l-4 4l1 1l8 0l2 2l4 0l2 -2l4 0l2 2l6 0l4 -2l8 4l6 6l4 0l2 4l4 2l4 0l6 4l6 0l4 2l4 6l6 2l10 10l4 -2l18 0l1 3l9 7l10 0l3 3l2 4l-2 2l0 4l-8 6l0 4l-2 2l0 6l4 4l-2 4l-5 5l-4 0l-5 7l2 2l-2 2l4 8l-8 2l0 6l8 4l-7 1l-2 -2l-4 0l-2 2l-4 0l-3 3l0 2l-5 3l-8 0l-1 7l2 2l-1 1l-10 0l-3 3l2 2l-2 2l0 4l2 4l-7 7l-5 -1l2 -2l-2 -2l0 -4l-3 -3l-5 -1l3 -1l1 -1l-1 -1l-11 3l0 2l4 4l-2 6l5 1l4 -2l1 3l6 4l-8 4l1 3l4 0l3 3l-7 1l-1 1l2 2zM-223 -64l-6 -2l-5 -5l0 -2l9 -1l2 -2l9 7l-3 3l-4 0zM-71 -66l-1 -1l1 -3l1 1zM-207 -62l-4 0l-3 -3l7 -1l1 1zM331 -52l-1 -1l1 -1l1 1zM-255 -48l-3 -1l3 -1l1 1zM238 -29l-1 -1l-1 1l1 1zM337 -14l-3 -1l1 -3l7 1zM339 16l-2 -2l-10 0l-1 -1l3 -1l2 -4l7 -3l-3 -3l-6 0l-3 -3l2 -2l-6 -2l1 -3l4 -2l4 0l2 2l6 0l1 1l-2 2l3 3l5 1l-2 2l4 4l-6 4zM287 12l-2 0l-9 -7l7 -1l1 3l4 4zM62 23l0 -2l4 -4l-9 -5l-4 0l-2 2l-8 0l-3 3l1 3l4 0l2 2l6 0l2 2zM301 18l-4 0l-4 -2l-1 -3l5 -1l4 2l1 1zM19 18l-3 -1l3 -1l1 1zM54 39l2 -2l-1 -3l-5 3l3 3zM60 37l-1 -1l-1 1l1 1zM379 42l-1 -3l3 -1l1 1zM413 44l-3 -1l3 -1l1 1zM387 130l-8 0l-4 -4l-4 0l-2 -2l-6 0l-3 -3l0 -4l3 -1l1 -3l6 -6l-1 -5l-14 0l-7 5l2 2l-3 3l-4 0l-2 2l-6 0l-2 -2l-2 2l-18 0l-4 -2l-3 -3l4 -4l0 -4l-4 -8l3 -3l8 0l3 -5l-3 -1l-2 4l-5 -3l6 -4l0 -6l2 -4l4 -2l-4 -2l0 -4l5 -3l4 0l3 3l-5 1l-1 1l1 1l4 0l2 -2l12 0l4 -4l2 0l2 -4l9 -1l0 -2l-4 -4l3 -3l6 4l6 0l4 -2l2 4l14 0l5 -5l1 -3l4 0l1 1l-1 1l-3 1l5 5l6 0l4 -2l5 9l0 4l-4 4l0 2l4 4l0 2l10 10l0 10l2 4l6 6l-3 5l-10 0l-4 4l-8 0l-2 2l-6 0l-4 2l-1 7l-5 1zM135 58l-5 -1l5 -1l1 1zM34 63l-1 -1l-1 1l1 1zM-105 76l-3 -1l3 -1l1 1zM147 84l-1 -1l1 -1l1 1zM86 95l2 -2l-1 -1l-12 0l-3 3l1 1l12 0zM316 95l-1 -1l-1 1l1 1zM17 100l-7 -1l7 -1l1 1zM34 103l2 -2l-5 -3l-5 3l1 3zM157 106l-3 -1l3 -1l1 1zM439 108l-1 -1l1 -1l1 1zM-174 127l-7 -1l-2 -2l-1 1l1 3zM471 130l-7 -1l9 -3l1 1zM79 130l-1 -1l1 -1l1 1zM-159 134l-3 -1l3 -1l1 1z"/><path fill="#b30000" fill-rule="evenodd" d="M79 -128l-2 -2l-5 -1l9 -1l1 1zM123 -80l-4 0l-3 -3l0 -4l4 -4l0 -2l-4 -2l-2 -6l-5 -3l-6 0l-4 -4l-4 0l-1 -5l-2 -2l4 -2l-7 -1l-4 -4l-6 -2l-1 -1l3 -3l8 0l2 2l6 0l1 7l5 5l8 0l2 2l16 0l2 2l4 0l2 6l8 0l3 3l-6 4l2 2l-1 1l-4 0l-4 4l-6 2l-1 3l-3 1zM311 -122l-5 -1l3 -3l3 3zM117 -116l-11 -3l9 -1l3 3zM39 -102l-8 0l-2 -2l-6 0l-4 -4l-12 0l-2 -2l-1 1l2 2l-3 3l-2 0l-8 -4l-6 0l-1 -3l3 -1l2 2l6 -4l6 0l2 -2l10 2l2 -2l4 0l4 -2l1 1l-3 3l-2 0l-3 3l15 3l4 4l3 1zM315 -114l-6 0l-1 -3l7 -1l1 1zM-21 -102l-3 -1l-2 -6l7 -3l3 3zM319 -102l-5 -5l1 -1l4 0l5 3zM107 30l-10 0l-4 -4l-6 0l-2 -2l-4 0l-1 -5l-4 -2l5 -1l1 -3l-5 -3l-4 0l-4 -2l-2 -4l-6 0l-3 -3l2 -2l-3 -1l-5 -5l0 -2l-7 -5l-10 0l-2 2l-6 -6l-2 2l-16 0l-4 -4l-16 0l-2 -2l-4 2l-2 -2l-14 0l-1 -1l2 -2l0 -4l-2 -4l4 -2l-5 -1l-1 -3l4 -2l-6 -4l2 -2l-3 -3l-11 -5l0 -6l-4 -2l-4 -8l0 -4l7 -5l4 0l6 4l4 6l4 0l4 2l1 1l-4 4l5 3l3 -5l3 -1l4 -4l6 0l2 -2l8 0l4 -4l8 0l1 -1l-3 -3l-5 -1l2 -4l-2 -2l7 -3l2 -4l16 0l4 4l2 -4l5 -3l1 -5l4 0l2 2l12 0l6 -4l6 0l2 2l12 0l1 -1l-5 -1l-1 -1l1 -1l9 1l-7 9l-6 0l-2 2l-4 0l-2 -2l-20 0l-2 2l-6 0l-5 3l3 5l4 0l2 2l6 0l1 1l-2 2l0 4l3 3l4 -4l1 1l0 4l-4 2l0 4l6 4l0 4l-3 1l-1 3l3 1l4 4l2 0l2 4l6 0l2 -2l8 0l2 -2l6 0l2 -4l4 0l2 -2l4 0l4 -2l3 -5l0 -4l-3 -1l-1 -3l7 -5l8 6l3 -3l0 -4l3 -1l3 3l-2 2l0 4l3 5l2 0l4 -4l3 -1l2 -4l-2 -2l1 -1l8 -4l4 2l4 0l2 2l4 0l5 7l-6 4l0 4l-5 7l-6 2l-4 4l-8 4l-14 0l-1 1l1 1l18 0l2 -2l3 1l-4 6l0 6l-4 2l2 2l0 4l-8 8l0 2l-12 8l0 6l-3 1l-5 5l-1 3l-4 0l-11 7l0 4l10 8zM211 -66l-10 0l-1 -3l-5 -1l-4 -6l-6 0l-4 -6l-2 2l-7 -5l7 -1l1 -3l-4 -2l5 -1l4 -4l14 0l2 2l4 -2l4 0l4 4l6 0l1 -1l-2 -4l1 -3l2 0l4 6l2 0l4 -4l4 2l2 -2l2 2l4 0l2 -2l4 4l10 0l1 1l-1 3l-4 0l-2 2l-4 -4l-6 0l-2 2l-6 0l-2 2l-4 0l-2 -2l-4 2l-3 3l6 6l-6 4l-3 7l-4 0zM321 -76l-12 0l-9 -7l0 -4l11 -9l2 0l2 -4l8 0l6 6l4 -2l1 1l0 4l-2 4l-7 3zM57 -92l-3 -1l3 -1l1 1zM-3 -86l-1 -1l1 -1l1 1zM105 -74l-5 -1l3 -3l4 0l1 1zM-283 -56l-8 -8l-2 0l-3 -3l5 -1l4 4l2 0l3 3zM-249 -58l-7 -1l0 -2l4 -4l1 -3l2 2l2 -2l1 1l0 6zM105 -66l-3 -1l3 -1l1 1zM211 -24l-4 -2l-4 0l-1 -1l2 -2l-4 -4l0 -2l3 -3l7 -1l-2 -4l2 -4l-2 -2l4 -4l0 -2l-6 -6l5 -3l8 0l2 2l6 0l2 -2l1 9l-6 8l0 2l4 2l0 2l-5 1l-2 -4l-6 0l-1 1l3 3l5 1l-3 1l-4 4l-5 1l2 2l-2 2l2 4zM128 -47l-3 -15l-12 0l-1 1l-2 4l1 3l4 0l6 6l4 2zM-241 -36l-3 -1l0 -4l-4 -6l1 -1l10 2l3 3l-3 1zM-28 -45l-1 -1l-1 1l1 1zM-205 -32l-4 0l-3 -3l3 -1l4 2l1 1zM-191 -28l-4 0l-3 -3l3 -3l5 5zM108 -17l3 -1l1 -3l3 -1l3 -5l-4 -4l-1 -3l-8 0l-5 3l0 8l-2 2l5 5zM-177 98l-6 -2l-7 -7l0 -4l8 -6l0 -4l-9 -7l-4 0l-2 4l-10 0l-1 -1l2 -2l-3 -1l-3 -3l0 -2l8 -6l-3 -5l-5 -1l0 -2l-6 -6l0 -4l-6 -4l3 -3l5 -1l-2 -2l1 -3l4 2l9 -1l-6 -2l-3 -9l-3 1l-1 5l-6 0l-4 -2l-1 -1l3 -3l6 0l1 -3l-7 -9l-6 0l-4 2l-3 -3l0 -10l5 -3l6 0l4 -2l5 -5l5 -13l8 0l2 4l4 0l1 1l-2 4l2 2l1 5l9 -1l0 -6l-4 -2l3 -3l12 6l4 0l1 1l-2 4l1 1l18 -2l11 11l0 4l5 1l3 3l-1 3l-6 0l-4 4l-6 0l-4 4l-4 0l-2 -2l-2 2l-4 0l-6 6l-10 2l-3 3l21 3l1 1l-1 7l-2 0l-4 -4l-2 0l-3 3l3 1l2 4l4 0l3 3l-6 2l1 1l12 0l2 2l4 0l4 2l5 5l0 4l-2 2l9 1l1 5l10 10l0 2l-7 1l-1 5l-7 5l-2 -2l-6 0l-4 -4l-6 0l-2 2l-4 -4l-2 0l-7 7l2 2zM84 1l5 -1l3 -3l0 -6l2 -2l-4 -2l0 -4l-3 -3l-2 0l-3 3l2 2l0 4l-6 4l0 2l6 4l-4 2l1 1zM-11 -16l-1 -1l1 -1l1 1zM-180 -15l-1 -1l-5 1l1 1zM-198 -11l-1 -1l-5 1l1 1zM-192 -3l4 -2l-1 -5l-2 0l-1 3l-6 4l1 1zM87 -8l-1 -1l1 -1l1 1zM-109 48l-6 0l-1 -1l1 -1l5 -3l-7 -1l-5 -5l2 -2l-4 -4l0 -2l3 -3l5 -1l0 -2l-4 -2l2 -2l0 -6l2 -4l-9 -1l-3 -3l1 -3l14 0l4 6l4 0l4 2l5 5l0 4l-8 10l2 2l-2 4l0 6l-4 4zM-147 14l-1 -1l1 -1l1 1zM-200 17l-1 -1l-1 1l1 1zM-227 26l-3 -1l1 -3l3 1zM-123 24l-1 -1l1 -1l1 1zM41 62l-7 -1l3 -11l5 1l-2 4l2 2zM65 98l-12 0l-2 -2l-4 0l-1 -5l-2 -2l1 -5l7 -1l-2 -4l0 -4l2 -2l-2 -2l4 -2l-4 -2l-2 -4l0 -4l3 -1l4 -4l3 1l-2 2l1 1l7 -1l-1 -3l-6 -2l-1 -1l1 -1l6 0l4 2l6 6l2 0l2 -4l1 3l4 2l-10 6l2 2l0 6l-5 1l-1 1l1 3l4 0l6 4l4 -4l4 4l9 1l-1 3l-12 0l-2 -2l-10 2l-3 3l-2 4l2 2zM-117 66l-2 -2l-4 0l-3 -3l3 -1l1 -3l5 -5l2 0l1 7l-2 2zM371 56l-5 -1l5 -1l1 1zM383 124l-2 -2l-10 -2l-3 -3l2 -4l4 -2l2 -4l-2 -2l0 -4l-4 -2l5 -1l1 -1l-1 -3l-6 0l-4 6l-4 -2l-4 0l-2 2l-8 0l-2 2l-6 0l-1 -1l1 -1l7 -3l0 -2l-6 -6l0 -2l4 -2l-3 -3l-6 0l-4 -2l-3 -3l2 -2l-4 -2l3 -3l4 0l2 -2l18 0l1 -1l-2 -2l3 -1l4 -4l12 0l4 -4l8 0l2 2l18 0l2 2l4 -2l3 3l-4 8l-9 1l-1 3l7 1l2 -2l8 0l1 3l4 2l0 4l4 2l0 10l2 2l-2 4l4 6l-3 3l-6 0l-2 2l-4 0l-4 4l-14 0l-6 4l-6 0l-1 1l1 1l3 1zM115 74l-6 0l-3 -3l3 -3l4 2l3 3zM396 71l-1 -1l-1 1l1 1zM101 80l-3 -1l1 -3l3 3zM-162 79l-1 -1l-1 1l1 1zM-189 106l-7 -3l0 -6l5 -3l3 1l-2 4l0 4l2 2zM-181 104l-2 0l-3 -3l3 -1l3 3zM384 115l-1 -3l-3 1l1 3z"/><path fill="#7a0177" fill-rule="evenodd" d="M-5 -108l-1 -3l5 -3l18 0l1 1l-5 3l-2 -2l-8 0zM-21 -104l-3 -1l1 -5l5 1l0 2zM233 -90l-10 -2l-5 -5l3 -1l4 4l4 0l4 -2l1 1zM205 -68l-10 -4l-4 -6l-6 2l-4 -6l-4 0l-5 -3l7 -1l3 -3l0 -2l7 -5l4 2l6 0l9 7l0 4l2 2l-2 4l0 4zM241 -90l-5 -1l1 -5l10 0l3 3l-3 1l-2 -2zM259 -90l-6 0l-1 -3l7 -1l1 1zM329 -86l-4 0l-4 -4l-2 0l-1 -3l1 -1l14 0l1 3zM137 -44l-9 -1l0 -8l-2 -2l0 -6l3 -3l4 2l7 -7l2 -6l5 -3l4 0l2 2l8 0l5 5l0 4l-4 2l0 4l-5 5l-6 2l-6 6l-4 0zM-283 -58l-2 0l-6 -6l-2 0l-1 -3l3 -1l9 9zM-249 -58l-5 -1l3 -7l5 1l-2 2zM9 -50l-10 0l-2 -2l-6 0l-2 2l-3 -3l0 -6l3 -1l2 2l6 -6l6 0l10 6l2 -2l7 1l2 4l-1 1l-6 0zM225 -48l-8 0l-3 -5l0 -4l3 -1l2 -4l2 2l6 0l2 -2l1 1l-2 6l-4 4l2 2zM95 16l-3 -3l2 -4l-4 -8l4 -2l0 -10l-2 -2l0 -4l-6 -6l2 -4l0 -6l4 -8l-2 -4l5 -5l2 0l2 -4l10 -2l15 11l-2 2l1 3l2 -2l18 2l1 7l-6 4l4 4l0 2l-5 5l-2 0l-8 10l-2 0l-5 5l0 4l-9 9l-4 0zM-241 -36l-3 -1l2 -4l-2 -2l1 -3l4 0l3 3l-4 4zM11 -28l-2 -2l-8 0l-2 2l-4 0l-2 -2l-10 0l-1 -3l-4 -4l0 -4l-2 -2l3 -3l16 8l4 0l2 -2l2 2l10 0l4 -4l2 2l5 1l-1 7l-6 0zM57 -38l-3 -1l3 -1l1 1zM39 -26l-10 0l-1 -3l7 -5l8 0l2 -4l8 0l2 2l4 -2l12 0l1 1l-1 3l-5 1l2 2l-1 1l-4 0l-2 2l-2 -2l-6 0l-4 -2l-2 2l-4 0zM108 -17l5 -1l5 -3l0 -6l-5 -7l-8 0l-2 2l-5 1l0 10l2 4l1 1zM75 -4l-4 0l-4 -4l-2 2l-4 0l-4 2l-3 -3l0 -4l-3 -1l-1 -3l1 -1l16 0l2 2l2 -4l2 2l8 0l1 7l-5 1zM-171 4l-4 -2l-4 0l-4 2l-2 -4l-3 -1l9 -5l4 0l1 -1l-2 -2l1 -1l4 2l8 -6l4 0l2 -2l2 0l9 11l-1 5l-4 0l-4 -4l-6 0zM-213 4l-6 -2l-5 -7l0 -4l5 -5l2 2l4 0l3 5l0 4l-4 2l2 2zM-107 26l-2 -2l-4 0l-1 -3l-4 -4l0 -2l3 -3l10 -2l5 3l0 4l2 2l-7 1zM-173 84l-5 -3l0 -6l-5 -3l-2 -4l-8 -6l-7 -7l-1 -3l-6 -2l-3 -3l0 -2l-6 -6l1 -7l3 1l0 4l3 3l2 0l1 3l7 7l2 -2l4 4l2 0l2 6l6 2l4 -4l2 0l2 4l2 -2l2 2l4 0l3 3l-2 2l2 6l-6 6l2 2zM39 60l-3 -1l1 -9l5 1l-2 2zM417 100l-2 0l-4 -4l-6 -8l-6 0l-2 -2l-2 2l-6 0l-4 2l-1 -5l2 -4l5 -3l4 0l2 -2l8 0l6 -4l4 0l1 3l4 4l0 2l4 2l-2 4l0 8zM-191 98l-1 -1l1 -1l1 1zM-191 104l-2 0l-3 -3l1 -3l2 0l3 3z"/><path fill="#fdbb84" fill-rule="evenodd" d="M-117 -256l-5 -3l5 -5l4 2l6 0l2 -2l3 1l-1 3l-10 0zM-201 -256l-3 -3l1 -1l5 1zM-189 -258l-1 -1l1 -1l1 1zM-185 -252l-9 -1l3 -3l6 -2l1 1l-2 2l2 2zM-155 -200l-8 -4l-4 0l-2 2l-12 0l-5 -5l0 -4l2 -2l-1 -3l-6 0l-8 6l-20 0l-6 -4l-4 0l-1 -1l2 -4l-5 -3l-12 0l-2 2l-4 0l-1 -3l2 -2l-3 -3l-6 -2l-1 -3l5 -5l4 -2l4 0l4 -4l20 0l1 -7l-2 -2l5 -1l2 -2l4 2l14 0l9 5l0 4l-2 2l1 1l4 0l8 4l10 0l2 -2l10 0l8 -4l12 0l2 -2l8 0l1 -3l-5 -1l-1 -1l1 -3l8 0l2 4l4 0l2 -4l6 0l4 -2l1 5l-3 1l-3 3l0 2l7 11l6 0l3 3l-1 1l-10 0l-3 3l4 4l-5 1l-2 2l-2 0l-4 -4l-2 0l-4 4l-10 0l-4 6l-4 0l-2 4l-4 0zM-171 -242l-2 0l-3 -3l7 -1l1 -3l3 -1l1 5l-5 1zM117 -230l-4 0l-3 -3l0 -2l7 -1l3 3zM-242 -229l-1 -1l-1 1l1 1zM299 -216l-2 0l-1 -3l7 -3l1 1zM-233 -216l-10 0l-1 -1l3 -3l2 0l2 2l4 0l1 1zM367 -192l-4 0l-6 -4l-4 0l-1 3l-3 1l-2 -4l-9 -1l0 -2l4 -2l-1 -1l-12 0l-4 -4l-6 0l-2 2l-12 0l-1 1l2 2l0 4l-3 1l-2 -4l-6 0l-12 -6l-3 -3l0 -8l-8 -2l9 -1l4 4l4 -2l6 4l4 0l2 -2l6 0l4 -4l12 0l4 6l6 0l5 5l1 3l6 0l4 4l1 -1l-2 -2l3 -3l4 0l3 3l-2 2l1 1l10 0l2 2l4 0l2 -2l3 1l2 4l-1 1l-4 2l-6 0zM-289 -180l-16 0l-1 -1l2 -2l-1 -3l-2 0l-2 4l-4 0l-1 -1l2 -2l-3 -5l-6 0l-6 -4l-4 2l-6 0l-2 2l-6 -2l-1 -5l-2 -2l5 -1l3 -3l-2 -2l0 -6l-2 -4l5 -1l2 -2l16 0l8 4l4 -4l2 0l6 4l6 -2l1 1l-2 2l1 1l12 0l2 4l2 0l4 4l6 0l1 1l-3 5l-4 2l-4 0l-5 5l-1 3l-7 1l1 3l2 -2l7 1zM275 -204l-4 -2l-4 2l-4 0l-2 -2l-7 -1l3 -3l8 0l1 -1l-2 -2l1 -1l6 0l2 -2l5 3l-2 2zM-349 -208l-1 -1l1 -3l1 1zM-304 -211l-1 -1l-1 1l1 1zM306 -209l-1 -3l-3 3l1 1zM349 -208l-5 -1l3 -3l2 0l1 1zM-231 -208l-3 -1l3 -1l1 1zM385 -198l-3 -1l1 -3l3 1zM-147 -182l-4 -4l-5 -1l5 -1l4 -4l6 2l1 1l-1 1l-7 1l2 2zM-349 -184l-1 -1l1 -1l1 1zM-155 -164l-6 0l-4 -6l-2 0l-2 4l-4 0l-4 -2l-1 -1l2 -4l-4 -4l3 -3l6 -2l2 -4l2 2l12 0l6 6l10 0l2 -4l3 3l-3 5l-6 0l-2 2l-4 0l-1 1l2 2l-1 1l-6 0l-1 1l2 2zM-139 -182l-1 -1l1 -1l1 1zM279 -100l-2 -8l-4 0l-2 2l-6 0l-2 -2l-8 0l-2 -2l-6 0l-2 2l-2 -2l-14 0l-1 -1l2 -2l-1 -1l-7 -1l2 -2l-1 -1l-4 2l-10 0l-9 -9l0 -6l9 -1l1 -1l-2 -2l2 -2l-6 -2l3 -1l4 -4l2 0l4 -4l4 0l4 6l14 0l1 1l-3 3l-8 0l-3 3l5 1l2 -2l10 0l4 -2l2 4l8 0l5 5l2 4l0 4l4 4l1 3l4 2l10 0l1 1l-2 2l0 4zM211 -112l-1 -1l1 -1l1 1zM-157 176l-18 -4l-5 -5l-4 -8l3 -9l8 0l5 3l2 4l-3 3l-2 0l-1 3l5 5l4 0l7 7z"/><path fill="#ffff33" fill-rule="evenodd" d="M-113 -246l-4 0l-2 -2l-6 0l-1 -3l-4 -2l5 -1l4 4l6 0l2 -2l7 1l-3 1zM-167 -244l-1 -3l3 -3l1 3zM-171 -242l-3 -3l1 -1l3 1zM-211 -236l-16 0l-3 -3l1 -1l12 0l4 -2l3 5zM-155 -234l-3 -1l1 -5l8 0l2 -2l5 1l-1 3l-4 2l-6 0zM-171 -226l-6 0l-1 -3l3 -3l8 0l1 3zM-143 -212l-6 -4l-2 2l-1 -1l1 -9l4 0l9 7l0 2zM-337 -206l-1 -1l1 -1l1 1zM-323 -200l-2 0l-4 -4l-5 -1l5 -3l7 5zM-309 -182l-3 -1l0 -6l-2 -4l-6 -2l1 -3l7 3l2 4l0 4l2 2zM221 -140l-3 -1l1 -5l5 1zM211 -138l-1 -3l3 -3l2 0l1 1zM205 -124l-5 -1l1 -5l5 3zM247 -114l-4 -2l-6 0l-1 -3l5 -5l6 0l1 5l2 2zM279 -102l-1 -5l-2 -2l3 -3l2 0l1 7zM-159 176l-8 -4l-6 0l-4 -4l-3 -1l-4 -8l2 -2l1 -5l6 0l3 3l2 4l-2 2l0 4l3 1l2 4l4 0l4 2l1 1z"/></g>
<use href="#L" fill="none" stroke="#000" stroke-width="1.25" stroke-linejoin="round"/>
<use href="#G" fill="#fff" stroke="#000" stroke-width="1.25" stroke-linejoin="round"/>
<use href="#D" fill="#000"/>
</g>
<g transform="translate(531.5,1462.1)">
<g clip-path="url(#c)"><rect x="-456" y="-266" width="950" height="465" fill="#fdbb84"/><path fill="#fc8d59" fill-rule="evenodd" d="M-41 -196l-6 0l-3 -7l3 -3l2 2l3 -7l5 -5l3 -1l-4 -2l3 -3l6 0l1 3l4 2l0 6l-7 7l-2 0l-2 4l-4 0zM-17 -218l-1 -1l1 -1l1 1zM-13 -212l-1 -1l1 -1l1 1zM-19 -208l-1 -1l1 -1l1 1zM-23 -200l-5 -3l0 -2l3 -3l5 1l0 4zM-57 -198l-1 -1l1 -1l1 1zM-3 -188l-1 -1l1 -1l1 1zM107 -116l-6 0l-4 -4l-2 2l-1 -5l-1 -1l-4 2l-6 -6l-3 -1l-1 -5l-3 1l-1 5l-2 -2l-4 0l-4 2l-4 -6l-8 0l-3 3l2 4l-3 5l-2 -6l-2 2l-4 0l-5 -3l4 -8l0 -8l-5 -1l-2 -2l-2 0l-4 6l-4 0l-2 -2l-4 2l-2 -2l-10 6l-3 -3l0 -4l-3 -1l-1 -3l-4 -4l4 -4l-3 -1l-4 4l-3 -3l0 -4l-10 -10l4 -8l-5 -1l-1 -5l5 -1l4 2l4 -4l2 0l4 4l3 1l2 4l-2 2l0 4l3 3l4 0l2 2l6 0l8 -6l2 0l2 -6l8 4l10 -10l6 0l1 5l2 2l0 4l-2 2l1 1l6 0l2 2l4 -6l2 0l4 4l1 -1l-2 -2l3 -1l1 5l5 3l8 -6l3 3l1 7l4 -2l4 0l2 4l1 -5l3 -3l2 8l4 -2l1 3l5 3l6 0l2 2l4 -2l10 0l4 6l2 -2l3 5l0 4l-7 1l-2 4l-6 -2l-10 8l-4 -4l-4 -2l-1 1l2 4l-4 6l0 4l-4 4l2 2zM-277 -170l-4 -2l-3 -5l3 -3l5 3zM1 -172l-1 -1l1 -1l1 1zM-177 -148l-3 -1l3 -3l1 1zM-215 -106l-2 -2l-16 0l-3 -3l2 -2l-4 -4l0 -4l6 -4l-4 -2l2 -2l0 -4l1 -1l2 4l3 -1l-2 -2l0 -4l3 -3l2 2l2 -6l8 0l4 2l5 -5l0 -2l3 -1l1 1l-2 2l1 5l4 0l8 -4l10 0l5 3l-3 1l-1 5l-4 2l2 4l-1 1l-5 -1l2 -6l-3 -1l-1 3l-5 5l-4 0l-2 -2l-5 5l-1 3l-4 -2l-1 3l2 2l0 6l6 2l-3 3l-6 0zM151 -148l-1 -1l1 -1l1 1zM195 -126l-10 0l-1 -3l-4 -2l0 -4l-4 -4l7 -9l4 0l4 2l4 -4l2 4l4 -2l4 6l11 3l-5 7l-8 4l-4 -4zM-279 -146l-1 -1l1 -1l1 1zM-159 -142l-7 -3l5 -1l3 3zM-167 -138l-4 0l-3 -3l0 -2l5 -1l3 3zM213 -142l-3 -1l3 -1l1 1zM327 10l-5 -1l2 -4l-9 -9l-2 0l-3 -5l4 -6l-2 -4l2 -2l0 -6l-3 -1l-4 -4l-2 0l-1 1l4 4l-3 3l-2 0l-4 -4l-4 4l-2 0l-1 -3l-12 -12l2 -2l-4 -6l0 -10l2 -2l-2 -4l3 -3l10 0l3 -3l-4 -2l-2 -4l0 -4l2 -4l4 -2l-2 -2l4 -4l-6 -4l2 -4l-5 -1l-2 -2l-1 -5l-2 -2l3 -5l7 -1l0 -2l-6 -4l3 -1l2 -4l4 0l3 -3l0 -4l7 -7l4 -2l1 3l-2 2l5 1l2 2l6 0l4 8l2 0l4 -4l6 8l4 -4l3 5l-1 5l-4 0l-8 -4l-4 0l-3 3l0 8l3 3l10 2l3 3l0 2l-2 2l0 4l-10 10l0 8l-3 3l-8 0l-1 3l2 4l-8 2l-2 4l0 4l-2 2l0 4l2 2l-4 4l5 3l7 1l0 4l2 2l0 10l5 1l2 2l4 -2l1 3l6 6l0 4l4 4l0 2l-4 2l-1 3l-7 3zM-281 -136l-3 -1l1 -3l3 1zM-173 -134l-1 -1l1 -1l1 1zM327 -132l-1 -1l1 -3l1 1zM5 -130l-1 -1l1 -1l1 1zM314 -131l-1 -1l-1 1l1 1zM379 -106l-3 -7l-6 -6l0 -2l-4 -2l3 -7l6 0l4 4l2 0l1 3l3 1l3 5l0 2zM-289 -114l-2 0l-1 -3l-4 -2l5 -7l6 0l1 5zM281 -124l-1 -1l1 -1l1 1zM318 -125l-1 -1l-1 1l1 1zM-243 -122l-1 -1l1 -1l1 1zM89 -116l-1 -1l1 -1l1 1zM363 -112l-1 -1l1 -1l1 1zM59 -102l-1 -1l1 -5l1 1zM277 -90l-4 -2l-4 2l-16 0l-2 -2l-14 0l-1 -3l4 -4l0 -2l-5 -1l-1 -5l1 -1l4 4l2 0l2 4l2 0l4 -4l8 4l14 0l9 7zM-235 -104l-1 -1l1 -1l1 1zM57 -94l-2 0l-3 -3l1 -3l4 0l4 2l1 -1l-2 -2l3 -1l3 3l-1 3l-6 0zM71 -98l-1 -1l1 -3l1 1zM87 -86l-6 0l-2 -4l-4 4l-2 0l-3 -3l0 -4l-2 -2l7 -3l4 -4l6 0l7 7zM223 -98l-1 -1l1 -1l1 1zM229 -94l-3 -1l3 -1l1 1zM57 -90l-1 -1l1 -1l1 1zM-273 -70l-5 -7l2 -2l-2 -2l2 -4l-2 -2l3 -3l2 2l4 0l4 4l3 1zM-272 -85l-1 -1l-1 1l1 1zM109 34l-2 0l-1 -5l-6 -4l-1 -7l-10 0l-4 -4l-2 2l-4 0l-2 6l-2 0l-4 -4l-2 2l-6 -2l-4 -6l-2 0l-1 1l2 2l-9 7l-5 -1l2 -4l-1 -1l-6 2l-7 -7l0 -8l5 -1l5 -3l-4 -6l2 -2l0 -8l2 -2l-4 -8l1 -1l2 2l1 -3l-6 -4l0 -4l-3 -1l-2 2l-6 0l-2 2l-8 -4l-4 4l-1 -5l-3 -1l-1 3l2 2l-3 3l-2 0l-2 -6l-4 0l-6 -6l-2 2l-2 -4l-6 0l-4 -4l-4 4l-8 0l-2 2l-3 -1l-1 -7l-2 4l-6 0l-1 -1l0 -10l-2 -2l0 -10l4 -2l0 -4l7 -1l2 -2l4 0l2 2l4 -6l2 2l4 -2l2 2l4 0l4 6l5 1l1 5l4 0l4 4l2 0l4 -4l2 4l4 -2l2 4l3 -3l1 -5l1 5l5 5l6 -2l8 4l4 -2l4 0l2 2l4 -2l2 -6l2 0l8 -6l4 0l2 2l14 0l1 -1l-2 -2l1 -1l6 0l2 2l4 0l1 5l2 2l-2 4l2 4l1 1l2 -2l3 3l0 4l4 2l-2 4l4 8l-4 2l0 6l5 3l1 -1l-2 -2l0 -6l3 -3l2 0l2 4l6 0l2 -2l3 3l-1 3l-2 -2l-1 1l0 14l-4 4l2 2l-8 8l0 4l-3 1l-1 3l-3 1l-7 7l6 4l-2 4l2 2l0 4l4 4zM131 -36l-5 -5l2 -4l-7 -7l-1 1l2 4l-1 1l-2 0l-3 -3l2 -4l-6 -4l0 -4l-2 -2l3 -1l2 2l6 -6l4 0l1 -7l3 -5l1 3l5 5l4 2l4 -2l6 4l4 -2l2 -4l6 0l2 2l4 -2l1 5l-4 4l0 2l-3 3l-10 0l-2 2l-4 0l-5 5l0 6l-6 4zM-281 -74l-1 -1l1 -1l1 1zM94 -69l-1 -1l-1 1l1 1zM119 -68l-1 -1l1 -1l1 1zM-235 -26l-5 -1l2 -2l-2 -2l0 -4l-6 -6l0 -2l-8 -4l0 -8l-5 -1l-3 -5l1 -7l8 4l2 -2l5 1l0 4l-2 2l2 2l-2 4l1 1l4 -2l1 1l-2 2l2 2l0 4l7 3l7 9l0 2l-3 1zM-189 -60l-2 -2l-4 0l-3 -3l3 -3l6 0l3 3zM124 -61l-1 -3l-3 3l1 1zM169 -62l-3 -1l3 -1l1 1zM219 -26l-3 -3l0 -8l-2 -2l2 -2l-2 -2l0 -4l-6 -4l0 -6l3 -3l4 0l2 2l6 0l2 4l4 0l1 1l-2 2l2 2l0 4l4 2l-4 2l0 4l4 4l-7 3l-2 -4zM-42 -55l-1 -3l-1 3l1 1zM163 -56l-1 -1l1 -1l1 1zM222 -55l-1 -1l-1 1l1 1zM-46 -51l-1 -1l-1 1l1 1zM226 -49l-1 -1l-1 1l1 1zM235 -48l-1 -1l1 -1l1 1zM284 -47l-1 -1l-1 1l1 1zM-173 62l-4 -6l-4 2l-10 -2l-5 -5l0 -2l-4 -2l-1 -3l-8 0l-2 -2l-6 0l-1 -5l-2 -2l0 -6l-10 -6l0 -6l-2 -2l0 -4l6 -12l-2 -2l2 -2l-2 -2l1 -5l4 0l8 -6l2 0l4 4l10 2l4 4l1 -5l1 -1l2 2l1 -1l2 -10l-6 -4l3 -1l1 -1l-1 -1l-12 0l-2 2l-6 0l-2 2l-3 -1l6 -4l-2 -4l5 -7l4 2l6 0l1 3l5 3l2 -2l2 2l4 0l2 6l4 -4l2 0l8 10l2 0l8 6l4 0l1 1l-2 4l3 5l2 -2l4 6l4 0l2 2l5 1l2 6l-1 1l-2 -2l-1 1l1 5l6 2l2 -2l4 0l4 -8l2 6l4 -6l4 0l1 7l6 2l0 2l-4 2l2 4l-2 4l2 4l-2 2l0 6l-2 2l0 8l-4 6l2 4l-1 1l-4 0l-3 -5l0 -4l2 -2l-6 -2l4 -6l-4 -4l2 -2l0 -10l-1 -1l-4 2l-4 0l-4 -4l-2 2l-6 0l-2 2l-6 -4l-4 2l-2 -2l-4 0l-4 -2l-1 3l2 2l0 8l2 2l0 6l-2 4l4 2l0 8l5 1l1 3l-3 3l-6 0l-4 -2zM139 -36l-1 -1l1 -1l1 1zM135 -28l-3 -3l5 -5l1 5zM17 -30l-3 -3l1 -1l3 1zM46 -31l-1 -1l-1 1l1 1zM35 -26l-1 -1l1 -3l1 1zM-221 -24l-3 -1l3 -1l1 1zM335 -24l-3 -1l3 -1l1 1zM48 -21l-1 -1l-1 1l1 1zM78 13l-1 -1l-3 1l1 1zM-122 15l-1 -1l-1 1l1 1zM-224 21l-1 -1l-1 1l1 1zM-161 22l-1 -1l1 -1l1 1zM39 22l-1 -1l1 -1l1 1zM-151 24l-1 -1l1 -1l1 1zM105 60l-9 -5l-2 -4l2 -2l-2 -2l0 -4l3 -1l2 2l1 -5l5 -5l2 2l6 -2l1 3l-2 4l-3 3l-2 0l-3 5l6 4l-1 3l-2 -2l-1 1zM93 42l-1 -1l1 -1l1 1zM89 44l-1 -1l1 -1l1 1zM-123 50l-1 -1l1 -3l1 1zM-149 52l-5 -1l5 -1l1 1zM-149 56l-1 -1l1 -1l1 1zM415 76l-1 -1l1 -3l1 1zM429 100l-7 -3l2 -6l-6 -6l2 -2l-2 -6l3 -3l4 2l2 -2l3 1l0 10l8 8l-1 5l-1 -3l-5 -3l-1 3l2 2zM415 82l-1 -1l1 -3l1 1zM-185 122l-7 -5l2 -4l-6 -4l2 -2l-1 -1l-5 -3l0 -4l5 -3l4 0l2 2l2 -2l1 1l0 4l-2 4l2 2l0 6l1 1l2 -2l1 1l0 6zM475 122l-1 -1l1 -3l1 1zM471 128l-3 -1l3 -3l2 0l1 1zM463 128l-1 -1l1 -1l1 1zM473 132l-1 -1l1 -1l1 1zM455 138l-3 -3l3 -3l1 1zM463 136l-3 -1l1 -3l3 1zM449 136l-1 -1l1 -1l1 1zM433 138l-1 -1l1 -1l1 1zM435 142l-1 -1l1 -3l1 1zM469 142l-3 -1l3 -1l1 1zM431 152l-1 -5l3 -5l5 3l0 4l-1 1l-2 -2zM445 150l-2 0l-3 -5l3 -3l2 2l5 1l-3 1zM421 152l-1 -1l1 -1l1 1zM419 154l-1 -1l1 -1l1 1z"/><path fill="#e34a33" fill-rule="evenodd" d="M27 -152l-2 -2l-4 2l-4 0l-1 -5l3 -3l6 2l6 -6l6 0l1 3zM239 -94l-1 -1l1 -1l1 1zM249 -92l-3 -3l1 -1l3 1zM133 -54l-1 -1l1 -1l1 1zM-213 -6l-1 -1l1 -1l1 1zM-173 54l-2 -2l-6 2l-2 -2l-10 -2l-1 -3l-5 -5l-6 2l-9 -7l0 -12l-12 -14l0 -6l9 -9l2 2l8 -4l4 4l2 -2l6 2l8 -6l2 2l4 0l2 -2l2 2l2 -2l1 1l0 4l4 2l-2 2l2 4l0 4l-1 1l-2 -2l-3 1l0 6l1 1l4 -2l1 1l0 6l-2 2l6 12l0 4l-2 2l0 6l-4 2zM-151 6l-10 0l-1 -7l3 -3l10 2l1 3zM-147 14l-2 -2l-2 2l-4 0l-1 -5l9 -1l3 3z"/><path fill="#ffff33" fill-rule="evenodd" d="M-121 -258l-3 -1l1 -5l3 3zM-119 -256l-1 -1l1 -1l1 1zM-149 -220l-4 -4l-2 2l-4 -4l-3 -1l4 -4l1 -3l10 -2l5 -5l4 -10l3 -3l2 2l2 -2l10 -2l2 2l6 0l3 3l-1 3l-4 -4l-9 9l2 4l-1 3l-2 -2l-2 2l-4 0l-2 -2l-3 3l0 2l4 2l-5 1l-2 4l-4 -2l-1 1l3 1l1 3l-7 1zM-134 -249l-1 -1l-1 1l1 1zM33 -240l-4 0l-1 -3l-4 -2l9 -1l2 -2l1 3zM313 -166l-10 0l-2 -4l-6 0l-1 -3l2 -2l-5 -7l-2 2l-2 -2l-8 0l-2 -4l-3 1l0 6l-5 3l-2 -2l-2 2l-4 -2l-4 2l-4 -4l-2 2l-4 -4l-4 0l-2 -6l-9 -1l4 -2l0 -4l-3 -1l-2 -4l-4 4l-5 -1l2 -4l-1 -1l-10 4l-4 -4l-2 0l-5 -5l-1 -3l-4 0l-2 -2l-4 4l-2 0l-4 -4l-8 0l-1 -1l2 -2l-1 -3l-2 0l-1 3l-3 1l-1 -1l2 -4l5 -1l1 -5l2 -2l-1 -3l-2 2l-5 -3l3 -3l8 4l2 0l2 -4l2 2l10 0l4 -4l3 -1l-4 -6l1 -1l2 0l4 4l2 -2l6 0l6 4l2 -6l2 6l4 0l2 -4l4 4l12 0l3 3l0 4l3 3l5 -1l-4 -2l3 -3l4 0l2 4l4 0l8 6l6 -2l1 -3l3 -1l4 4l2 0l2 4l4 2l4 0l2 2l2 -2l6 0l2 -2l2 2l4 0l1 3l5 5l10 0l4 2l2 -4l2 2l6 -6l8 4l2 -4l2 2l4 0l2 -4l8 0l13 7l2 4l-3 3l-2 -2l-8 0l-2 2l-4 -4l-1 5l-3 1l-2 -2l-1 3l-7 7l-6 -2l-4 4l-6 0l-4 4l-4 0l-1 5l-6 4l-4 8l0 4l-1 1l-2 -2l-4 0zM111 -226l-4 0l-3 -3l0 -4l3 -5l4 0l8 -4l3 3l-3 1l-6 8l-3 1l2 2zM-267 -182l-6 -4l-8 0l-2 -2l-4 0l-2 -4l-2 2l-4 -6l-2 2l-10 -2l-2 4l-1 -7l-2 -4l-4 -2l-1 -5l-6 2l-1 5l-5 5l-4 0l-4 -2l-3 5l2 4l-3 3l-2 -4l-4 0l-4 -2l-1 -1l2 -2l-1 -1l-10 0l-3 -3l5 -1l2 2l4 0l1 -1l-4 -2l0 -2l1 -1l4 2l4 -6l5 -1l2 -4l4 -2l-4 -2l1 -3l4 0l2 2l8 0l2 -2l4 0l2 -12l4 0l1 1l-2 2l3 1l4 4l6 0l12 6l1 5l5 3l2 0l3 -3l1 -5l4 0l2 -2l14 0l1 -1l-6 -4l3 -1l2 2l1 -3l5 -3l4 4l4 -2l4 2l12 0l2 -2l2 2l4 0l4 -4l4 0l4 2l4 -2l1 -3l7 -5l2 0l3 3l-2 2l3 1l2 4l8 0l4 2l1 -3l-2 -2l3 -1l1 3l6 4l0 6l-5 5l-2 0l-4 6l-4 -2l-2 2l-6 0l-16 8l-4 0l-2 2l-6 0l-2 2l-6 -8l-2 0l-2 4l-2 -4l-4 0l-2 -2l-10 0l-3 5l2 4l-4 4l0 2l-3 1l-4 6zM201 -238l-1 -1l1 -1l1 1zM-223 -232l-1 -1l1 -1l1 1zM-127 -232l-3 -1l3 -1l1 1zM-289 -222l-1 -1l1 -1l1 1zM-298 -217l-1 -1l-1 1l1 1zM316 -217l-1 -1l-1 1l1 1zM258 -207l2 -6l-5 -3l-2 0l-4 4l-5 1l0 2l3 3l2 0l2 -4l4 4zM-351 -208l-1 -5l3 -1l1 3zM-173 -212l-1 -1l1 -1l1 1zM-336 -209l-1 -3l-1 3l1 1zM-332 -203l-1 -1l-1 1l1 1zM-245 -202l-1 -1l1 -1l1 1zM298 -195l-1 -7l-4 0l-3 3l7 5zM306 -199l-1 -3l-3 1l1 3zM320 -201l-1 -1l-1 1l1 1zM332 -201l-1 -1l-1 1l1 1zM360 -201l-1 -1l-1 1l1 1zM-221 -196l-3 -1l3 -1l1 1zM246 -191l-1 -1l-1 1l1 1zM302 -185l-1 -1l-1 1l1 1zM-257 -182l-1 -1l1 -1l1 1zM-269 -142l-4 -2l-2 -4l-3 -1l1 -3l6 0l5 5l0 2zM253 -70l-2 0l-4 -4l-4 2l-4 -4l-10 0l-2 -4l-8 0l-2 -2l-3 3l1 1l6 0l2 2l5 1l-7 1l-2 4l-2 -4l-6 -2l-1 -3l-5 -5l-6 -2l-5 -5l-1 -3l-14 0l-1 -1l0 -4l2 -2l-2 -2l0 -10l1 -1l2 2l2 -4l2 0l4 8l3 -3l-2 -2l1 -7l6 0l4 -6l8 0l4 2l1 -1l-2 -2l1 -1l7 -1l2 -10l7 -3l1 -3l3 -3l2 0l10 10l6 2l5 5l0 4l6 4l-2 2l-1 7l-4 -2l-2 2l-4 -2l-1 1l0 2l3 3l6 0l3 3l0 2l-1 1l-2 -2l-4 2l-2 -2l-6 0l-2 -2l-4 0l-5 -3l-3 -7l-6 0l-1 7l2 2l-2 4l1 1l4 -2l1 5l-3 1l-4 -2l-1 7l1 1l12 0l8 4l4 -2l4 0l4 2l1 3l-4 4l0 4l3 1l1 -5l3 -3l5 5l0 2l-5 1zM-301 -140l-4 0l-1 -3l5 -1l1 1zM-275 -142l-1 -1l1 -1l1 1zM242 -137l-1 -1l-3 1l1 1zM275 -100l-9 -5l0 -8l-4 -6l1 -1l6 0l7 5l0 14zM151 -98l-5 -1l1 -9l6 -2l2 2l9 1l0 2l-5 5l-4 -2zM240 -87l-1 -1l-1 1l1 1zM281 -84l-4 0l-1 -3l5 -1l1 1zM267 -82l-1 -1l1 -1l1 1zM265 -74l-1 -1l1 -1l1 1zM109 -34l-1 -1l1 -3l1 1zM421 28l-10 -2l-5 -3l-1 -3l-4 -2l-4 0l-2 -2l-2 0l-2 4l-1 -3l-4 -4l0 -2l5 -1l2 -4l4 0l6 4l6 0l2 2l4 0l3 3l0 4l6 6zM385 10l-1 -1l1 -1l1 1zM-197 58l-2 0l-2 -4l-4 -2l-4 0l-1 -3l-4 -4l5 -1l2 2l2 -2l4 0l1 3l4 4zM71 70l-3 -1l1 -5l3 1zM393 96l-8 0l-3 -5l2 -4l-9 -1l-5 -5l-1 -3l-4 4l-2 -2l-4 4l-2 0l-4 6l-4 0l-4 -4l-2 0l-2 6l-14 0l-5 -5l0 -6l4 -2l-2 -2l3 -3l4 0l6 -4l2 2l10 0l2 -2l4 0l4 -4l4 0l4 2l2 -2l14 0l2 -2l6 0l1 1l-2 4l2 2l0 10l2 2l0 12zM-181 70l-3 -1l3 -1l1 1zM-183 92l-2 -2l-4 0l-1 -5l-2 -2l2 -4l-2 -4l5 -1l2 -2l3 1l0 4l-2 2l6 6zM-145 108l-3 -3l0 -10l5 -9l4 -2l4 0l1 7l-6 8l0 6zM87 86l-1 -1l1 -1l1 1zM65 110l-2 0l-5 -5l1 -3l12 -6l2 -4l6 0l4 -6l2 0l5 5l-2 2l0 4l-7 7l-8 0l-2 2l-4 0zM-165 178l-6 -2l-3 -3l5 -1l5 5z"/><path fill="#2f86bd" fill-rule="evenodd" d="M219 -92l-8 0l-9 -11l3 -3l2 0l1 5l5 1l2 2l2 -4l5 5zM235 -88l-4 -2l-9 -1l3 -3l2 2l2 -2l6 0l1 1zM239 -90l-1 -1l1 -1l1 1zM255 -86l-6 0l-2 -2l-7 -1l7 -1l2 -2l4 2l3 3zM-137 90l-3 -1l3 -3l1 1z"/></g>
<use href="#L" fill="none" stroke="#000" stroke-width="1.25" stroke-linejoin="round"/>
<use href="#G" fill="#fff" stroke="#000" stroke-width="1.25" stroke-linejoin="round"/>
<use href="#D" fill="#000"/>
</g>
<g transform="translate(1535.6,1462.1)">
<g clip-path="url(#c)"><rect x="-456" y="-266" width="950" height="465" fill="#fdbb84"/><path fill="#fc8d59" fill-rule="evenodd" d="M383 140l-2 -2l-28 0l-2 2l-4 0l-2 -2l-32 0l-1 -1l2 -4l-2 -4l3 -1l1 -3l-6 -6l0 -2l4 -6l-4 -4l2 -2l-3 -1l-5 -5l7 -1l2 4l4 0l2 -4l4 0l4 2l1 -7l-13 -7l-4 2l-2 -2l-7 -1l1 -3l5 -1l4 -8l-1 -3l-6 0l-3 -3l2 -4l-2 -6l2 -4l5 -1l1 -3l-3 -1l-1 -3l-5 -5l-9 -3l2 -2l-1 -3l-6 2l-2 4l-4 0l-8 -4l-7 -7l2 -4l0 -4l2 -2l0 -6l2 -2l0 -12l-3 -3l-9 -1l6 -4l-2 -2l2 -2l-2 -2l6 -4l0 -2l-6 -4l7 -7l2 0l2 -4l4 -2l10 0l7 -9l0 -2l-5 -1l-3 -3l4 -4l-3 -3l-4 -2l-4 0l-2 -2l-10 2l-6 -6l-6 0l-5 3l1 3l6 0l2 -2l3 1l0 2l-3 3l-4 0l-5 5l2 2l0 6l4 2l-3 1l-4 4l-6 2l-9 13l5 5l5 1l-2 2l4 2l-3 1l-1 3l8 2l0 6l2 4l-4 8l2 2l-1 3l-4 2l-8 0l-2 -2l-4 0l-2 2l-2 -2l-4 0l-6 -4l-6 0l-2 -2l-2 2l-4 0l-8 4l-4 -2l-4 0l-2 -2l-3 1l2 2l-1 1l-6 0l-4 -4l-2 2l-2 -2l-4 2l-4 -4l-4 2l-9 1l0 6l1 1l10 0l3 3l0 6l-7 3l-3 3l-2 6l-9 9l-3 1l3 1l3 5l-2 4l2 4l-3 3l-5 1l0 4l2 2l-7 5l-8 0l-3 3l3 3l2 -2l5 1l-2 2l0 6l-3 1l-3 3l1 1l6 0l2 2l6 0l2 -2l3 1l-2 2l0 4l-10 10l3 1l2 -2l4 0l3 3l-3 3l-10 2l-2 -2l-6 0l-6 -4l-24 0l-2 2l-4 -2l-6 4l-2 -2l-6 0l-2 -4l-6 0l-2 2l-6 0l-2 2l-4 0l-4 -2l-6 4l-4 0l-2 -2l-6 0l-1 -1l1 -3l7 -1l-6 -4l2 -2l-4 -4l4 -2l-8 -8l-1 -3l-7 -3l2 -2l-2 -4l2 -2l0 -4l-4 -2l5 -1l2 -2l6 0l2 -6l10 0l1 -1l-11 -5l-2 -4l-4 0l-2 -2l-6 0l-2 -4l-5 -1l8 -8l0 -6l-12 -6l8 -2l0 -2l-4 -2l4 -2l-1 -9l-14 0l-2 2l-8 -4l-2 2l-10 0l-6 4l-2 -2l-4 0l-5 -3l1 -3l5 -1l2 -4l-1 -1l-2 2l-8 0l-1 -1l2 -4l-7 -7l-3 -1l3 -3l6 0l3 -5l-1 -3l-11 -3l4 -6l-4 -2l0 -4l4 -4l-2 -4l2 -2l-2 -4l-6 -4l4 -6l6 -4l-12 -2l6 -2l0 -8l2 -2l-2 -2l2 -2l-2 -2l0 -4l3 -3l4 2l12 0l1 -1l-2 -2l5 -1l3 -3l-6 -4l-1 -5l-5 -1l11 -13l7 -3l0 -2l-4 -4l0 -6l13 -3l5 -5l-2 -2l5 -1l7 -7l-2 -2l1 -7l4 0l4 2l2 4l16 0l4 4l4 0l6 -6l4 0l2 -2l2 2l8 0l6 4l10 2l1 1l-2 2l1 1l6 0l5 7l4 2l1 3l2 0l2 -4l4 2l8 0l2 -2l4 0l4 -4l5 3l-1 3l-5 1l6 8l0 2l3 3l8 0l10 6l10 0l4 -2l3 -5l-2 -2l1 -1l16 0l1 -1l-2 -2l-1 -7l-12 0l-1 3l-3 1l-1 -1l2 -2l-3 -3l-8 0l-3 -3l4 -4l-1 -1l-2 0l-2 4l-8 0l-2 2l-1 -3l2 -4l-4 -8l5 -1l9 -5l-3 -1l-2 2l-6 0l-2 -2l-6 0l-1 -3l3 -1l2 2l8 0l2 -6l10 2l2 -2l4 0l4 -4l14 0l2 -2l12 0l2 2l8 0l2 -4l7 -1l-11 -3l-4 -6l-6 0l-6 4l-8 0l-2 -2l-2 2l-4 -2l-8 0l-2 2l-4 0l-2 -2l-7 -1l4 -4l-5 -3l-4 2l-4 0l-4 4l-2 0l-6 -4l-10 0l-3 -3l0 -2l7 -1l2 -2l6 0l1 -1l-2 -2l1 -1l8 0l2 2l6 0l2 -2l4 0l4 -4l6 0l2 -2l10 0l1 -1l-2 -2l3 -3l6 0l2 -2l2 6l6 0l1 -3l-2 -2l3 -5l2 0l2 4l6 0l1 -5l3 -3l2 0l5 5l0 2l-5 5l-3 1l9 5l5 1l2 4l-2 6l6 4l0 4l2 2l-2 2l5 1l2 2l8 0l3 3l0 2l-9 3l-1 3l-4 2l-3 7l-14 0l-5 3l-1 5l-4 2l-6 0l-1 3l-4 2l2 4l-4 2l0 2l-3 3l-3 1l2 2l1 7l6 0l2 -2l4 0l7 5l-1 5l-11 3l4 2l-3 1l-1 1l1 1l6 0l2 2l6 0l2 2l4 0l3 7l3 3l8 4l4 0l4 -2l6 6l2 -2l2 2l6 0l2 -2l6 0l2 -2l5 5l0 4l3 1l1 3l5 1l2 2l2 -2l8 0l2 -2l4 0l7 -5l2 -6l-5 -5l-5 -1l0 -4l-6 -8l0 -2l9 -7l8 0l2 2l1 -1l-4 -6l3 -5l4 0l2 2l3 -1l-2 -2l0 -6l2 -2l-7 -3l-1 -3l-3 -1l-3 -3l0 -2l-6 -4l3 -3l8 0l1 -1l-2 -2l1 -3l14 0l2 2l4 0l1 5l15 11l8 0l2 2l4 -6l10 0l6 6l5 1l0 2l-4 2l1 1l9 3l-2 2l0 4l-1 1l-10 0l-2 -2l-6 0l-1 1l2 2l-5 5l-7 1l2 2l-1 1l-2 0l-2 -4l-6 0l-1 5l-3 1l-2 4l-7 3l0 4l2 2l-2 4l3 1l6 6l2 0l7 7l-3 1l-1 3l7 1l5 3l-7 7l-16 0l-2 2l-8 0l-3 3l2 2l-4 2l0 4l2 2l-2 2l0 4l3 3l10 0l2 2l12 0l4 4l4 0l2 -2l12 0l2 -4l10 0l4 2l3 3l-2 2l0 4l3 1l1 3l-10 2l4 2l-4 4l0 4l2 2l-2 2l3 3l2 -2l1 1l-2 4l4 6l-2 2l0 4l4 2l-3 3l-2 -2l-5 1l2 2l0 4l-2 2l2 2l-5 1l-5 5l2 10l3 3l14 -2l2 2l6 0l2 2l14 0l4 -4l20 0l2 2l6 0l3 3l0 2l-6 4l4 8l-6 4l0 2l4 2l-6 4l4 4l-2 4l5 7l4 -2l6 0l3 5l0 2l-3 3l-2 0l-1 -3l-3 -1l-1 3l2 2l-4 4l0 2l-6 2l2 2l-2 4l6 6l-6 2l0 6l6 4l-2 2l2 2l-2 4l-7 7l-2 -2l-4 0l-2 2l-4 0l-2 -2l-4 0l-2 2l-2 -2l-12 6l-8 0zM207 -224l-1 -1l1 -1l1 1zM-11 -174l-16 0l-1 -7l-5 -1l-1 -3l3 -3l2 2l4 -2l4 0l4 -4l4 0l2 -2l2 0l4 4l10 2l3 3l-2 4l-5 3l-4 0l-4 -2zM217 -160l-5 -1l5 -1l1 1zM-241 -106l-4 0l-2 -4l-4 2l-8 0l-2 -2l-4 0l-5 -3l7 -9l10 0l2 -2l6 0l3 -3l-2 -4l4 -2l1 -5l4 0l4 -4l4 0l4 -4l4 0l4 -4l4 0l1 -1l-2 -2l1 -1l8 0l2 -4l2 0l2 4l6 0l2 6l2 0l6 -6l6 0l6 4l14 0l1 1l-6 12l-3 1l-4 -2l-6 8l-12 0l-2 2l-6 0l-2 -2l-4 0l-2 2l-8 0l-6 6l-4 2l-6 0l-1 7l-3 3l-8 0zM355 -156l-7 -1l7 -1l1 1zM123 -154l-1 -1l1 -1l1 1zM8 -153l-1 -1l-3 1l1 1zM354 -141l-1 -1l-3 1l1 1zM366 -135l-1 -1l-3 1l1 1zM-180 -133l-1 -1l-5 1l1 1zM389 -124l-3 -1l1 -3l3 1zM-207 -120l-3 -1l1 -3l3 1zM172 -123l-1 -1l-1 1l1 1zM353 -112l-6 0l-1 -3l3 -1l1 -5l5 -3l1 3l-2 2l2 2zM385 -114l-3 -1l1 -3l3 1zM343 -114l-3 -1l3 -1l1 1zM263 -96l-2 0l-4 -4l-7 -3l0 -4l-2 -4l3 -3l18 0l1 3l4 2l0 6l-3 3zM-225 -106l-1 -1l1 -1l1 1zM-245 -100l-1 -1l1 -1l1 1zM8 -93l2 -2l-4 -2l8 -2l-3 -3l-12 0l-1 1l6 4l-2 2l3 3zM-261 -92l-3 -1l1 -3l3 1zM-279 -92l-5 -1l5 -1l1 1zM18 -93l-1 -1l-5 1l1 1zM-87 132l-2 -2l-4 0l-4 -4l-14 0l-2 -2l-10 -2l-2 -2l-6 0l-6 4l-4 0l-4 -4l-6 0l-4 4l-10 0l-2 -4l-8 0l-6 4l-4 0l-2 -2l-8 0l-4 2l-1 -3l2 -4l-3 -3l-2 0l-4 -4l-8 0l-5 -5l5 -1l2 2l1 -3l4 -4l1 -7l4 -2l10 0l1 -3l4 -2l-4 -4l-1 -7l-3 1l0 6l2 4l-3 3l-4 0l-12 -6l-4 -6l-2 2l-4 0l-3 -3l0 -2l4 -2l-7 -3l-3 -5l4 -2l2 -6l4 -2l4 -6l0 -2l-4 -4l2 -2l0 -4l-3 -1l-1 -3l5 -1l2 -2l12 0l2 2l4 0l3 -3l0 -4l-3 -3l-2 0l-2 -4l-8 0l-2 2l-8 -4l-7 -1l2 -4l-4 -2l6 -2l-8 -6l0 -4l6 -6l0 -4l-2 -2l4 -8l-3 -3l-14 0l-6 -4l-6 0l-7 -5l2 -2l-3 -3l-10 0l-5 -5l0 -4l-5 -5l-10 -2l-6 -4l-6 0l-6 -4l-4 0l-1 -3l9 -1l1 -5l3 -3l8 0l10 -12l2 2l4 -2l8 0l1 3l4 2l-2 4l1 5l4 0l2 -2l10 0l2 2l4 0l2 -4l5 1l0 10l-8 2l3 7l10 0l1 1l-5 1l-2 2l-4 0l-2 -2l-1 1l2 2l-2 4l3 1l4 4l6 0l2 -2l8 0l2 2l4 -2l10 0l2 2l8 -4l10 0l2 -2l8 0l6 -4l2 2l4 0l2 2l5 1l-4 2l1 3l4 2l12 0l4 4l20 0l2 -2l8 0l8 -4l6 0l6 -4l2 2l4 0l3 3l-7 1l-1 1l2 2l-6 8l4 2l0 8l7 1l1 3l4 4l0 2l-7 1l-4 6l-3 1l0 10l-3 3l-4 -2l-3 3l4 4l0 2l-3 1l-1 5l-4 2l4 8l12 8l-6 2l4 4l2 4l0 4l2 2l-1 3l-2 -2l-3 3l4 2l-2 4l5 3l7 1l-5 3l-2 0l-4 -4l-5 1l2 2l-2 6l4 2l-4 4l0 2l3 3l5 1l0 2l-4 4l3 3l6 0l4 4l2 0l1 5l2 2l-3 7l-10 2l-3 3l8 2l0 6l-5 1zM343 -84l-1 -1l1 -1l1 1zM345 -82l-1 -1l1 -1l1 1zM340 -79l-1 -1l-1 1l1 1zM-272 -77l-1 -1l-3 1l1 1zM-201 -64l-1 -1l1 -1l1 1zM-217 -58l-3 -3l1 -1l5 1zM-223 -58l-5 -1l5 -1l1 1zM252 -59l-1 -1l-5 1l1 1zM300 -55l-1 -3l-5 1l3 3zM-233 -52l-5 -1l5 -1l1 1zM-164 -43l2 -2l-1 -1l-3 1l0 2l1 1zM370 -37l-1 -1l-3 1l1 1zM-263 -30l-3 -3l1 -1l3 1zM288 -25l-3 -3l-1 1l1 3zM280 -21l2 -2l-1 -1l-9 1l5 3zM-90 -13l-1 -1l-3 1l1 1zM379 2l-3 -3l1 -1l5 1zM12 3l-1 -1l-1 1l1 1zM-229 18l-2 0l-3 -3l5 -1l1 1zM86 53l-6 -8l4 -2l0 -4l4 -4l-4 -4l3 -3l5 -1l-2 -2l0 -4l-1 -1l-10 0l-4 -6l-4 2l-4 0l-2 -2l-6 0l-1 3l2 4l-9 7l-4 0l-1 3l3 3l2 0l2 4l4 0l4 4l6 0l6 10l6 0l2 2zM153 16l-1 -1l1 -1l1 1zM235 20l-1 -1l1 -3l1 1zM85 24l-7 -1l7 -1l1 1zM94 33l-1 -1l-1 1l1 1zM314 37l-3 -3l-5 3l1 1zM155 60l-4 0l-1 -3l5 -1l1 1zM13 74l-1 -1l1 -1l1 1zM311 96l-1 -3l3 -1l1 1zM149 98l-1 -1l1 -1l1 1zM27 100l-3 -1l3 -1l1 1zM320 109l-1 -1l-1 1l1 1zM3 128l-5 -1l3 -3l10 0l1 1l-7 1zM-193 128l-1 -1l1 -1l1 1zM455 146l-2 -2l-4 0l-2 2l-10 0l-2 -2l-4 0l-2 2l-4 0l-3 -5l0 -4l1 -1l10 0l4 2l8 -4l10 0l6 -4l4 0l5 7l0 6l-5 1l-2 -2l-4 0zM475 136l-3 -1l2 -4l3 -1l1 1zM333 144l-1 -1l1 -1l1 1z"/><path fill="#e34a33" fill-rule="evenodd" d="M121 -110l-4 0l-3 -5l0 -2l3 -3l10 0l1 3l4 2l-9 1zM31 -100l-5 -1l0 -2l4 -2l-1 -3l-4 2l-6 0l-2 2l-2 -2l-10 -2l-1 -3l3 -3l22 0l2 2l6 0l2 -2l4 0l1 1l-4 2l-8 8zM49 -90l-4 0l-2 -2l-5 -1l5 -1l5 -5l-7 -1l-3 -3l1 -3l8 0l2 2l5 1l-2 4l0 6zM21 -102l-1 -1l1 -1l1 1zM-19 -100l-3 -1l3 -1l1 1zM131 -88l-4 0l-6 -4l-4 0l-3 -3l9 -1l4 2l1 -5l3 -3l6 0l2 2l5 1l-3 3l-4 0zM189 -70l-4 0l-7 -7l0 -4l4 -4l0 -6l7 -7l4 0l2 -2l10 0l4 2l2 6l4 0l13 11l0 2l-3 3l-12 0l-4 4l-18 0zM245 -88l-2 -2l-14 0l-2 -4l-4 2l-1 -3l3 -3l2 0l6 6l2 -2l2 2l6 0l2 -2l4 0l1 1zM253 -94l-1 -1l1 -1l1 1zM315 -74l-4 0l-2 -2l-8 0l-7 -9l5 -3l10 0l8 -6l4 0l4 2l3 3l0 6l2 2l0 4l-1 1l-12 0zM35 -90l-3 -1l3 -1l1 1zM171 -86l-1 -1l1 -1l1 1zM117 64l-2 0l-2 -4l-7 -1l0 -4l2 -2l-1 -1l-4 0l-2 -2l-5 -1l3 -5l4 4l2 0l3 -3l0 -4l-6 -2l2 -2l0 -8l5 -1l1 -3l-11 -5l-1 -1l3 -1l1 -1l-1 -1l-10 0l-4 -2l-7 -9l2 -2l-3 -3l-2 0l-2 -4l-4 -2l-10 0l-1 -5l-5 -3l-4 0l-2 -2l-6 0l-2 -2l-8 0l-2 -2l-2 2l-6 0l-2 2l-10 0l-2 -2l-4 0l-2 2l-10 0l-4 2l-3 -3l2 -2l-1 -1l-6 0l-6 -6l-3 -1l2 -4l-1 -3l-2 2l-6 0l-2 -4l-6 0l-1 -1l5 -5l2 0l4 -4l3 -1l2 -6l-7 -3l-6 4l-4 0l-5 -5l5 -1l3 -5l-2 -2l-2 -10l3 -3l4 2l10 0l2 -4l4 -2l4 0l7 5l-8 2l5 3l2 -2l12 0l1 -3l5 -5l6 0l6 4l4 0l1 5l3 3l6 -2l3 3l-6 8l3 3l6 0l2 2l6 0l2 2l6 0l2 2l6 0l6 -4l6 0l4 2l1 -3l4 -4l1 -5l6 4l10 -2l2 2l6 0l8 4l6 0l1 5l3 3l13 3l-6 2l3 3l8 0l2 2l6 0l3 3l0 2l-9 7l-8 0l-3 3l0 4l-6 4l-4 8l4 10l-3 3l-4 0l-8 4l-1 3l-6 4l8 2l0 4l-2 2l4 2l2 4l-2 2l2 2l0 4l4 4l-8 2l3 3l6 0l7 5l-2 6l-5 1zM153 -48l-4 0l-2 -2l-6 0l-4 -4l-2 0l-3 -3l2 -4l-3 -1l-4 -6l-3 -1l3 -1l8 -8l4 0l1 1l-2 2l1 1l4 -2l18 0l4 4l2 0l3 9l3 1l1 3l-1 1l-12 0l-3 3l0 2l-4 2zM299 -74l-3 -1l3 -1l1 1zM-253 -46l-4 0l-4 -4l-6 0l-1 -1l4 -4l-7 -1l-4 -4l-3 -1l-1 -3l-4 0l-1 -5l1 -1l16 0l2 -2l4 0l2 2l4 0l4 2l1 1l-1 1l-4 0l-2 -2l-3 3l0 4l5 5l3 1zM-291 -64l-1 -1l1 -1l1 1zM233 -38l-4 -2l-4 0l-1 -7l-5 -3l-5 -1l0 -2l6 -4l0 -4l3 -3l4 0l3 3l2 10l8 4l-3 3l-9 1l3 1l3 3zM207 -56l-6 -2l-1 -3l7 -1l3 3zM167 -54l-3 -1l3 -1l1 1zM-241 -32l-2 0l-7 -9l3 -7l6 0l5 5l0 8zM-147 108l-2 0l-4 -4l-5 -1l-2 -10l-7 -9l-6 0l-2 2l-4 -4l-8 0l-4 -8l-11 -3l2 -2l0 -4l3 -5l4 -2l10 0l3 -3l0 -4l-7 -1l-2 -2l-1 1l2 4l-5 3l-5 -7l0 -4l6 -2l-1 -3l-10 0l-2 -2l-2 2l-7 -1l7 -5l6 4l8 0l2 -2l6 0l2 4l4 0l2 2l3 -3l-3 -5l-4 0l-5 -3l0 -2l4 -2l0 -4l-7 -3l-1 -3l-7 -7l-12 0l-1 -1l1 -3l4 0l4 -2l1 -1l-1 -1l-2 0l-8 -8l-2 2l-8 0l-3 -3l6 -12l4 -4l2 -14l9 -5l3 7l3 1l4 6l7 1l-4 2l1 7l4 0l1 -3l5 -5l3 -1l-5 -1l-1 -1l1 -3l10 0l2 -2l2 2l4 0l3 3l-2 2l11 9l4 0l1 1l-2 2l3 3l4 0l8 12l2 0l6 6l4 0l2 2l8 0l1 5l4 4l-6 6l0 4l-3 3l-2 0l-1 3l3 3l2 0l4 -4l2 0l1 3l-3 1l-1 3l8 6l-1 3l-4 0l-2 -2l-6 0l-2 2l-7 -9l2 -2l-4 -2l0 -8l7 -1l1 -5l8 -4l-3 -1l-4 -6l-12 0l-2 -2l-3 7l-5 3l-6 0l-2 2l-12 0l-2 -2l-3 3l2 2l0 6l6 2l-3 1l-1 3l4 4l1 3l7 5l-6 4l4 4l0 2l3 3l8 0l1 3l-2 2l5 1l5 3l-2 4l0 4l-2 2l2 2l-2 6l-5 1l-7 7l1 3l2 0l4 -4l4 0l1 5l-13 3l-1 1l1 1l3 1zM-229 -36l-1 -1l1 -1l1 1zM213 -26l-4 0l-3 -3l0 -2l3 -1l4 2l1 1zM221 -26l-4 0l-1 -3l5 -1l1 1zM-217 2l-4 0l-2 -2l-5 -1l3 -3l4 2l6 0l1 1zM69 4l-1 -1l1 -1l1 1zM125 14l-3 -3l1 -1l5 1zM-137 32l-1 -1l1 -1l1 1zM-127 40l-3 -1l3 -1l1 1zM-207 44l-3 -1l3 -1l1 1zM-141 54l-9 -1l7 -1l2 -2l1 1zM99 58l-1 -1l1 -3l1 1zM395 120l-2 0l-4 -4l-4 0l-2 4l-4 0l-2 -2l-2 2l-4 0l-1 -3l8 -6l-8 -4l0 -6l-5 -5l-4 4l-5 -3l0 -2l7 -3l1 -3l-5 -3l-8 4l-10 0l-4 -2l-3 -3l2 -2l-2 -2l2 -4l4 -2l-4 -4l0 -2l9 -1l1 -1l-2 -2l1 -3l2 2l6 0l6 -6l16 8l4 0l2 -2l2 2l4 0l8 -4l18 0l3 3l0 8l11 9l4 0l1 5l-5 5l-4 0l-3 3l-2 6l-5 5l-10 4l-7 7zM377 64l-1 -1l1 -1l1 1zM93 74l-8 0l-1 -3l9 -5l5 3zM400 69l-1 -1l-1 1l1 1zM-140 71l-1 -1l-1 1l1 1zM-185 90l-1 -1l1 -1l1 1zM-183 96l-5 -1l5 -5l3 3zM-152 93l-1 -1l-5 1l1 1zM-197 108l-1 -7l3 -3l6 0l2 2l5 1l-3 3l-10 2zM-137 112l-2 0l-3 -3l1 -3l5 1zM361 122l-1 -1l1 -1l1 1z"/><path fill="#b30000" fill-rule="evenodd" d="M243 -90l-12 0l-7 -7l3 -1l6 6l10 0l1 1zM223 -94l-1 -1l1 -1l1 1zM193 -74l-6 0l-3 -5l4 -2l-2 -4l6 -6l3 -3l4 0l1 9l3 3l6 0l1 3l-1 1l-2 -2l-4 0l-4 4l-4 0zM247 -90l-1 -3l3 -1l1 1zM153 -68l-1 -1l1 -1l1 1zM155 -58l-2 0l-3 -3l7 -1l2 -2l5 1zM227 -48l-2 0l-5 -5l0 -6l3 -3l4 0l3 3l0 6zM113 6l-8 0l-2 -4l-4 0l-1 -3l-4 -4l2 -2l-1 -1l-10 0l-1 -1l0 -2l3 -3l5 -1l0 -2l-4 -2l0 -2l4 -2l-6 -2l2 -2l-4 -4l0 -2l4 -4l-6 -2l5 -1l2 -6l6 0l2 -2l4 0l3 -3l0 -4l3 -3l6 2l1 3l-7 3l-3 3l0 4l-3 3l-6 -2l-1 3l9 1l3 3l-4 2l0 4l2 2l-2 4l6 8l0 2l5 1l2 -2l9 7l0 4l2 2l-5 1zM91 -50l-3 -1l3 -1l1 1zM-241 -34l-3 -1l0 -4l-2 -2l1 -7l6 2l3 3l-2 6zM83 -46l-3 -1l3 -1l1 1zM79 -44l-1 -1l1 -1l1 1zM141 -32l-3 -1l3 -3l2 0l1 1zM98 -23l-1 -1l-3 1l1 1zM115 -22l-1 -1l1 -1l1 1zM98 -15l4 -2l-5 -1l-1 3l1 1zM-149 2l-10 0l-3 -5l0 -6l9 -3l7 7l-4 2l2 4zM95 6l-1 -3l3 -1l1 1zM-193 54l-3 -1l1 -3l5 1zM-169 74l-12 0l-1 -1l2 -2l1 -9l4 0l2 6l2 -6l9 1l-2 6zM-193 106l-3 -1l1 -5l5 1zM-197 108l-1 -1l1 -1l1 1z"/><path fill="#7a0177" fill-rule="evenodd" d="M101 -10l-3 -1l3 -1l1 1zM113 4l-1 -5l-2 -2l1 -9l4 0l4 2l7 9l-5 1l-2 2l-4 0zM-175 74l-5 -1l0 -10l1 -1l5 1l0 4l-2 2l2 2zM-193 106l-3 -1l1 -5l5 1z"/><path fill="#ffff33" fill-rule="evenodd" d="M-107 -248l-2 0l-4 -4l-4 0l-8 4l-4 -2l-1 -3l5 -3l4 2l2 -2l4 0l8 4l1 1zM-163 -248l-3 -1l1 -3l3 1zM33 -242l-4 0l-3 -3l3 -5l4 0l5 3l0 2zM-167 -244l-9 -1l9 -3l1 1zM-145 -238l-12 0l-1 -1l5 -3l4 0l4 -2l1 1zM109 -226l-3 -1l2 -2l-2 -2l1 -3l4 -2l8 0l2 -4l7 1l0 2l-3 1l-2 4l-4 -2l-8 4zM-245 -222l-3 -1l2 -2l-6 -4l1 -3l6 2l8 -4l5 1l-1 5l-4 0zM-169 -226l-6 0l-3 -3l7 -3l3 3zM-311 -200l-2 0l-4 -4l-4 0l-4 -2l-7 -7l-2 -6l5 -3l18 2l8 -4l2 2l4 0l2 6l4 0l2 -2l2 2l6 -6l8 0l4 -2l2 2l4 0l6 4l5 1l-5 1l-2 2l-2 -2l-8 0l-2 2l-4 0l-4 -2l-6 6l-2 0l-2 4l-4 0l-2 2l-4 0l-2 -2l-1 1l2 2l-1 1l-8 0zM-375 -210l-7 -1l0 -6l3 -3l3 1l0 4l2 2zM-35 -206l-7 -1l3 -3l4 0l1 1zM-43 -202l-1 -1l1 -1l1 1zM277 -90l-8 0l-2 -2l-7 -1l5 -1l1 -3l3 -1l5 -5l0 -6l-3 -5l-16 0l-4 -2l-3 5l2 4l0 4l3 3l6 2l1 3l-3 1l-2 -2l-4 0l-8 4l-6 0l-8 -6l-6 0l-2 2l-1 -3l-5 -5l-2 4l-1 -5l-3 -5l-6 0l-4 -6l-4 4l-3 -7l8 -8l0 -4l6 -4l4 -8l1 -1l2 2l3 -1l-2 -2l3 -3l6 0l2 4l10 0l2 2l2 -2l2 2l6 0l4 6l8 0l2 4l12 12l3 1l0 6l4 4l2 4l0 6l2 2l-3 1zM263 -132l-1 -1l1 -1l1 1zM-309 -120l-7 -1l2 -4l0 -4l3 -3l4 0l5 5l-2 4zM-277 -116l-3 -1l0 -10l7 -1l1 3zM-293 -96l-12 0l-3 -3l5 -5l4 0l4 2l1 -3l3 -1l3 3l0 2l-3 1zM-193 84l-1 -1l1 -3l1 1zM-191 86l-1 -1l1 -1l1 1zM-163 178l-4 0l-6 -6l-3 -1l0 -4l-8 -10l0 -4l-4 -2l2 -2l-2 -2l3 -1l4 -4l5 9l0 4l4 2l2 6l10 10z"/><path fill="#2f86bd" fill-rule="evenodd" d="M241 -124l-1 -1l1 -1l1 1zM227 -106l-2 0l-1 -3l-4 -4l9 -7l4 0l2 -2l6 0l1 5l-1 1l-2 -2l-2 2l-4 0l-3 3l2 4zM279 -98l-1 -7l-4 -6l1 -1l2 0l1 3l4 4l0 4z"/></g>
<use href="#L" fill="none" stroke="#000" stroke-width="1.25" stroke-linejoin="round"/>
<use href="#G" fill="#fff" stroke="#000" stroke-width="1.25" stroke-linejoin="round"/>
<use href="#D" fill="#000"/>
</g>
<g transform="translate(531.5,2067.4)">
<g clip-path="url(#c)"><rect x="-456" y="-266" width="950" height="465" fill="#984ea3"/><path fill="#4daf4a" fill-rule="evenodd" d="M37 -210l-2 0l-5 -5l3 -1l5 5zM23 -208l-8 0l-1 -3l5 -1l2 -2l4 0l1 3zM27 -208l-1 -1l1 -1l1 1zM9 -200l-1 -1l1 -1l1 1zM65 -124l-4 0l-2 -4l-4 0l-1 -3l-5 -5l-4 -2l-2 2l-3 -7l-5 -5l-2 2l-1 -1l0 -4l4 -2l-3 -1l-1 -3l5 -1l1 -1l-1 -1l-4 0l-6 6l-3 1l2 4l-3 3l-4 0l-8 4l-4 -2l-4 0l-1 -3l-6 -4l4 -2l2 -4l0 -4l-1 -1l-1 1l-1 5l-4 -4l-6 0l-4 -4l-4 0l-3 -5l4 -8l3 -1l5 -5l0 -2l-4 -2l0 -2l3 -1l6 6l2 0l1 -1l-2 -4l2 -2l-4 -2l5 -1l2 6l4 -2l3 3l0 6l-2 4l5 3l2 0l4 -6l4 -2l4 2l4 -4l2 0l8 4l6 8l8 0l2 -2l4 0l3 3l0 2l5 3l3 -1l-2 -4l0 -6l3 -3l1 5l3 3l2 -6l4 0l2 -2l10 2l1 7l3 3l1 -1l-2 -2l3 -1l1 -3l5 -5l2 0l2 6l4 -2l1 1l-2 4l1 3l4 0l4 4l7 1l2 4l0 6l4 6l-1 5l-4 0l-2 -2l-2 6l-4 0l-2 -2l-8 0l-2 4l-4 -2l-4 -6l-2 0l-8 6l-6 0l-4 2l-2 4l-6 0l-2 4l-4 -4l-4 2l-1 3l4 2zM-303 -176l-3 -1l-1 -5l-3 -1l0 -4l3 -3l1 5l1 1l2 -2l3 5l0 2zM-17 -184l-1 -1l1 -1l1 1zM33 -184l-1 -1l1 -1l1 1zM73 -180l-1 -1l1 -1l1 1zM38 -175l-1 -1l-1 1l1 1zM387 -174l-3 -1l3 -1l1 1zM-309 -170l-1 -1l1 -3l5 1zM-287 -172l-5 -1l5 -1l1 1zM-293 -154l-12 0l-1 -1l0 -6l-2 -2l7 -9l1 5l-2 2l0 4l5 1l5 5zM-8 -165l-1 -3l-1 3l1 1zM229 -162l-1 -1l1 -1l1 1zM-7 -150l-3 -3l1 -1l3 1zM42 -153l-1 -1l-3 1l1 1zM130 -149l-3 -3l-1 1l3 3zM50 -143l2 -4l-1 -1l-2 2l-4 -4l-3 5l5 1l2 2zM137 -140l-1 -1l1 -1l1 1zM193 -120l-4 0l-4 -2l-3 -5l0 -2l4 -4l3 -7l2 0l3 3l0 4l2 2l0 8zM203 -134l-1 -1l1 -1l1 1zM-195 -124l-5 -1l1 -9l5 1l-1 3l-3 1l4 4zM305 -32l-4 -6l-4 2l-3 -3l2 -2l0 -4l6 -4l-2 -4l0 -4l-1 -1l-1 3l-5 3l-6 0l-1 -1l4 -4l0 -2l-10 -2l5 -1l1 -3l4 -2l0 -4l4 -2l-4 -2l3 -3l2 0l1 -1l-2 -2l4 -2l-4 -8l0 -6l-2 -2l4 -2l0 -6l-4 -8l0 -4l1 -1l4 2l14 -16l1 3l4 4l0 2l5 5l2 -4l4 4l4 -6l4 0l1 1l-4 4l0 2l8 8l2 6l-6 2l0 14l-8 4l2 4l-3 1l-5 5l0 6l-3 1l-4 4l-4 0l-2 -2l-3 1l-2 4l2 2l0 4l4 4l0 2l4 2l-4 4l2 2l0 4zM-277 -126l-3 -3l1 -1l3 1zM371 -118l-1 -3l2 -4l3 -3l2 0l1 5l-3 1zM73 -122l-3 -1l3 -3l1 1zM-201 -120l-1 -1l1 -1l1 1zM379 -112l-5 -1l2 -2l-2 -2l1 -3l5 5zM-209 -110l-2 0l-1 -3l3 -5l2 0l1 1l-2 2zM65 -116l-3 -1l3 -1l1 1zM61 -114l-1 -1l1 -1l1 1zM265 -94l-4 -2l-4 0l-2 2l-2 -2l-6 0l-5 -5l-2 -4l0 -4l3 -3l8 0l2 -2l2 6l2 -2l10 0l2 2l6 0l1 5l-3 3l-4 0zM363 -110l-3 -1l3 -3l1 1zM353 -106l-1 -1l1 -1l1 1zM357 -106l-1 -1l1 -1l1 1zM217 -98l-1 -1l1 -1l1 1zM-283 -70l-1 -7l-2 -2l4 -2l-2 -4l8 -4l-2 -4l5 -5l6 0l5 5l-3 1l-8 8l-3 1l-2 6l-4 4zM-231 -88l-1 -3l4 -2l-2 -2l3 -3l2 0l3 5l-3 3l-4 0zM302 -93l-1 -5l-1 5l1 1zM229 -88l-9 -3l3 -5l1 3l6 4zM-219 -90l-1 -1l1 -1l1 1zM235 -88l-3 -3l1 -1l7 1zM247 -86l-4 0l-3 -3l3 -1l4 2l1 1zM231 -86l-1 -1l1 -1l1 1zM251 -86l-1 -1l1 -1l1 1zM161 -66l-8 0l-4 -2l-1 -3l3 -3l4 0l4 -4l2 2l6 0l1 -1l-2 -2l3 -1l1 3l4 4l-3 1l-4 4l-4 -2zM-209 -64l-4 0l-2 -4l-2 0l-2 4l-2 -2l-8 0l-1 -5l-2 -2l3 -5l4 2l6 6l6 0l5 5zM-261 -74l-1 -1l1 -1l1 1zM-251 -40l-1 -5l-6 -4l0 -4l-6 -2l0 -6l-2 -2l3 -1l4 4l1 -1l-4 -8l3 -3l4 2l2 -4l4 2l4 0l3 3l-2 2l2 2l-1 1l-4 -2l-1 1l0 4l6 2l-5 5l-3 1l0 2l4 4l0 4zM-39 -46l-2 0l-2 -4l-2 2l-5 -1l6 -8l0 -2l4 -2l0 -2l-6 -4l0 -2l5 -5l4 0l3 3l0 2l6 4l2 4l0 2l-4 4l0 4l-5 1zM97 -70l-1 -1l1 -1l1 1zM-265 -68l-1 -1l1 -1l1 1zM95 -56l-2 -2l-2 2l-10 0l-1 -3l2 -4l-2 -2l7 -5l2 2l8 0l1 1l-2 2l4 4zM173 -66l-1 -1l1 -3l1 1zM-277 -58l-10 0l-3 -3l0 -2l5 -5l4 0l2 2l4 0l5 3l-3 1zM-267 -66l-1 -1l1 -1l1 1zM229 -52l-2 0l-3 -3l0 -6l3 -5l2 0l5 5l0 4zM-213 -60l-3 -1l1 -3l3 3zM-207 -60l-1 -1l1 -3l7 1l-5 1zM59 -24l-8 -4l-3 -3l8 -8l0 -2l-4 -4l4 -6l0 -4l-1 -1l-1 3l-3 1l-3 -3l0 -2l5 -1l2 -6l10 0l2 2l2 -2l3 3l0 4l-2 4l-12 10l2 2l0 6l2 2l0 6zM223 -62l-1 -1l1 -1l1 1zM121 -58l-1 -1l1 -3l1 1zM127 -52l-3 -3l0 -2l5 -5l4 0l1 3l-6 4zM-252 -57l-1 -3l-3 3l1 1zM-195 -58l-3 -1l3 -1l1 1zM-1 -56l-3 -1l1 -3l3 1zM23 -38l-2 0l-2 -4l-10 0l-4 -6l-4 0l-1 -3l2 -4l7 -5l4 0l4 4l6 0l2 4l2 -2l3 7zM101 -58l-1 -1l1 -1l1 1zM-27 -54l-1 -1l1 -1l1 1zM103 -48l-1 -3l3 -1l1 1zM-209 -42l-1 -1l1 -1l1 1zM39 -40l-1 -1l1 -1l1 1zM308 -41l-1 -1l-1 1l1 1zM-185 48l-3 -1l-1 -3l-4 2l-4 -2l-4 0l-6 -6l-4 -2l-8 4l-2 -4l-5 -1l0 -2l-4 -4l-2 -10l-6 -6l4 -4l-2 -4l0 -6l4 -2l0 -4l2 -4l1 -1l4 0l2 2l1 -1l-2 -2l0 -6l-2 -2l3 -3l2 0l8 -10l3 -1l-2 -2l3 -3l2 0l3 3l1 5l4 0l3 3l0 4l4 2l0 2l6 6l0 2l6 2l0 6l-2 4l3 3l1 -3l-2 -2l4 -2l1 -5l3 3l-2 4l1 1l4 -2l3 3l0 4l-4 2l4 6l0 8l2 2l-2 4l0 6l-3 1l-2 4l-2 -2l-6 2l-2 -4l-3 5l4 2l0 4zM71 -38l-3 -1l3 -1l1 1zM-183 -34l-3 -1l3 -3l1 1zM-165 -36l-1 -1l1 -1l1 1zM225 -36l-1 -1l1 -1l1 1zM-163 -12l-4 -6l-4 -2l-4 0l-5 -5l1 -9l8 4l4 -6l1 5l2 2l5 1l3 3l0 6zM-3 -22l-5 -5l1 -5l2 0l4 -4l2 2l4 0l2 -2l9 1l-3 3l-4 0l-6 8l-2 -2zM71 -34l-1 -1l1 -1l1 1zM223 -34l-1 -1l1 -1l1 1zM-15 -32l-1 -1l1 -1l1 1zM231 -22l-2 0l-3 -5l1 -5l5 5zM65 -28l-1 -1l1 -1l1 1zM13 -26l-1 -1l1 -1l1 1zM129 4l-6 0l-10 -6l-2 2l-4 -2l-4 0l-4 -4l-4 0l-8 -8l-4 -2l-6 0l-2 -4l-5 -1l3 -3l8 0l4 -4l2 0l2 4l4 0l4 -2l2 4l4 0l3 3l-2 2l6 4l1 5l4 2l2 -2l2 2l4 -2l5 5l2 4zM237 -26l-1 -1l1 -1l1 1zM67 -24l-1 -1l1 -1l1 1zM-185 -22l-1 -1l1 -1l1 1zM-183 -16l-3 -1l1 -3l3 3zM-153 2l-1 -5l-4 -2l2 -2l0 -4l3 -3l8 0l1 9zM31 -10l-3 -1l3 -1l1 1zM133 -10l-1 -1l1 -1l1 1zM37 32l-2 0l-3 -3l0 -6l-4 -4l4 -2l0 -2l-4 -4l0 -2l4 -4l-6 -4l4 -4l-2 -4l5 -3l4 0l3 3l-2 2l1 1l2 -2l4 2l4 0l3 5l0 4l-4 4l2 2l-2 2l0 6l4 4l-4 4l2 2l-3 1l-2 -2l-4 0zM295 22l-4 0l-4 -2l-1 -1l2 -4l-3 -1l-4 -6l-3 -1l0 -4l2 -2l-6 -2l4 -2l2 -4l-2 -2l1 -1l8 0l2 4l5 1l-2 4l2 4l-4 6l0 4l5 1l3 3zM127 -6l-1 -1l1 -1l1 1zM327 14l-4 0l-3 -3l2 -2l-2 -4l2 -6l3 -1l2 2l4 0l1 -1l-2 -2l1 -3l2 2l6 0l1 1l-1 3l-4 0l-5 3l0 2l4 2l-2 4zM-121 68l-7 -5l4 -2l0 -4l-2 -2l8 -14l-2 -2l2 -2l-4 -4l2 -2l-4 -4l2 -4l-1 -1l-4 2l-6 -6l-6 0l-2 2l-4 -2l-6 -6l-7 -3l5 -5l6 0l2 -2l2 2l8 0l1 3l-2 2l3 5l2 -2l10 0l2 2l2 -2l6 0l2 4l4 2l4 0l9 9l2 4l-2 2l2 2l-3 3l-4 0l-1 3l-4 2l2 2l-4 4l-1 3l-4 0l-2 -2l-1 3l-6 4l0 8zM-161 6l-1 -1l1 -1l1 1zM-241 8l-1 -1l1 -1l1 1zM-112 15l-1 -1l-1 1l1 1zM329 18l-1 -3l3 -1l1 1zM335 16l-1 -1l1 -1l1 1zM111 26l-1 -1l1 -1l1 1zM109 28l-1 -1l1 -1l1 1zM105 64l-3 -1l2 -4l-4 -8l5 -7l5 -1l0 -2l-4 -2l0 -8l5 -1l2 2l2 -4l4 0l1 3l-6 10l0 4l4 2l-4 2l-2 6l-6 6zM123 30l-1 -1l1 -1l1 1zM110 33l-1 -1l-1 1l1 1zM-93 44l-1 -1l1 -1l1 1zM-104 45l-1 -1l-1 1l1 1zM-95 46l-3 -1l3 -1l1 1zM-163 76l-4 0l-3 -3l0 -4l-4 -4l0 -4l-3 -1l-5 -5l1 -7l2 0l6 6l2 -2l4 0l1 3l-2 2l5 5l2 -2l4 0l4 -4l1 1l0 4l-4 2l0 8zM417 54l-1 -1l1 -3l1 1zM97 54l-1 -1l1 -1l1 1zM-163 60l-3 -3l3 -3l1 1zM-107 58l-3 -1l3 -1l1 1zM419 78l-1 -3l2 -2l-2 -4l-4 -2l0 -4l3 -1l4 -6l2 10l1 -5l1 -1l1 1l0 6l-2 2l2 4l-3 1zM-127 60l-1 -1l1 -1l1 1zM429 68l-1 -1l1 -1l1 1zM429 86l-3 -7l5 -1l4 -6l3 7l-1 1l-2 -2zM-161 132l-6 -2l-4 -6l-4 -2l-2 2l-1 -9l-3 -3l-5 -1l0 -6l-2 -2l2 -2l-2 -2l0 -4l5 -5l6 4l4 0l7 7l2 4l4 2l0 4l2 4l5 5l3 1l-3 1l-1 5l-3 1zM-191 136l-1 -1l1 -5l1 1zM-189 158l-1 -3l2 -2l0 -12l-2 -2l3 -1l1 5l4 4l-2 2l2 2l-2 4zM441 144l-1 -1l1 -1l1 1zM443 152l-1 -5l5 -5l1 3zM451 152l-3 -3l1 -1l3 1zM433 160l-6 0l-2 -2l-4 2l-1 -7l3 -3l2 0l2 4l6 0l1 1l-2 2l2 2zM-181 164l-2 0l-3 -3l3 -5l3 1zM435 162l-1 -1l1 -1l1 1z"/><path fill="#ffff33" fill-rule="evenodd" d="M17 -148l-1 -1l1 -1l1 1zM23 -148l-1 -1l1 -1l1 1zM265 -94l-3 -1l3 -1l1 1zM229 -88l-6 -2l-1 -3l1 -1l4 2l3 3zM239 -90l-7 -1l7 -1l1 1zM247 -86l-4 0l-3 -3l3 -1l4 2l1 1zM-221 36l-3 -3l1 -3l2 0l3 3zM-187 146l-1 -1l1 -7l1 1zM-187 156l-1 -1l1 -7l3 5zM-183 162l-1 -1l1 -3l1 1zM-181 164l-1 -1l1 -1l1 1z"/><path fill="#377eb8" fill-rule="evenodd" d="M-93 -258l-2 -4l-5 -1l9 -1l1 1zM-271 -134l-9 -5l8 -6l-2 -4l4 -2l0 -4l-8 -4l-2 -4l0 -8l-2 -4l-5 -1l-2 -4l-3 -1l-2 -4l4 -4l-1 -3l-10 -2l-6 -4l-6 2l-2 -4l-2 2l-4 -2l-6 0l-2 2l-4 0l-4 -2l-12 10l-4 2l-4 0l-2 2l-2 -6l-6 0l-2 -2l-4 0l-1 -1l2 -2l-3 -5l-8 4l-1 -5l-4 -4l0 -2l-3 -1l-4 -4l-2 0l-1 -3l3 -1l2 2l12 0l1 -3l3 -1l2 2l4 0l4 2l2 -2l10 0l2 -2l12 0l1 -5l3 -3l2 2l4 -2l2 2l4 0l5 3l1 3l2 -4l12 0l8 4l3 -3l0 -2l3 -1l1 1l-2 2l1 3l4 -2l4 4l6 0l4 -2l1 1l-2 2l3 1l4 4l2 0l2 4l1 -3l4 -2l-2 -4l9 -13l6 0l2 -2l2 2l7 -5l-5 -3l-1 -1l1 -1l8 0l4 -2l8 6l4 -2l4 0l2 -2l6 0l2 2l2 -2l6 0l2 2l4 0l8 6l4 0l2 -2l4 0l2 2l2 -2l6 0l2 2l1 -3l-2 -2l-1 -5l-2 4l-8 0l-1 -3l-4 -2l1 -7l4 0l2 -2l10 0l2 -4l8 4l2 -2l2 2l8 0l10 -6l4 0l2 2l14 -2l3 3l0 2l-3 1l-1 3l6 4l-6 4l2 2l0 4l6 6l-1 1l-4 -2l-8 10l-2 0l-4 4l-4 0l-8 8l-6 -8l-5 -3l-1 -5l-8 0l-1 5l-3 1l-7 7l6 2l-2 4l-1 1l-4 -2l-3 1l-4 8l-1 9l-2 0l-4 -6l-4 -2l-5 1l0 2l6 6l-3 7l-4 0l-8 -6l-3 5l0 4l-5 5l-2 0l-4 4l-4 -4l-4 6l-6 2l-1 -1l2 -2l-2 -4l-6 -4l5 -1l1 -3l6 -4l1 -3l2 4l1 -1l-1 -5l-6 2l-1 -3l-3 -1l-2 2l-4 0l-2 6l-4 -2l-2 2l-6 0l-2 -2l-1 5l4 2l-4 4l3 3l2 0l8 8l5 1l-9 1l-3 3l0 6l-3 1l-2 -2l-4 6l-2 -2l-4 2l-6 -6l-4 0l-1 3l2 2l0 4l-6 6zM-148 -239l0 -4l-3 -3l-1 5l3 3zM-95 -242l-3 -1l1 -3l3 3zM39 -242l-9 -3l9 -1l1 1zM277 -68l-4 0l-1 -1l2 -2l-1 -1l-4 0l-2 2l-4 -2l-4 -6l-4 0l-6 -4l-4 0l-3 -3l6 -2l-9 -5l-7 1l3 3l4 -2l1 3l-5 5l-5 1l1 3l4 0l2 2l5 1l0 2l-7 5l-5 -3l-1 -5l-10 2l-4 -6l-2 2l-8 0l-2 2l-3 -3l0 -4l-2 -2l0 -6l-2 -2l0 -8l-6 -2l0 -8l7 -3l2 -4l4 6l1 -5l6 -2l0 -4l-7 -3l-5 -7l7 -1l6 -6l8 0l2 -2l5 -1l-2 -2l-1 -7l-4 4l-8 0l-2 2l-4 0l-2 -2l-8 0l-2 -6l-1 5l-3 1l-1 -1l2 -2l0 -4l-3 -1l-7 -7l2 -4l-4 -4l3 -3l4 -2l4 0l2 -4l9 -1l-4 -4l2 -2l-6 -8l0 -6l-1 -1l-1 1l-1 5l-3 -3l2 -4l-4 -8l5 -1l1 -3l-3 -1l-4 -6l-2 2l-4 0l-2 -2l-10 0l-3 -3l0 -6l11 -9l1 1l-2 4l2 2l-2 2l1 3l2 0l1 -1l-2 -2l7 -5l4 2l8 0l4 4l4 2l4 0l1 -1l-2 -4l4 -4l1 -3l2 2l6 0l2 2l4 0l2 -2l6 2l1 -5l3 -3l4 6l7 1l0 6l-2 2l5 1l4 4l7 -7l1 -5l6 6l4 2l6 -6l4 2l5 5l1 5l8 -4l6 2l2 -6l1 3l4 2l-4 2l1 3l12 -10l10 -2l6 6l5 1l-4 2l1 5l2 -2l10 -2l2 4l2 -2l1 1l1 5l4 -6l2 4l2 0l2 -4l4 0l3 3l-2 2l1 3l6 0l2 -2l2 4l4 0l6 4l4 -2l3 1l0 4l2 2l-1 3l-2 -2l-4 2l-1 -3l-7 -3l-2 -4l-1 3l-11 9l-2 -4l-4 0l-2 2l-6 0l-4 4l-2 0l-2 4l-8 0l-7 5l0 8l5 1l3 3l-2 4l5 1l4 -2l7 9l-4 2l-1 5l-2 -2l-3 1l0 2l-6 4l-3 7l-2 -2l-10 -2l-4 -4l-5 -1l3 -1l5 -5l-3 -1l-2 -4l-8 8l-4 0l-2 2l-2 -2l-5 5l0 12l-4 2l-1 3l-3 -7l1 -1l4 2l1 -1l-2 -4l-3 -3l-4 0l-4 -4l-4 2l-4 -2l-1 -1l2 -2l-1 -1l-2 2l-4 0l-3 -3l0 -2l4 -4l-1 -1l-2 0l-2 4l-9 3l0 4l3 1l2 4l4 0l2 -4l4 2l2 8l4 -4l6 -2l1 3l-2 2l3 1l1 3l-9 1l-1 5l-3 1l-6 -4l-2 -4l-1 3l2 2l-8 2l0 2l4 4l1 3l2 2l4 0l3 3l-3 3l-6 2l-2 -6l-2 4l-6 0l-2 2l-12 0l-2 -2l-1 5l2 2l0 4l4 4l3 7l22 0l12 -6l3 -5l0 -6l-8 -6l-2 -6l5 -1l2 2l4 0l11 13l0 8l-6 6l0 16l-2 4l-5 1zM-217 -238l-1 -1l1 -3l1 1zM109 -222l-3 -1l0 -6l2 -2l1 -5l6 0l4 -4l4 0l2 -2l5 1l0 4l-3 3l-12 0zM-101 -238l-1 -1l1 -1l1 1zM-97 -236l-1 -1l1 -1l1 1zM-299 -222l-1 -1l1 -1l1 1zM-112 -223l-1 -1l-1 1l1 1zM47 -214l-4 -2l-1 -3l3 -1l4 -4l2 0l3 3l0 2zM-306 -219l-1 -3l-1 3l1 1zM-269 -218l-1 -1l1 -1l1 1zM135 -186l-1 -7l-2 -2l4 -2l-4 -2l2 -6l-6 -8l7 -1l8 -4l6 0l1 1l-4 6l-1 5l-6 0l-2 -2l-1 1l0 2l8 6l0 4l2 2l-5 5l-4 0zM202 -217l-1 -1l-1 1l1 1zM-282 -215l-1 -1l-1 1l1 1zM196 -215l-1 -1l-1 1l1 1zM-399 -212l-1 -1l1 -1l1 1zM-380 -213l-1 -1l-3 1l1 1zM-354 -213l-1 -1l-1 1l1 1zM101 -198l-2 0l-7 -7l1 -3l4 0l2 -2l8 0l2 -4l2 2l4 -2l2 2l7 1l-11 7l-6 0l-1 3zM389 -212l-1 -1l1 -1l1 1zM-397 -210l-1 -1l1 -1l1 1zM352 -211l-1 -1l-1 1l1 1zM-286 -199l4 -4l-3 -7l-7 9l1 3zM91 -208l-1 -1l1 -1l1 1zM127 -206l-1 -1l1 -3l1 1zM149 -206l-1 -1l1 -3l1 1zM204 -205l-1 -5l-2 2l-4 -2l-1 1l5 5zM194 -205l-1 -1l-1 1l1 1zM-168 -203l-1 -1l-1 1l1 1zM210 -201l-1 -1l-1 1l1 1zM206 -195l-1 -1l-3 1l1 1zM191 -192l-1 -1l1 -1l1 1zM147 -188l-1 -1l1 -1l1 1zM202 -189l-1 -1l-1 1l1 1zM-182 -187l-1 -1l-1 1l1 1zM-173 -186l-1 -1l1 -1l1 1zM-250 -179l2 -2l-1 -1l-3 1l0 2l1 1zM169 -170l-12 0l-3 -3l3 -5l8 -4l1 3l6 4l0 2zM-233 -176l-1 -1l1 -1l1 1zM-250 -171l-1 -1l-1 1l1 1zM-201 -168l-1 -1l1 -1l1 1zM230 -163l-1 -1l-1 1l1 1zM328 -155l4 -4l-1 -1l-7 1l1 5zM179 -136l-5 -5l0 -2l-4 -2l0 -2l5 -7l4 0l2 -2l1 5l4 4l0 4l-2 4zM-309 -134l-2 -6l-4 2l-3 -1l4 -6l1 -5l4 -2l4 0l8 4l1 3l4 2l-1 3l-4 0l-2 2l-6 0zM165 -148l-1 -3l3 -1l1 1zM228 -149l-1 -3l-1 3l1 1zM-261 -146l-1 -1l1 -3l1 1zM-277 -144l-3 -1l3 -1l1 1zM-241 -144l-1 -1l1 -1l1 1zM-259 -140l-5 -1l5 -1l1 1zM254 -131l0 -2l3 -1l1 -3l-5 -5l-11 3l3 3l2 0l4 6zM240 -139l-1 -1l-3 1l1 1zM-9 -120l-3 -1l0 -4l2 -2l0 -4l3 -3l3 5l0 4zM242 -133l-1 -1l-1 1l1 1zM-295 -126l-3 -1l3 -1l1 1zM-295 -86l-3 -1l2 -4l-2 -2l0 -8l2 -2l-2 -2l2 -4l-6 -6l2 -2l-2 -2l2 -2l-2 -2l3 -3l2 4l2 -2l9 1l4 8l-2 2l2 4l0 4l4 2l-3 1l-1 3l-6 4l2 2l-1 3l-4 0zM-283 -120l-1 -1l1 -1l1 1zM240 -117l-1 -1l-1 1l1 1zM153 -100l-8 0l-1 -7l9 -3l1 1zM9 -96l-3 -3l1 -7l7 3l0 4zM220 -99l-1 -1l-3 1l1 1zM232 -87l-5 -5l-3 -1l-1 -5l-1 5l-2 2l5 1l6 4zM-5 -88l-1 -5l3 -1l1 3zM206 -93l-1 -1l-1 1l1 1zM-303 -90l-3 -1l3 -1l1 1zM195 -88l-1 -1l1 -3l1 1zM-301 -86l-3 -1l3 -1l1 1zM75 -86l-1 -1l1 -1l1 1zM252 -87l-1 -1l-1 1l1 1zM77 -80l-5 -1l0 -2l5 -3l1 1zM53 -80l-3 -3l1 -1l7 1zM239 -80l-1 -1l1 -1l1 1zM-297 -72l-3 -3l1 -3l5 1l0 2zM253 -70l-3 -3l1 -1l3 1zM35 -58l-1 -5l3 -1l1 1zM-21 -46l-4 0l-3 -3l5 -5l3 1zM129 -46l-5 -1l2 -2l-2 -2l1 -1l3 1l2 4zM113 -24l-6 0l-2 -4l-5 -1l0 -6l2 -4l5 -3l8 0l1 3l4 2l-1 3l-2 -2l-1 1l0 6zM-23 -34l-3 -3l1 -3l3 3zM-21 -14l-11 -7l1 -7l2 0l6 6l3 1zM419 22l-2 -2l-8 0l-2 -2l-4 0l-2 -2l-4 0l-2 -2l-4 0l-8 -4l-1 -3l-4 -4l0 -2l7 -1l4 4l6 0l2 -2l8 6l2 -2l2 2l4 0l1 3l5 5l3 1l0 2zM345 14l-3 -3l0 -2l5 -5l1 5zM-153 34l-4 0l-2 -2l-1 -5l-2 -2l6 -4l1 -5l3 3l0 6l2 2l-2 2zM-233 30l-1 -1l1 -1l1 1zM67 44l-2 -2l-4 2l-3 -3l6 -6l1 -3l22 0l1 1l-3 3l-6 2l-2 4l-8 0zM49 48l-3 -3l0 -4l-2 -2l1 -3l9 1l0 4zM-217 48l-3 -1l1 -5l4 -2l2 4l2 -2l3 1l-1 3l-6 0zM395 110l-8 0l-4 -2l-1 -3l-6 -4l-1 -3l-4 0l-4 4l-4 -2l-4 2l-6 -2l-4 4l-6 0l-2 2l-4 0l-1 -1l2 -2l-6 -4l0 -2l-4 -4l0 -4l-6 -4l0 -6l-4 -2l4 -2l-2 -10l5 -5l2 0l4 4l2 -2l4 2l1 -3l5 -3l4 2l4 0l4 -4l3 -1l-2 -4l2 -2l1 -5l8 6l3 -3l0 -2l7 -5l6 2l4 4l2 -4l1 5l7 5l8 0l2 2l4 0l1 3l-2 2l0 6l-2 4l2 2l0 8l4 4l4 8l-4 8l-3 3l-6 0l-2 6l-6 0zM-223 44l-1 -1l1 -1l1 1zM65 110l-4 -6l-4 6l-2 0l-3 -3l4 -8l0 -4l-3 -3l-4 0l-2 2l-1 -7l-4 -2l0 -4l6 -4l-2 -4l4 -4l-2 -14l5 -7l3 1l0 2l-3 1l-1 3l3 1l4 -2l6 6l2 0l4 12l10 0l1 -3l-2 -4l3 -1l3 7l6 8l0 6l-4 4l2 4l-4 4l4 4l-7 3l-2 4l-4 -2l-8 0zM-187 92l-4 0l-3 -3l6 -2l-4 -2l2 -4l-1 -1l-4 0l-2 -2l-4 0l-5 -3l0 -4l7 -7l4 2l1 -1l-2 -2l0 -8l-2 -2l1 -3l6 0l4 2l3 5l0 4l3 1l7 9l0 14l-3 3l-6 -6l-1 5zM67 56l-3 -1l3 -1l1 1zM-207 68l-1 -1l1 -1l1 1zM77 70l-2 0l-3 -3l3 -1l3 3zM406 67l-1 -1l-1 1l1 1zM-196 69l-1 -1l-1 1l1 1zM-135 78l-1 -1l1 -1l1 1zM-141 112l-3 -1l2 -2l-2 -2l-1 -5l-4 2l-5 -1l2 -2l-2 -6l3 -3l7 -1l0 -8l-2 -2l3 -3l4 0l9 11l0 2l-4 4l0 4l-2 4l-4 2l2 4zM406 79l-1 -1l-1 1l1 1zM95 82l-1 -1l1 -1l1 1zM-201 96l-3 -1l2 -2l-3 -3l-2 2l-1 -1l0 -6l3 -3l2 4l7 1l0 2l-4 4zM52 89l-1 -3l-3 3l1 1zM43 90l-1 -1l1 -1l1 1zM325 92l-1 -1l1 -1l1 1zM374 93l-1 -1l-1 1l1 1zM414 93l-1 -1l-1 1l1 1zM-193 98l-3 -3l1 -1l3 1zM350 97l-1 -1l-1 1l1 1zM412 97l-1 -1l-1 1l1 1zM342 101l-1 -1l-1 1l1 1zM-151 110l-1 -1l1 -1l1 1zM-177 168l-1 -1l1 -1l1 1zM-173 170l-3 -1l3 -1l1 1zM-171 174l-1 -1l1 -1l1 1z"/><path fill="#e41a1c" fill-rule="evenodd" d="M-161 -238l-4 0l-8 -4l-1 -5l7 -5l4 2l4 0l4 -4l4 2l4 0l2 4l2 0l2 -4l8 0l2 -2l6 0l2 -2l10 0l2 -2l7 1l0 2l-3 3l-6 0l-2 2l-2 -2l-4 0l-8 6l-8 0l-6 4l-8 -4l-2 4l-6 0zM125 -234l-6 0l-1 -3l5 -1l4 -4l3 3zM109 -224l-3 -1l0 -4l5 -7l3 3l-2 2l0 4zM213 -230l-4 0l-5 -3l5 -1l2 -2l4 0l1 3zM-295 -220l-1 -1l1 -1l1 1zM-289 -214l-5 -1l1 -5l5 3zM-205 -212l-11 -3l3 -3l6 0l2 2l5 1zM325 -210l-3 -3l1 -3l3 1zM337 -206l-4 -2l-6 2l-1 -3l5 -3l2 2l4 -2l1 1l-2 2l2 2zM251 -208l-1 -1l1 -1l1 1zM-329 -206l-1 -1l1 -1l1 1zM313 -186l-4 -2l-4 0l-2 -2l-4 0l-1 -3l-5 -3l-2 2l-4 -2l-2 2l-7 -9l0 -2l9 -1l4 2l2 -4l2 2l4 0l4 2l4 4l3 1l4 8zM-327 -204l-1 -1l1 -1l1 1zM261 -202l-2 -2l-7 -1l9 -1l1 1zM217 -122l-3 -3l1 -1l14 0l1 1l-1 1l-10 0zM255 -124l-5 -1l5 -1l1 1zM259 -120l-3 -1l1 -3l3 3zM227 -82l-6 0l-4 -4l-2 0l-4 -8l-4 0l-4 -4l-4 0l-1 -3l-8 -6l7 -5l2 2l4 0l2 4l4 -2l1 1l-2 2l4 4l3 1l2 4l5 1l-2 4l3 3l4 2l4 0l2 -2l5 1l-3 3l-6 0zM231 -90l-1 -1l1 -3l7 1l-5 1zM249 -82l-3 -1l6 -4l-4 -2l5 -1l3 3l0 2l-5 1zM401 14l-4 -2l-4 0l-3 -3l3 -3l4 0l2 2l6 0l1 1l-3 1zM413 18l-5 -1l2 -2l1 -7l3 3zM-189 80l-1 -1l1 -1l1 1zM-139 98l-3 -7l3 -1l2 -4l2 4l3 1l-3 3l-2 0zM79 104l-2 -2l-4 2l-3 -3l2 -6l1 -1l4 2l2 -4l3 5l0 4zM-141 100l-1 -1l1 -1l1 1z"/></g>
<use href="#L" fill="none" stroke="#000" stroke-width="1.25" stroke-linejoin="round"/>
<use href="#G" fill="#fff" stroke="#000" stroke-width="1.25" stroke-linejoin="round"/>
<use href="#D" fill="#000"/>
</g>
<g transform="translate(1535.6,2067.4)">
<g clip-path="url(#c)"><rect x="-456" y="-266" width="950" height="465" fill="#4daf4a"/><path fill="#ffff33" fill-rule="evenodd" d="M33 -150l-1 -1l1 -3l1 1zM17 -148l-1 -1l1 -1l1 1zM113 -138l-1 -1l1 -1l1 1zM119 -110l-1 -1l1 -3l1 1zM323 -92l-1 -1l1 -1l1 1zM175 -82l-1 -1l1 -1l1 1zM305 -78l-9 -3l3 -3l8 0l1 3zM297 -72l-1 -1l1 -1l1 1zM231 -52l-1 -1l1 -1l1 1zM-237 -34l-7 -1l0 -6l3 -3l5 9zM41 -40l-2 0l-3 -3l5 -1l1 1zM93 -18l-3 -3l0 -2l4 -4l0 -2l3 -1l3 3l0 6l-5 1zM-173 -24l-3 -1l3 -3l1 1zM-1 -24l-3 -1l3 -1l1 1zM-207 -12l-3 -1l3 -3l1 1zM103 -10l-1 -1l1 -1l1 1zM-213 54l-3 -1l-2 -4l0 -4l-4 -6l1 -9l4 0l3 5l-2 4l4 2l-2 4l4 6zM-207 64l-2 0l-5 -5l5 -1l3 5zM-209 82l-1 -1l0 -14l7 -1l1 1l-2 2l2 2l-4 8zM-115 74l-3 -3l1 -1l3 1zM-201 96l-3 -3l0 -4l-4 -4l1 -3l7 9zM-199 100l-1 -1l1 -1l1 1zM-195 110l-5 -5l0 -2l3 -3l1 5l2 2zM-143 108l-1 -1l1 -3l1 1z"/><path fill="#984ea3" fill-rule="evenodd" d="M-283 -64l-6 0l-2 -2l-4 0l-8 -4l-3 -3l2 -4l0 -6l-6 -12l2 -4l-8 -8l4 -10l-1 -1l-1 3l-3 1l-1 -5l-4 -6l0 -6l5 -5l3 -1l4 -8l0 -4l3 -3l4 0l3 -7l4 -4l0 -2l-3 -3l-4 0l-1 -3l-4 -2l3 -1l1 -5l4 -2l-5 -1l-2 -2l-8 0l-1 -9l-1 -1l-10 0l-1 -1l2 -4l-1 -1l-14 4l-1 -3l-5 -3l-10 0l-4 2l-8 -4l-8 8l-2 0l-1 -9l-3 -3l-5 -1l4 -2l0 -4l1 -1l2 2l10 0l2 2l2 -4l8 0l4 -4l8 0l2 2l6 0l6 -4l8 0l2 2l4 0l4 -4l4 0l2 2l12 0l2 2l10 0l2 2l16 0l1 -1l-2 -2l1 -3l10 0l12 -10l4 0l6 -4l2 0l4 4l8 0l4 2l3 3l-2 2l1 1l4 0l4 -6l4 0l2 -2l10 0l2 -2l6 0l2 -2l6 6l5 -3l-2 -2l0 -6l-2 -2l2 -4l-2 -4l1 -1l10 0l2 -2l4 2l12 0l1 1l-1 3l-10 -2l-1 7l-4 4l1 3l2 0l4 -6l4 0l4 -4l4 0l4 -2l2 -4l2 0l3 3l0 4l-6 6l2 2l-2 2l0 4l3 3l2 -6l2 2l5 -1l0 -10l2 -2l-4 -2l1 -3l4 2l8 0l4 2l3 3l-6 4l0 6l5 5l3 1l-3 3l-6 -2l-1 3l-3 1l-4 4l-2 -4l-4 2l-10 0l-2 2l-4 -2l-3 1l0 14l4 8l0 4l4 6l-2 4l3 3l6 0l1 1l-2 4l-3 3l-2 0l-4 -2l-4 -6l-6 2l-10 -8l-6 0l-4 2l-3 3l0 2l-5 3l-4 -2l-1 1l1 1l3 1l0 2l-4 2l1 3l10 0l2 -2l1 3l-3 3l-6 0l-2 -2l-4 0l-1 1l1 1l5 1l-1 3l-4 0l-4 4l-2 -2l-4 0l-1 3l-3 1l-2 4l-4 -2l-4 2l-2 -2l-2 4l-4 0l-3 3l4 2l-4 2l6 6l0 4l-3 3l-5 1l0 4l-2 4l-3 1l-5 5l0 4l-7 1l-6 6l-2 0l-2 6l-14 0l-3 3l2 4l-3 3l-5 1l0 6l-3 3l-2 -2l-5 3l0 6l-2 2l2 4zM-164 -245l-1 -1l-1 1l1 1zM-179 -240l-1 -3l3 -1l1 1zM-140 -241l-1 -1l-1 1l1 1zM277 -66l-6 -2l-1 -3l-4 -2l2 -2l0 -4l-3 -1l-4 -6l-4 0l-4 4l-8 0l-2 -2l-6 0l-2 -2l-4 0l-5 -5l-1 -3l-4 0l-1 -1l2 -2l-1 -1l-8 0l-2 -2l-10 0l-5 3l2 2l-1 3l-6 0l-2 2l-4 0l-4 4l-4 -2l-10 0l-8 -6l-18 -2l-1 -1l2 -2l0 -4l-1 -1l-4 2l-1 -5l-4 -2l1 -3l4 0l2 -2l3 1l2 4l0 4l1 1l4 -2l8 10l8 0l4 4l4 0l3 -3l0 -4l-3 -5l-2 0l-4 4l-5 -1l0 -2l-6 -8l4 -4l0 -2l-3 -3l-5 -1l0 -4l2 -2l-3 -1l-4 2l-5 -3l0 -2l6 -8l-1 -3l-6 0l-4 -6l-2 4l-3 -3l-1 -5l-3 1l2 2l-1 1l-4 0l-2 2l-4 -2l-1 -3l-11 -9l-10 0l-2 -2l-4 0l-2 2l-8 0l-4 2l-5 -3l-3 -5l-3 -1l0 -6l-3 -1l-2 -4l-6 0l-2 -2l-3 1l1 3l6 0l3 3l-1 5l-4 -6l-14 -2l-1 -1l1 -1l5 -3l-3 -1l-1 -3l7 -3l1 -3l-8 -8l-1 -3l-14 0l-4 4l-10 0l-1 -3l6 -12l11 -3l3 -3l1 -7l4 2l4 -4l2 0l4 6l6 0l2 2l6 0l4 -4l6 -2l5 5l1 3l4 0l3 3l1 9l6 0l8 -4l4 2l4 -4l2 0l4 4l2 -2l4 2l4 -4l8 0l5 -5l0 -4l7 -9l4 0l2 -2l6 0l4 2l1 -1l-3 -1l-1 -1l1 -1l14 -2l4 -4l12 0l4 2l1 -1l-2 -2l1 -1l4 0l1 3l5 3l6 0l2 2l12 0l2 2l6 0l2 -6l6 0l2 -2l4 0l2 2l4 -4l6 0l2 6l4 -2l6 6l4 -2l4 0l10 6l2 -4l4 0l8 4l2 4l4 0l4 -2l6 -6l2 0l4 4l10 0l8 6l2 -2l4 0l2 4l2 0l2 -4l4 2l4 -6l4 2l18 0l1 5l2 2l0 4l4 4l1 3l5 1l2 4l-2 4l4 4l-5 1l-1 3l-5 3l-4 -4l-4 2l-6 0l-1 -1l1 -1l3 -1l-7 -1l-3 -3l0 -4l-3 -1l-2 2l-4 0l-4 2l-3 3l2 4l-1 1l-6 0l-4 2l-3 3l0 4l-4 2l0 4l-3 3l-2 -2l-3 1l2 2l-2 4l0 4l4 8l10 6l-2 10l-5 1l-2 4l-4 0l-1 -3l-3 -3l-2 0l-10 8l-4 -2l-3 3l-2 6l4 6l-3 1l-4 6l-6 0l-3 3l4 8l0 4l-3 3l-10 2l-3 3l0 2l-5 5l-3 1l3 1l7 7l-3 3l-2 -2l-1 1l4 4zM223 -240l-1 -1l1 -1l1 1zM235 -240l-1 -1l1 -1l1 1zM-162 -235l-3 -5l-3 5l1 1zM121 -234l-1 -3l3 -3l1 3zM115 -232l-5 -5l1 -1l7 1zM-103 -232l-3 -1l3 -1l1 1zM61 -230l-1 -1l1 -1l1 1zM-317 -224l-1 -1l1 -1l1 1zM298 -223l-1 -1l-3 1l1 1zM194 -193l6 -4l-2 -2l1 -3l4 -2l2 2l4 -2l1 -5l2 -2l-13 -9l-12 0l-2 4l-2 -2l-4 0l-8 -4l-4 6l-10 4l-3 3l0 2l3 3l2 -2l4 0l4 4l4 0l4 -4l8 0l5 7l0 4l5 3zM-133 -218l-1 -1l1 -1l1 1zM-395 -212l-5 -1l3 -3l3 3zM-360 -213l-1 -1l-3 1l1 1zM224 -209l-1 -3l-3 1l1 3zM161 -208l-3 -1l3 -1l1 1zM-224 -179l3 -3l8 -4l2 2l5 -1l-6 -4l0 -6l-3 -3l-4 0l-4 -6l-6 -2l-3 9l-5 3l-3 3l0 2l3 3l9 3l-5 1l-1 1l1 3zM122 -197l3 -1l1 -3l-5 -5l-2 2l-5 1l7 7zM403 -204l-3 -1l3 -1l1 1zM-322 -197l-1 -1l-1 1l1 1zM116 -195l-1 -1l-1 1l1 1zM340 -193l-1 -1l-1 1l1 1zM9 -186l-1 -1l1 -1l1 1zM-319 -182l-1 -1l1 -1l1 1zM-208 -179l-1 -1l-1 1l1 1zM-125 -178l-1 -1l1 -1l1 1zM-127 -176l-1 -1l1 -1l1 1zM-307 -168l-3 -1l3 -1l1 1zM-188 -167l-1 -1l-1 1l1 1zM232 -165l-1 -1l-1 1l1 1zM-284 -161l-1 -1l-1 1l1 1zM-206 -161l-1 -1l-1 1l1 1zM296 -159l-1 -1l-3 1l1 1zM128 -157l-1 -1l-3 1l1 1zM330 -149l2 -2l-1 -1l-5 1l3 3zM314 -141l-1 -1l-1 1l1 1zM-317 -138l-1 -1l1 -1l1 1zM-13 -122l-2 -2l-8 0l-1 -3l2 -4l13 -9l8 0l1 5l-3 1l-1 5l-3 1zM300 -135l-1 -1l-3 1l1 1zM-329 -126l-1 -1l1 -1l1 1zM-29 -118l-1 -1l1 -1l1 1zM153 -116l-1 -1l1 -1l1 1zM-321 -106l-1 -1l1 -1l1 1zM-5 -88l-5 -1l2 -2l0 -8l5 -1l2 -2l4 0l1 1l-2 2l3 1l1 3l-5 5l-4 0zM299 -98l-1 -1l1 -1l1 1zM91 -56l-2 0l-8 -6l-16 0l-1 -1l2 -4l-4 -4l2 -4l-9 -1l-1 -3l2 -4l-1 -1l-4 2l-7 -5l3 -1l2 2l4 -6l6 2l1 -3l3 -1l4 -4l8 0l1 1l-4 6l2 10l-3 1l-2 -2l-4 0l-1 3l5 1l2 2l4 0l6 4l6 0l6 4l4 0l1 1l-4 2l-2 4l2 2zM103 -90l-5 -5l1 -1l5 1zM-259 -92l-1 -1l1 -1l1 1zM41 -86l-3 -1l3 -1l1 1zM-274 -83l-1 -1l-3 1l1 1zM43 -82l-3 -1l3 -1l1 1zM39 -74l-3 -1l1 -3l3 1zM265 -70l-1 -1l1 -1l1 1zM86 -67l-1 -1l-1 1l1 1zM131 -64l-1 -1l1 -1l1 1zM273 -54l-1 -1l1 -7l8 0l3 3l-5 1zM113 -56l-1 -1l1 -1l1 1zM337 -48l-4 -2l-2 2l-4 0l-3 -3l0 -4l3 -3l6 0l4 2l1 1zM93 -52l-1 -1l1 -1l1 1zM113 -50l-1 -1l1 -1l1 1zM353 -28l-2 -2l-4 0l-6 -6l-3 -1l2 -4l-2 -2l1 -3l6 -2l3 3l0 2l4 2l0 8l2 2zM117 -44l-3 -1l3 -1l1 1zM119 -24l-9 -1l-2 -10l-4 -2l1 -3l4 -2l6 0l1 1l-1 1l-3 1l5 3l5 1l0 8zM275 -22l-1 -1l1 -1l1 1zM337 14l-2 0l-4 -6l-6 0l-4 -2l-3 -3l0 -4l-6 -6l4 -4l-2 -4l2 -2l0 -4l3 -3l6 0l4 2l1 1l0 10l8 2l0 4l2 4l-6 4l4 8zM293 -2l-6 0l-3 -3l2 -2l-2 -4l0 -4l-3 -3l-4 2l-3 -3l3 -3l10 0l4 4l6 0l2 2l2 -2l1 1l0 2l-3 3l-4 0l-6 -4l-1 1l5 5l3 1l-2 2zM309 -10l-1 -1l1 -1l1 1zM63 108l-10 0l-8 -4l-3 -3l0 -2l5 -1l1 -3l-6 -4l7 -1l3 -3l-5 -1l-4 2l-4 -2l-1 3l-3 1l-3 -3l0 -2l6 -2l-5 -1l-4 -4l-2 0l-3 -3l2 -4l-4 -2l7 -1l2 2l6 0l2 2l4 -4l4 0l3 -3l-2 -4l-4 -2l2 -2l-2 -2l3 -1l5 -5l2 -6l-5 -1l-2 -2l-4 0l-5 -9l5 -1l3 -5l-2 -4l2 -6l-4 -4l0 -2l2 -4l4 -2l1 -3l2 0l3 3l0 2l3 1l1 3l6 6l-2 4l2 2l0 6l-2 2l1 1l8 4l4 -4l6 0l4 -2l8 6l6 0l5 3l-1 3l-4 0l-3 3l0 4l-2 2l0 6l-3 3l-2 -2l-4 0l-4 2l-6 8l-6 -4l-4 2l-2 -4l-3 1l1 3l2 0l11 9l-1 3l-4 0l-2 -2l-3 1l10 10l2 4l-2 2l0 4l-8 8l0 2zM-203 34l-6 0l-9 -7l0 -6l-2 -2l0 -4l-6 -4l7 -7l7 1l2 4l0 4l-2 4l4 4l0 4l1 1l4 -2l3 3l0 4zM419 40l-14 -4l-1 -3l6 -2l-3 -3l-6 0l-2 -6l-4 2l-3 -3l-1 -5l-4 4l-8 0l-3 -3l0 -2l3 -3l6 0l2 -2l4 2l4 -4l2 6l4 -2l8 0l4 4l4 0l3 3l0 6l2 2l0 10zM343 16l-3 -1l3 -1l1 1zM-223 20l-1 -1l1 -1l1 1zM400 19l-1 -1l-1 1l1 1zM41 26l-1 -1l1 -1l1 1zM39 28l-3 -1l3 -1l1 1zM50 37l-1 -1l-1 1l1 1zM-191 96l-4 0l-3 -5l0 -14l4 -2l-2 -4l0 -8l-2 -2l0 -6l-3 -3l-2 2l-3 -3l0 -2l3 -1l5 -5l-2 -2l3 -3l6 0l6 6l2 0l1 7l2 2l-6 12l0 4l4 4l0 2l-4 4l4 4l0 4l2 2l-5 5l-4 0zM143 46l-4 0l-4 -2l-1 -3l3 -1l4 2l3 3zM421 42l-1 -1l1 -1l1 1zM369 48l-1 -1l1 -1l1 1zM377 70l-4 0l-2 -4l-4 2l-3 -3l-4 -8l11 -9l6 0l3 3l-2 4l5 3l4 0l3 3l-3 1l-4 4l-2 0zM121 72l-4 0l-1 -1l2 -2l-2 -2l4 -2l0 -4l2 -4l3 -1l4 -6l3 1l1 5l4 -2l7 1l-1 5l-9 1l2 4l-5 5l-4 0l-4 -2zM-205 56l-1 -1l1 -1l1 1zM-173 60l-1 -1l1 -3l1 1zM89 60l-3 -1l3 -1l1 1zM-175 62l-1 -1l1 -1l1 1zM143 66l-1 -1l1 -1l1 1zM327 110l-7 -1l6 -6l1 -3l7 -3l-4 -2l-2 -4l0 -8l-6 -4l2 -2l-2 -2l5 -1l4 -4l13 13l2 4l-5 1l-3 5l1 1l4 -4l8 0l1 3l-9 3l-1 1l1 1l3 1l-5 1l-4 4l-4 -2l-5 5zM36 77l-3 -3l-3 1l3 3zM135 78l-1 -1l1 -1l1 1zM363 92l-4 -2l-7 -7l-2 -4l1 -1l12 0l2 -2l3 1l0 8l2 4l-5 1zM42 79l-1 -1l-3 1l1 1zM79 80l-5 -1l5 -1l1 1zM54 81l-1 -1l-3 1l1 1zM39 96l-5 -1l1 -3l4 -2l1 1zM-181 118l-4 0l-9 -5l3 -1l12 -10l1 5l2 2l0 4zM-171 146l-3 -1l0 -4l-2 -2l0 -6l4 -8l-4 -2l1 -3l6 0l1 1l-2 2l1 1l4 0l3 3l-2 2l0 4l-3 1l-5 5l4 4zM451 140l-1 -1l1 -1l1 1zM429 156l-5 -3l1 -5l8 0l4 -4l8 -4l5 1l-3 3l-6 2l-4 8l-6 0zM-169 174l-4 0l-3 -5l0 -8l-4 -4l0 -2l3 -3l10 0l1 1l0 14l-2 2l2 2z"/><path fill="#377eb8" fill-rule="evenodd" d="M113 -234l-1 -1l1 -3l1 1zM-243 -220l-5 -1l5 -5l2 0l3 3zM333 -216l-6 0l-8 -4l-3 -3l0 -2l3 -1l2 2l8 0l1 1l-2 4l3 1l2 -2l1 1zM361 -214l-9 -1l9 -7l4 0l4 2l1 -1l-2 -2l3 -1l3 3l-1 3l-4 0zM-289 -198l-6 0l-2 -2l-6 0l-2 2l-2 -2l-6 0l-2 -2l-5 -1l-3 -7l-2 2l-4 0l-2 -2l-8 0l-5 -3l3 -3l8 0l2 4l6 -4l12 0l2 2l4 -4l8 0l2 4l4 0l2 -2l6 0l4 2l4 -2l8 6l2 0l4 -6l4 0l4 -4l1 1l2 6l-6 4l-1 5l-6 0l-2 2l-4 -2l-14 0zM339 -214l-3 -1l3 -1l1 1zM351 -210l-1 -1l1 -3l1 1zM233 -170l-1 -1l1 -1l1 1zM247 -142l-2 0l-4 -4l-6 0l-9 -9l0 -6l3 -3l2 2l2 -6l4 0l4 6l4 0l1 3l6 6l0 4zM241 -166l-1 -1l1 -1l1 1zM257 -156l-3 -1l1 -3l3 3zM-283 -82l-8 0l-2 -4l-4 -2l-2 2l-5 -5l0 -10l-4 -6l2 -4l-2 -2l0 -12l-2 -4l-4 -2l6 -2l2 -4l-2 -2l6 -4l0 -4l5 -5l10 0l4 2l8 -4l1 3l-3 1l-1 3l2 4l4 2l0 2l-4 4l-2 4l0 4l6 4l-5 1l-1 3l10 6l0 6l-2 2l2 2l-4 2l0 4l-4 2l-1 5l-7 1l2 2zM193 -130l-4 0l-3 -3l0 -2l3 -1l4 2l1 1zM245 -86l-2 0l-6 -6l-6 -2l-3 -5l0 -4l-5 -3l-2 2l-2 -6l-6 0l-4 -4l-4 0l-3 -3l0 -6l-8 -2l2 -6l3 -1l4 4l4 0l6 -4l4 0l2 -4l4 0l4 4l2 -2l8 0l2 2l6 0l6 6l4 2l6 0l2 2l4 0l6 4l2 -2l7 1l0 4l4 4l-2 2l0 10l-2 2l2 2l-1 1l-6 0l-6 6l-6 0l-8 -4zM189 -124l-1 -1l1 -1l1 1zM-267 -120l-5 -1l5 -1l1 1zM258 -105l2 -2l-1 -1l-2 0l-3 3l1 1zM419 28l-2 -2l-4 0l-4 -2l-3 -3l1 -7l3 1l-2 2l1 1l9 1l2 4zM-193 96l-5 -5l0 -10l4 -4l0 -8l-2 -2l2 -2l-2 -4l2 -2l0 -4l2 -4l3 -1l3 3l0 18l2 2l-2 6l4 4l0 6l-3 3zM435 154l-10 0l-1 -3l7 -1l4 -4l8 -4l5 1l-7 3zM-169 174l-3 -1l-4 -6l0 -6l-2 -2l0 -4l3 -3l1 3l6 4l0 4l2 2l-2 4l2 2z"/><path fill="#e41a1c" fill-rule="evenodd" d="M229 -102l-6 -6l-2 0l-2 -4l-6 0l-2 -2l-4 0l-4 -2l-1 -9l7 -1l2 2l4 0l2 -2l2 2l6 0l2 -2l4 0l4 4l4 0l2 -2l3 3l0 6l-6 4l2 4l-7 1zM243 -110l-1 -1l1 -1l1 1zM273 -106l-3 -1l3 -1l1 1zM283 -94l-2 0l-7 -7l1 -5l4 0l3 3l0 6l2 2zM-169 172l-2 0l-3 -3l0 -4l-4 -6l1 -5l2 0l4 4l3 1l0 4l2 2l-2 2z"/></g>
<use href="#L" fill="none" stroke="#000" stroke-width="1.25" stroke-linejoin="round"/>
<use href="#G" fill="#fff" stroke="#000" stroke-width="1.25" stroke-linejoin="round"/>
<use href="#D" fill="#000"/>
</g>
<text x="546.4" y="56.4" font-size="54" font-weight="bold" text-anchor="middle">HadGEM2-ES</text><text x="1551.2" y="56.4" font-size="54" font-weight="bold" text-anchor="middle">IPSL-CM5A-LR</text><text x="103.2" y="126.4" font-size="28" font-weight="bold">(a)</text><text x="1107.3" y="126.4" font-size="28" font-weight="bold">(b)</text><text x="103.2" y="679.7" font-size="28" font-weight="bold">(c)</text><text x="1107.3" y="679.7" font-size="28" font-weight="bold">(d)</text><text x="103.2" y="1241.0" font-size="28" font-weight="bold">(e)</text><text x="1107.3" y="1241.0" font-size="28" font-weight="bold">(f)</text><text x="103.2" y="1846.3" font-size="28" font-weight="bold">(g)</text><text x="1107.3" y="1846.3" font-size="28" font-weight="bold">(h)</text><text transform="translate(50.2,345.0) rotate(-90)" font-size="44" font-weight="bold" text-anchor="middle">dRn</text><text transform="translate(50.2,898.0) rotate(-90)" font-size="44" font-weight="bold" text-anchor="middle">dPET-PT</text><text transform="translate(50.2,1458.7) rotate(-90)" font-size="44" font-weight="bold" text-anchor="middle">dPET-PT-MA</text><text transform="translate(50.2,2064.1) rotate(-90)" font-size="44" font-weight="bold" text-anchor="middle">DC</text><rect x="1075.0" y="1660.2" width="80.7" height="17.0" fill="#2f86bd"/><rect x="1155.4" y="1660.2" width="80.7" height="17.0" fill="#ffff33"/><rect x="1235.8" y="1660.2" width="80.7" height="17.0" fill="#fdbb84"/><rect x="1316.2" y="1660.2" width="80.7" height="17.0" fill="#fc8d59"/><rect x="1396.6" y="1660.2" width="80.7" height="17.0" fill="#e34a33"/><rect x="1477.0" y="1660.2" width="80.7" height="17.0" fill="#b30000"/><rect x="1557.4" y="1660.2" width="80.7" height="17.0" fill="#7a0177"/><rect x="1075.0" y="1660.2" width="562.8" height="17.0" fill="none" stroke="#000" stroke-width="1.3"/><text x="1075.0" y="1703.8" font-size="21.5" text-anchor="middle">-1</text><text x="1155.4" y="1703.8" font-size="21.5" text-anchor="middle">-0.1</text><text x="1235.8" y="1703.8" font-size="21.5" text-anchor="middle">0.1</text><text x="1316.2" y="1703.8" font-size="21.5" text-anchor="middle">0.4</text><text x="1396.6" y="1703.8" font-size="21.5" text-anchor="middle">0.7</text><text x="1477.0" y="1703.8" font-size="21.5" text-anchor="middle">1</text><text x="1557.4" y="1703.8" font-size="21.5" text-anchor="middle">1.3</text><text x="1637.8" y="1703.8" font-size="21.5" text-anchor="middle">5.3</text><text x="1630.2" y="1646" font-size="21.5" text-anchor="end">[mm/day]</text><rect x="1075.0" y="2265.0" width="94.1" height="17.2" fill="#e41a1c"/><rect x="1168.8" y="2265.0" width="94.1" height="17.2" fill="#377eb8"/><rect x="1262.6" y="2265.0" width="94.1" height="17.2" fill="#984ea3"/><rect x="1356.4" y="2265.0" width="94.1" height="17.2" fill="#4daf4a"/><rect x="1450.2" y="2265.0" width="94.1" height="17.2" fill="#ffff33"/><rect x="1544.0" y="2265.0" width="94.1" height="17.2" fill="#a65628"/><rect x="1075.0" y="2265.0" width="562.8" height="17.2" fill="none" stroke="#000" stroke-width="1.3"/><text x="1165.3" y="2309.4" font-size="21.5" text-anchor="middle">-100</text><text x="1259.1" y="2309.4" font-size="21.5" text-anchor="middle">-60</text><text x="1352.9" y="2309.4" font-size="21.5" text-anchor="middle">-40</text><text x="1446.7" y="2309.4" font-size="21.5" text-anchor="middle">-20</text><text x="1544.0" y="2309.4" font-size="21.5" text-anchor="middle">0</text><text x="1586.7" y="2253.5" font-size="21.5" text-anchor="middle">[%]</text><text x="130.4" y="2275.5" font-size="29.15">DC -30% indicates: PET increase in PT-MA is 30% smaller than PT</text>
</svg></body></html>
